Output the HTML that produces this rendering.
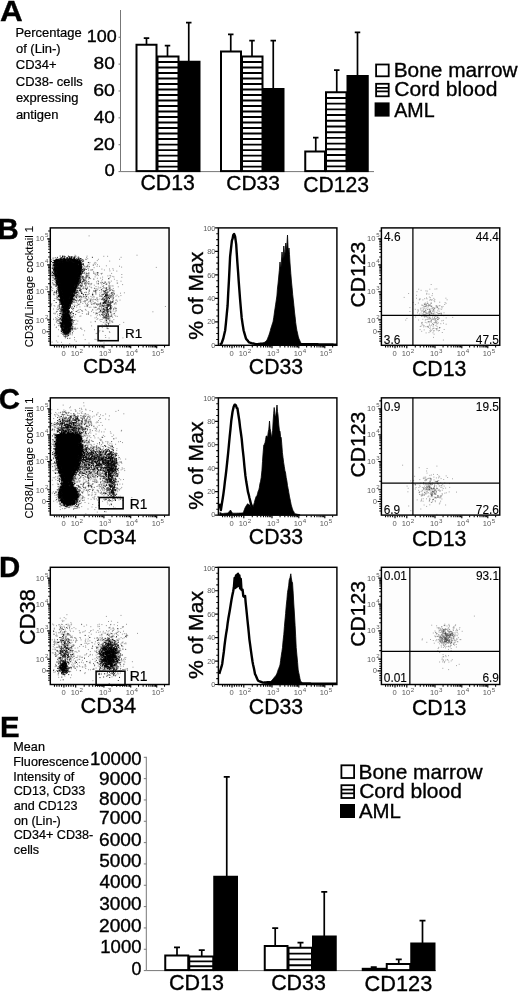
<!DOCTYPE html>
<html lang="en"><head><meta charset="utf-8"><title>Figure</title>
<style>html,body{margin:0;padding:0;background:#fff}svg{display:block}text{font-family:'Liberation Sans', Arial, sans-serif;}</style>
</head><body>
<svg width="520" height="995" viewBox="0 0 520 995">
<rect width="520" height="995" fill="#fff"/>
<defs><filter id="b1" x="-20%" y="-20%" width="140%" height="140%"><feGaussianBlur stdDeviation="1"/></filter><filter id="b2" x="-30%" y="-30%" width="160%" height="160%"><feGaussianBlur stdDeviation="2"/></filter><filter id="b3" x="-40%" y="-40%" width="180%" height="180%"><feGaussianBlur stdDeviation="3.5"/></filter></defs>
<g id="panelA">
<text x="0.01" y="21.2" font-size="29" stroke="#000" stroke-width="0.35" textLength="22.74" lengthAdjust="spacingAndGlyphs" font-weight="bold">A</text>
<text x="15.46" y="36.6" font-size="12.95" stroke="#000" stroke-width="0.22" textLength="66.24" lengthAdjust="spacingAndGlyphs">Percentage</text>
<text x="15.98" y="53.0" font-size="12.95" stroke="#000" stroke-width="0.22" textLength="44.62" lengthAdjust="spacingAndGlyphs">of (Lin-)</text>
<text x="15.85" y="69.4" font-size="12.95" stroke="#000" stroke-width="0.22" textLength="40.67" lengthAdjust="spacingAndGlyphs">CD34+</text>
<text x="15.85" y="85.8" font-size="12.95" stroke="#000" stroke-width="0.22" textLength="66.93" lengthAdjust="spacingAndGlyphs">CD38- cells</text>
<text x="15.92" y="102.2" font-size="12.95" stroke="#000" stroke-width="0.22" textLength="62.63" lengthAdjust="spacingAndGlyphs">expressing</text>
<text x="15.92" y="118.6" font-size="12.95" stroke="#000" stroke-width="0.22" textLength="42.49" lengthAdjust="spacingAndGlyphs">antigen</text>
<path d="M120.5 10V171.6H374" stroke="#777" stroke-width="1" fill="none"/>
<path d="M118.5 171.60H120.5M118.5 144.73H120.5M118.5 117.86H120.5M118.5 90.99H120.5M118.5 64.12H120.5M118.5 37.25H120.5" stroke="#777" stroke-width="1"/>
<text x="86.85" y="42.2" font-size="17" stroke="#000" stroke-width="0.35" textLength="29.93" lengthAdjust="spacingAndGlyphs">100</text>
<text x="93.64" y="69" font-size="17" stroke="#000" stroke-width="0.35" textLength="21.27" lengthAdjust="spacingAndGlyphs">80</text>
<text x="93.22" y="95.9" font-size="17" stroke="#000" stroke-width="0.35" textLength="21.70" lengthAdjust="spacingAndGlyphs">60</text>
<text x="93.72" y="122.9" font-size="17" stroke="#000" stroke-width="0.35" textLength="21.18" lengthAdjust="spacingAndGlyphs">40</text>
<text x="93.22" y="149.5" font-size="17" stroke="#000" stroke-width="0.35" textLength="21.70" lengthAdjust="spacingAndGlyphs">20</text>
<text x="104.56" y="176.3" font-size="17" stroke="#000" stroke-width="0.35" textLength="10.30" lengthAdjust="spacingAndGlyphs">0</text>
<path d="M146.50 44.75V37.50M143.75 38.10H149.25" stroke="#000" stroke-width="1.7" fill="none"/>
<path d="M167.50 56.50V45.00M164.75 45.60H170.25" stroke="#000" stroke-width="1.7" fill="none"/>
<path d="M188.75 61.75V22.00M186.00 22.60H191.50" stroke="#000" stroke-width="1.7" fill="none"/>
<path d="M230.75 51.50V33.75M228.00 34.35H233.50" stroke="#000" stroke-width="1.7" fill="none"/>
<path d="M252.00 56.50V40.00M249.25 40.60H254.75" stroke="#000" stroke-width="1.7" fill="none"/>
<path d="M273.25 89.00V40.00M270.50 40.60H276.00" stroke="#000" stroke-width="1.7" fill="none"/>
<path d="M315.75 151.50V137.00M313.00 137.60H318.50" stroke="#000" stroke-width="1.7" fill="none"/>
<path d="M336.75 92.25V69.50M334.00 70.10H339.50" stroke="#000" stroke-width="1.7" fill="none"/>
<path d="M357.50 76.00V31.75M354.75 32.35H360.25" stroke="#000" stroke-width="1.7" fill="none"/>
<rect x="136.50" y="44.75" width="20.00" height="126.35" fill="#fff" stroke="#000" stroke-width="2"/>
<rect x="157.50" y="56.50" width="21.00" height="114.60" fill="#fff" stroke="#000" stroke-width="2"/>
<path d="M157.50 62.00H178.50M157.50 67.51H178.50M157.50 73.01H178.50M157.50 78.52H178.50M157.50 84.02H178.50M157.50 89.53H178.50M157.50 95.03H178.50M157.50 100.54H178.50M157.50 106.04H178.50M157.50 111.55H178.50M157.50 117.05H178.50M157.50 122.56H178.50M157.50 128.06H178.50M157.50 133.57H178.50M157.50 139.07H178.50M157.50 144.58H178.50M157.50 150.08H178.50M157.50 155.59H178.50M157.50 161.09H178.50M157.50 166.60H178.50" stroke="#000" stroke-width="1.9" fill="none"/>
<rect x="178.50" y="60.75" width="22.00" height="111.35" fill="#000"/>
<rect x="221.00" y="51.50" width="20.00" height="119.60" fill="#fff" stroke="#000" stroke-width="2"/>
<rect x="242.00" y="56.50" width="20.50" height="114.60" fill="#fff" stroke="#000" stroke-width="2"/>
<path d="M242.00 62.00H262.50M242.00 67.51H262.50M242.00 73.01H262.50M242.00 78.52H262.50M242.00 84.02H262.50M242.00 89.53H262.50M242.00 95.03H262.50M242.00 100.54H262.50M242.00 106.04H262.50M242.00 111.55H262.50M242.00 117.05H262.50M242.00 122.56H262.50M242.00 128.06H262.50M242.00 133.57H262.50M242.00 139.07H262.50M242.00 144.58H262.50M242.00 150.08H262.50M242.00 155.59H262.50M242.00 161.09H262.50M242.00 166.60H262.50" stroke="#000" stroke-width="1.9" fill="none"/>
<rect x="262.50" y="88.00" width="22.00" height="84.10" fill="#000"/>
<rect x="305.25" y="151.50" width="19.75" height="19.60" fill="#fff" stroke="#000" stroke-width="2"/>
<rect x="326.00" y="92.25" width="20.50" height="78.85" fill="#fff" stroke="#000" stroke-width="2"/>
<path d="M326.00 97.95H346.50M326.00 103.66H346.50M326.00 109.36H346.50M326.00 115.06H346.50M326.00 120.77H346.50M326.00 126.47H346.50M326.00 132.18H346.50M326.00 137.88H346.50M326.00 143.58H346.50M326.00 149.29H346.50M326.00 154.99H346.50M326.00 160.69H346.50M326.00 166.40H346.50" stroke="#000" stroke-width="1.9" fill="none"/>
<rect x="346.50" y="75.00" width="22.25" height="97.10" fill="#000"/>
<text x="140.44" y="190.4" font-size="21.26" stroke="#000" stroke-width="0.35" textLength="54.36" lengthAdjust="spacingAndGlyphs">CD13</text>
<text x="226.36" y="190.2" font-size="20.89" stroke="#000" stroke-width="0.35" textLength="53.42" lengthAdjust="spacingAndGlyphs">CD33</text>
<text x="303.14" y="192.2" font-size="21.16" stroke="#000" stroke-width="0.35" textLength="65.87" lengthAdjust="spacingAndGlyphs">CD123</text>
<rect x="376.10" y="64.50" width="12.60" height="11.80" fill="#fff" stroke="#000" stroke-width="1.8"/>
<rect x="376.10" y="83.80" width="12.60" height="12.50" fill="#fff" stroke="#000" stroke-width="1.8"/>
<path d="M376 87.8H389M376 91.3H389" stroke="#000" stroke-width="1.8"/>
<rect x="374.60" y="102.40" width="15.00" height="14.20" fill="#000"/>
<text x="393.73" y="76.8" font-size="20.83" stroke="#000" stroke-width="0.35" textLength="123.90" lengthAdjust="spacingAndGlyphs">Bone marrow</text>
<text x="394.35" y="96.3" font-size="21.07" stroke="#000" stroke-width="0.35" textLength="103.07" lengthAdjust="spacingAndGlyphs">Cord blood</text>
<text x="394.2" y="116.8" font-size="19.65" stroke="#000" stroke-width="0.35" textLength="40.41" lengthAdjust="spacingAndGlyphs">AML</text>
</g>
<g id="panelB">
<text x="-2.61" y="238.8" font-size="29.4" stroke="#000" stroke-width="0.35" textLength="21.23" lengthAdjust="spacingAndGlyphs" font-weight="bold">B</text>
<clipPath id="c1"><rect x="50.3" y="227.9" width="118.75" height="117.40"/></clipPath>
<rect x="50.3" y="227.9" width="118.75" height="117.40" fill="#fdfdfd"/>
<g clip-path="url(#c1)">
<path d="M55.5 261.0L62.0 260.2L72.0 260.2L79.5 261.2L80.3 271.0L75.5 286.0L70.0 301.0L67.2 310.0L67.0 314.0L69.8 319.5L70.0 327.0L67.5 332.5L64.5 332.5L62.4 327.0L62.6 319.5L64.4 314.0L64.2 310.0L62.0 301.0L59.0 286.0L55.3 271.0Z" fill="#000" fill-opacity="1" filter="url(#b1)"/>
<path transform="scale(.1)" d="M659 3293h0M676 3160h0M652 3089h0M694 2944h0M679 3100h0M602 3157h0M533 2733h0M710 2630h0M620 3237h0M753 2602h0M691 2850h0M698 3286h0M763 2828h0M702 2850h0M805 2676h0M777 2771h0M593 3043h0M699 2977h0M695 3082h0M695 3037h0M546 2846h0M655 3150h0M776 2722h0M741 3292h0M694 3117h0M811 2703h0M729 2957h0M725 2900h0M591 2910h0M633 3209h0M797 2697h0M572 2898h0M830 2784h0M807 2980h0M779 2800h0M584 3257h0M764 2894h0M652 2938h0M634 3181h0M716 2601h0M614 3292h0M693 3102h0M767 2625h0M727 3295h0M759 2627h0M659 3247h0M665 3056h0M631 2597h0M762 2950h0M633 3004h0M585 2852h0M650 3117h0M782 2619h0M805 2639h0M746 2636h0M637 3338h0M672 2667h0M634 2817h0M706 3238h0M759 2622h0M567 2855h0M734 3313h0M629 2898h0M768 2958h0M624 3158h0M815 2609h0M590 2957h0M697 3174h0M702 2943h0M590 2808h0M698 3055h0M604 2965h0M811 2710h0M565 2929h0M659 3307h0M725 2595h0M774 2573h0M580 2873h0M668 2604h0M639 3022h0M641 3037h0M570 2749h0M677 3262h0M603 2959h0M578 3075h0M743 2958h0M617 3115h0M704 3267h0M564 2751h0M609 2891h0M656 3073h0M549 2612h0M806 2628h0M730 2957h0M743 2569h0M654 3325h0M582 3362h0M545 2628h0M707 2623h0M692 2653h0M619 2889h0M813 2760h0M627 2597h0M594 3153h0M741 2837h0M607 3106h0M789 2872h0M649 3327h0M615 2772h0M710 3220h0M648 3059h0M548 2632h0M682 3339h0M746 2933h0M779 2969h0M645 3302h0M681 3199h0M580 2739h0M848 2822h0M738 2815h0M723 3294h0M578 2881h0M520 2645h0M742 2842h0M768 2736h0M732 2596h0M633 3145h0M748 2601h0M699 3069h0M535 2733h0M751 3244h0M650 3149h0M692 3299h0M627 2859h0M701 3382h0M684 3148h0M637 3310h0M712 2585h0M793 2753h0M580 2817h0M601 3014h0M566 2616h0M663 3312h0M681 2588h0M701 2793h0M716 2960h0M758 2683h0M737 2906h0M708 2578h0M605 2785h0M621 3188h0M628 3240h0M669 3132h0M689 3123h0M768 3239h0M670 3332h0M623 3220h0M675 3141h0M512 2735h0M593 2868h0M580 2649h0M688 3133h0M558 2731h0M712 2610h0M557 2597h0M819 2698h0M526 2715h0M687 3344h0M562 2637h0M570 2813h0M701 2848h0M751 2574h0M669 3276h0M617 2592h0M628 3047h0M640 2561h0M615 3267h0M556 2746h0M714 2963h0M602 2615h0M549 2617h0M658 3028h0M615 2971h0M750 2552h0M705 3308h0M764 2610h0M526 2905h0M691 2961h0M698 2579h0M678 3007h0M645 2609h0M703 3224h0M678 3024h0M554 2862h0M603 3046h0M684 3332h0M746 2912h0M636 3052h0M786 2671h0M630 3304h0M688 3061h0M536 2788h0M796 2710h0M645 2640h0M729 3164h0M577 3203h0M795 2996h0M622 2978h0M779 2743h0M586 2606h0M752 2833h0M558 2633h0M705 2942h0M791 2933h0M630 3059h0M811 2755h0M826 2668h0M727 2608h0M741 2648h0M603 3137h0M704 3017h0M642 2837h0M690 2582h0M737 3023h0M618 2894h0M553 2763h0M637 3201h0M736 2584h0M784 2657h0M563 3222h0M636 3073h0M800 2685h0M650 2656h0M645 3211h0M632 3308h0M679 2585h0M699 2579h0M612 3307h0M527 2724h0M743 3206h0M570 2994h0M707 3209h0M632 3063h0M678 3174h0M779 2719h0M659 3047h0M612 2628h0M748 2794h0M526 2724h0M561 2612h0M769 2923h0M694 2633h0M677 2965h0M697 3037h0M704 3312h0M692 3019h0M699 3202h0M794 2640h0M625 3105h0M598 3080h0M575 3190h0M803 2961h0M687 3271h0M597 3080h0M782 2844h0M777 2832h0M672 2846h0M771 2662h0M638 2631h0M646 3087h0M539 2846h0M714 3148h0M791 2847h0M675 2658h0M671 3311h0M677 3187h0M811 2802h0M650 3193h0M545 2685h0M595 2851h0M751 2609h0M659 3156h0M614 3087h0M664 2869h0M583 2650h0M668 3189h0M593 2803h0M581 2644h0M700 2615h0M624 3002h0M598 2640h0M721 2569h0M571 2804h0M798 2770h0M622 2657h0M711 2968h0M685 3241h0M621 3334h0M592 2886h0M764 2613h0M708 3216h0M626 2883h0M518 3037h0M651 3312h0M747 2581h0M593 2855h0M552 2683h0M628 2876h0M532 2772h0M531 2581h0M603 3002h0M780 2747h0M741 2662h0M637 3361h0M649 3366h0M566 2884h0M698 3321h0M777 2674h0M685 3167h0M682 3270h0M557 2927h0M751 2906h0M707 3328h0M684 3236h0M658 2847h0M815 2820h0M628 2567h0M678 2964h0M761 2693h0M625 3150h0M790 2757h0M560 3195h0M714 3291h0M692 3283h0M553 2720h0M727 3017h0M627 3245h0M629 3022h0M605 3097h0M733 3226h0M589 2887h0M805 2586h0M779 2589h0M550 2796h0M651 2615h0M760 3005h0M654 3117h0M723 3301h0M614 2849h0M792 2704h0M724 3172h0M671 3185h0M714 2573h0M543 2722h0M686 3199h0M724 3263h0M703 2887h0M671 3186h0M644 3118h0M689 3180h0M786 2835h0M614 3015h0M735 3153h0M674 3154h0M796 2675h0M764 2869h0M690 3201h0M689 3022h0M817 2997h0M557 2754h0M578 2916h0M584 3175h0M784 2798h0M637 3006h0M673 3079h0M567 2790h0M698 3286h0M695 2945h0M697 3235h0M592 3238h0M595 2775h0M723 3261h0M605 2601h0M605 3037h0M616 2749h0M661 2891h0M600 3238h0M565 3270h0M571 2795h0M588 2953h0M745 2633h0M622 3006h0M795 2703h0M676 3301h0M682 3011h0M660 2953h0M714 3246h0M615 3229h0M693 3006h0M589 3084h0M684 2613h0M718 2593h0M717 3001h0M592 3257h0M547 2723h0M702 3195h0M709 3197h0M674 2595h0M622 2822h0M794 2660h0M594 3043h0M660 3052h0M560 2708h0M656 3341h0M610 2575h0M549 2769h0M709 2910h0M590 3203h0M711 2883h0M621 3065h0M719 2614h0M821 2735h0M740 2941h0M783 2813h0M618 3144h0M590 2906h0M610 3254h0M664 2660h0M692 2997h0M638 2975h0M678 3003h0M828 2772h0M778 3211h0M639 2806h0M658 2668h0M549 2798h0M655 3121h0M684 3315h0M525 2804h0M726 2864h0M610 2946h0M676 3321h0M639 3186h0M809 2750h0M613 2994h0M654 2628h0M726 3235h0M522 2740h0M667 3085h0M552 2798h0M783 2930h0M563 2913h0M686 3314h0M655 3099h0M604 2609h0M551 3139h0M622 3191h0M647 2571h0M780 2755h0M656 3374h0M784 2633h0M668 3096h0M585 3195h0M604 2867h0M838 2777h0M522 2748h0M668 3112h0M627 3179h0M563 3185h0M646 2606h0M732 2591h0M581 2830h0M611 3003h0M562 3276h0M664 3222h0M675 3057h0M693 3115h0M682 3302h0M652 2586h0M607 2889h0M544 2949h0M782 2730h0M611 3087h0M559 2860h0M737 2765h0M689 2956h0M601 2601h0M710 3289h0M672 2620h0M582 2865h0M742 2838h0M770 2877h0M769 2766h0M691 3241h0M667 3349h0M661 3246h0M821 2737h0M636 2949h0M692 2871h0M677 3263h0M736 2828h0M641 3166h0M809 2649h0M792 2832h0M714 2993h0M556 2696h0M650 3064h0M589 2630h0M673 2607h0M549 3062h0M628 2942h0M537 2776h0M790 2688h0M781 2695h0M566 2983h0M729 2571h0M628 3290h0M676 3020h0M779 2667h0M556 2577h0M624 3131h0M690 3166h0M697 3278h0M774 2841h0M530 2841h0M628 3104h0M611 2590h0M714 2602h0M616 3242h0M677 3283h0M561 2857h0M597 2842h0M597 2948h0M574 3163h0M688 2945h0M655 3278h0M649 3052h0M787 2808h0M577 2828h0M657 3214h0M784 2732h0M774 2804h0M628 2894h0M797 2802h0M708 3125h0M641 3159h0M812 2864h0M820 2790h0M796 2679h0M754 3292h0M570 2952h0M741 2972h0M615 3050h0M773 2789h0M617 2607h0M612 2840h0M595 2999h0M531 2603h0M549 2732h0M715 2916h0M662 3173h0M852 2686h0M708 3216h0M647 3244h0M668 3185h0M738 2814h0M632 3136h0M570 2824h0M849 2734h0M584 2771h0M627 2709h0M551 2634h0M768 2803h0M723 2818h0M818 2661h0M724 2612h0M616 2948h0M633 2907h0M751 2874h0M658 2596h0M565 2747h0M709 2588h0M619 3162h0M705 3241h0M609 3202h0M703 2565h0M668 3223h0M600 3025h0M700 3249h0M735 3217h0M753 2733h0M612 3334h0M671 3119h0M607 2966h0M757 2846h0M667 3310h0M599 3102h0M585 2779h0M600 2963h0M581 2958h0M670 3091h0M566 2735h0M725 3001h0M737 2985h0M766 2584h0M764 2772h0M625 2559h0M573 2844h0M694 3198h0M616 3201h0M676 2901h0M785 2617h0M553 2602h0M638 3062h0M611 2598h0M835 2764h0M593 3054h0M818 2674h0M653 2977h0M699 3265h0M670 2632h0M701 3208h0M772 2913h0M672 3162h0M598 2607h0M612 2967h0M845 2728h0M705 3138h0M547 2817h0M667 3187h0M704 3208h0M580 2593h0M706 2958h0M737 2839h0M683 3133h0M697 3189h0M734 3101h0M611 3256h0M723 2592h0M547 2754h0M666 3308h0M517 2596h0M844 2730h0M625 3058h0M703 3149h0M614 2796h0M550 2579h0M643 2625h0M618 2856h0M661 3007h0M543 2735h0M802 2658h0M680 3097h0M511 2713h0M549 2613h0M791 2596h0M707 2880h0M645 2634h0M715 3079h0M712 3005h0M837 2704h0M556 2664h0M638 3354h0M623 3098h0M641 3108h0M704 3342h0M524 2655h0M646 2985h0M692 2999h0M645 3269h0M769 2719h0M601 2596h0M595 2683h0M627 2872h0M644 2870h0M629 3195h0M657 2596h0M660 3184h0M553 2724h0M538 2648h0M661 3085h0M681 2621h0M529 2833h0M731 3282h0M620 3113h0M653 3380h0M610 2580h0M589 3061h0M513 2681h0M810 2680h0M662 2998h0M884 2750h0M909 2837h0M725 2977h0M733 2959h0M618 3013h0M1108 3029h0M836 2652h0M742 2745h0M705 2977h0M816 2969h0M894 2666h0M651 2925h0M804 2863h0M710 3014h0M855 3033h0M761 2961h0M794 2699h0M791 2584h0M780 2879h0M877 2681h0M653 2733h0M571 2745h0M1089 2873h0M716 2741h0M995 2663h0M787 2837h0M719 2734h0M615 2715h0M943 3077h0M769 2963h0M851 2868h0M785 3045h0M863 2814h0M774 3000h0M734 2735h0M770 2770h0M939 2907h0M790 2765h0M956 2921h0M1030 2996h0M776 2762h0M769 2879h0M887 2928h0M973 2606h0M803 2622h0M686 2753h0M728 2694h0M632 3033h0M765 3005h0M734 2991h0M738 2913h0M681 3073h0M848 3019h0M769 3055h0M808 2772h0M729 2859h0M700 2658h0M814 2964h0M768 2985h0M975 2647h0M828 2695h0M729 2878h0M538 2947h0M893 2937h0M871 3141h0M760 3025h0M960 2929h0M603 2825h0M768 2590h0M793 2971h0M771 2821h0M962 2751h0M696 2856h0M924 2945h0M808 2771h0M936 2992h0M609 2903h0M535 3090h0M867 2749h0M658 2802h0M607 2940h0M744 2566h0M798 3040h0M660 2793h0M1000 2879h0M739 2880h0M886 2689h0M789 2588h0M625 2603h0M893 2900h0M881 3045h0M805 2888h0M845 2925h0M683 2806h0M783 2856h0M717 2828h0M832 2880h0M865 2982h0M861 3005h0M893 3073h0M869 2751h0M1057 3031h0M938 2967h0M805 2666h0M848 2793h0M971 2663h0M679 2925h0M862 2723h0M799 2890h0M817 2934h0M885 2791h0M621 3197h0M757 2691h0M883 2944h0M732 3227h0M541 3055h0M796 2899h0M835 2813h0M835 2641h0M756 3146h0M515 3047h0M553 2713h0M897 2784h0M736 2609h0M787 2821h0M729 2599h0M817 2917h0M926 2932h0M968 3042h0M788 2682h0M848 3004h0M629 2652h0M876 2761h0M961 2885h0M739 2637h0M866 2574h0M656 2639h0M988 3124h0M775 2788h0M877 3050h0M711 3203h0M777 3032h0M539 2841h0M723 3168h0M776 2645h0M1015 2740h0M800 2649h0M875 2881h0M768 2785h0M737 2734h0M644 3043h0M899 2626h0M671 2915h0M1050 2817h0M765 2809h0M827 2822h0M920 3008h0M861 3103h0M774 2761h0M839 2678h0M785 2787h0M681 3029h0M756 2922h0M742 2874h0M750 2862h0M789 2740h0M848 2820h0M693 2681h0M849 3063h0M655 2783h0M850 3017h0M879 2660h0M804 2994h0M826 2814h0M669 2876h0M793 2855h0M966 3040h0M712 2887h0M766 2866h0M980 2997h0M804 2744h0M782 2908h0M745 3027h0M802 2660h0M770 2830h0M909 3029h0M961 3100h0M835 2868h0M912 2846h0M661 2777h0M873 2948h0M678 3042h0M834 2609h0M852 3011h0M859 2800h0M711 3030h0M825 2849h0M756 2684h0M593 2795h0M922 2972h0M725 3095h0M775 2688h0M908 3072h0M757 2654h0M806 3095h0M830 2732h0M878 2771h0M940 2792h0M1025 2793h0M821 2699h0M659 2905h0M839 2694h0M862 2784h0M739 2838h0M844 2967h0M937 2911h0M720 2740h0M841 2658h0M781 2788h0M789 2879h0M915 3113h0M898 3012h0M682 3016h0M943 2633h0M1079 2759h0M537 3133h0M807 2721h0M737 3022h0M828 2790h0M927 2699h0M706 2760h0M717 2961h0M775 2681h0M818 2866h0M867 2812h0M844 2700h0M803 2875h0M666 2944h0M816 2858h0M747 3171h0M800 2727h0M706 2945h0M777 2723h0M720 3000h0M809 3019h0M798 2660h0M896 2901h0M728 2800h0M693 2983h0M754 2927h0M829 2808h0M841 2810h0M670 2783h0M670 2971h0M872 2756h0M868 2889h0M907 2700h0M803 2691h0M725 3069h0M579 2703h0M854 2974h0M611 2909h0M921 2995h0M719 3066h0M779 2948h0M779 3105h0M765 2880h0M831 2735h0M774 2668h0M774 2864h0M826 3113h0M580 2933h0M848 2665h0M808 2849h0M690 2965h0M1010 2958h0M885 3020h0M786 3006h0M711 2879h0M877 3059h0M768 2803h0M851 2837h0M815 2978h0M716 2990h0M842 2808h0M663 2749h0M795 3000h0M584 2963h0M821 2670h0M894 2913h0M848 2694h0M679 2995h0M954 2908h0M779 2778h0M612 3007h0M790 3046h0M721 3017h0M722 2943h0M950 2738h0M899 2849h0M697 2882h0M871 2736h0M771 2760h0M716 2817h0M890 2771h0M936 2790h0M725 3020h0M953 2747h0M864 2665h0M756 2791h0M877 2651h0M744 2741h0M811 2655h0M654 3298h0M823 2611h0M891 2641h0M595 3114h0M936 2717h0M681 2925h0M1021 2945h0M872 2662h0M606 2911h0M910 2872h0M799 3069h0M708 3024h0M890 2751h0M813 2867h0M863 2695h0M775 2864h0M803 2853h0M827 2820h0M746 3013h0M730 2800h0M704 2669h0M849 2843h0M785 2921h0M781 2957h0M996 2905h0M771 3111h0M877 2587h0M944 2883h0M892 2668h0M708 2748h0M860 2673h0M723 3000h0M730 2868h0M703 2582h0M791 2831h0M645 3003h0M889 2989h0M745 2669h0M790 2876h0M781 2757h0M692 2734h0M791 2773h0M980 2806h0M849 2777h0M780 2697h0M748 2614h0M576 3061h0M686 2918h0M786 2761h0M878 2762h0M847 2792h0M905 3000h0M807 3022h0M854 3094h0M787 2607h0M823 2887h0M761 2817h0M771 2653h0M985 2728h0M684 2602h0M709 2844h0M959 2944h0M721 2655h0M679 2837h0M893 2774h0M973 3153h0M917 2834h0M872 3004h0M691 2860h0M819 2732h0M875 2830h0M756 3144h0M818 3106h0M783 3012h0M719 2873h0M858 2807h0M917 2878h0M792 2649h0M1116 2734h0M765 2736h0M767 2884h0M656 3015h0M772 2944h0M573 2768h0M768 2789h0M728 2898h0M843 2696h0M589 2964h0M765 3017h0M893 2833h0M646 2793h0M721 3044h0M519 2908h0M529 2883h0M605 3092h0M594 3154h0M776 3051h0M550 2985h0M632 2949h0M730 3246h0M796 3122h0M692 2861h0M593 3197h0M651 2799h0M639 2780h0M635 2787h0M567 2918h0M857 2787h0M547 2914h0M722 3176h0M694 2956h0M649 2869h0M625 2861h0M526 2825h0M790 3097h0M581 2998h0M604 3258h0M637 2895h0M692 3082h0M586 2868h0M650 2699h0M568 3217h0M707 3238h0M605 2903h0M618 2925h0M739 2976h0M745 2880h0M669 3337h0M581 2891h0M593 2704h0M616 2893h0M811 2926h0M713 3012h0M662 3160h0M595 3027h0M650 3344h0M749 3052h0M535 3192h0M635 3248h0M643 3055h0M690 2876h0M572 3202h0M692 3179h0M746 2757h0M714 2616h0M643 3085h0M719 3232h0M566 2966h0M627 2883h0M575 2890h0M729 3286h0M698 3349h0M646 2806h0M588 3059h0M719 3257h0M569 3207h0M597 3136h0M710 3310h0M598 3067h0M672 2937h0M646 3136h0M511 2893h0M819 3108h0M596 2660h0M564 3121h0M692 3107h0M685 2901h0M763 2799h0M679 2967h0M617 3159h0M738 3052h0M588 2977h0M634 3303h0M706 3331h0M698 2870h0M711 3210h0M629 3110h0M614 2772h0M632 3169h0M611 2580h0M577 3233h0M656 3240h0M580 2937h0M561 2867h0M679 3047h0M601 3078h0M537 2943h0M522 2725h0M533 2804h0M762 3290h0M737 2906h0M687 2797h0M597 3067h0M514 3059h0M687 2613h0M629 3048h0M551 3132h0M648 2876h0M767 3071h0M696 3384h0M600 2976h0M683 3059h0M540 2852h0M647 3079h0M568 2977h0M576 3142h0M688 2910h0M603 2778h0M638 3189h0M684 3311h0M613 2841h0M720 3201h0M587 3236h0M638 3011h0M782 3125h0M663 2957h0M654 3228h0M674 2871h0M674 2996h0M663 2982h0M609 2584h0M521 3421h0M693 2929h0M664 2577h0M658 3214h0M653 2761h0M714 2915h0M594 3059h0M615 3423h0M628 3445h0M674 2774h0M639 3030h0M751 3273h0M838 2888h0M569 3090h0M764 2819h0M612 2872h0M680 3099h0M636 3150h0M1118 2925h0M1098 3089h0M1034 3121h0M1159 3081h0M1039 3023h0M1121 3069h0M1128 2965h0M1121 2859h0M1063 3006h0M1050 3181h0M1046 3080h0M1143 3135h0M1053 2956h0M990 3084h0M1105 3167h0M1079 3288h0M1100 2774h0M1035 3132h0M1054 3136h0M1171 2952h0M1157 3031h0M1011 3051h0M1106 2973h0M1132 2940h0M1062 3146h0M1061 2976h0M1069 3115h0M1138 3196h0M1144 3037h0M1004 3035h0M1053 2925h0M1049 3032h0M1072 3145h0M1033 3172h0M1072 3125h0M1119 2898h0M1133 2957h0M1086 3165h0M1106 2860h0M1076 3171h0M1065 3031h0M1073 3229h0M1048 2932h0M1026 2979h0M1060 3080h0M1067 2842h0M1007 3118h0M1099 2884h0M1107 2760h0M1162 3108h0M1004 3099h0M1069 2988h0M1055 3014h0M1066 2936h0M1047 3104h0M1091 2887h0M1050 3220h0M1098 3230h0M1016 2920h0M983 2817h0M1055 2919h0M1026 2960h0M1062 3136h0M1092 2838h0M1129 3002h0M1030 3037h0M1054 2880h0M1132 2973h0M1046 3102h0M1137 3096h0M1034 3090h0M1114 3084h0M1096 2985h0M1067 2846h0M1041 2909h0M1070 3212h0M980 2888h0M1033 3030h0M1117 2950h0M1039 3180h0M1085 3101h0M1103 2955h0M1079 2964h0M1041 3055h0M1087 2893h0M1039 3110h0M1077 3117h0M1057 2947h0M1101 3109h0M956 3140h0M1039 3117h0M1133 3008h0M1031 3070h0M1074 3105h0M1014 3068h0M1106 3121h0M1095 3178h0M1037 3181h0M1078 2925h0M1058 3071h0M1083 3196h0M1078 2981h0M1158 3002h0M1037 3147h0M1053 2949h0M1027 3177h0M1027 3052h0M1052 3018h0M1037 3058h0M1094 3162h0M1056 2906h0M1010 3041h0M970 3194h0M1071 3054h0M1014 2966h0M1040 3118h0M1054 3112h0M1091 2818h0M1061 3186h0M1049 3055h0M1065 2899h0M1158 3025h0M1096 2989h0M1126 3173h0M1117 3150h0M1098 3200h0M1086 3056h0M1102 2938h0M968 3134h0M1076 2960h0M1059 2931h0M1036 3062h0M1075 3137h0M1066 3114h0M1097 2960h0M1002 2962h0M1060 2980h0M1159 2962h0M1089 2953h0M1098 2896h0M1108 3062h0M1054 2903h0M1137 2974h0M1128 2764h0M1022 3249h0M1142 3043h0M1110 3111h0M1056 3056h0M1024 2887h0M1075 3125h0M1076 2900h0M1104 3051h0M1100 3008h0M1059 3162h0M1125 2903h0M1026 3153h0M1084 3047h0M1031 3157h0M1078 3066h0M1086 2981h0M1086 3056h0M1099 3085h0M1019 2960h0M1059 3175h0M1044 3172h0M1113 3142h0M1161 3040h0M1083 3181h0M1086 3156h0M1065 3204h0M1084 2822h0M1114 3019h0M1035 3007h0M1059 3173h0M1083 3033h0M1069 2938h0M1044 2988h0M1061 2908h0M1054 3157h0M1088 3042h0M1084 3014h0M1022 3143h0M1160 3100h0M1098 3324h0M1021 3102h0M1056 3010h0M1004 3033h0M1086 2858h0M1061 2985h0M1030 3114h0M1136 3089h0M1111 3129h0M1067 3108h0M1123 2993h0M1064 2884h0M995 2948h0M1106 3083h0M1080 3192h0M999 3200h0M1073 3131h0M1125 2949h0M1035 3088h0M1068 2975h0M1065 2959h0M1075 2998h0M1138 2923h0M1093 3050h0M1134 2931h0M1051 3240h0M1044 2998h0M1054 2930h0M1119 3215h0M1064 2956h0M1016 3117h0M1049 3104h0M973 2993h0M1095 3089h0M955 3075h0M1075 3039h0M1056 2991h0M1076 3100h0M943 3040h0M1107 3017h0M1119 2935h0M1147 3151h0M1054 3355h0M1128 3222h0M1022 3029h0M1089 3161h0M1073 2894h0M1119 3022h0M1088 3005h0M1065 2885h0M1097 2970h0M999 3089h0M1069 3151h0M1103 2903h0M1063 3041h0M1074 2921h0M1073 3153h0M1120 3208h0M1100 2754h0M1059 2979h0M954 3217h0M1107 3041h0M1084 3097h0M1061 3198h0M1143 3135h0M1048 3070h0M1109 3123h0M1042 3150h0M1099 3108h0M1053 3038h0M993 3038h0M1052 3008h0M1059 3005h0M1073 3052h0M1045 3026h0M1066 3097h0M1088 3001h0M1037 2855h0M1020 3088h0M1033 3224h0M1064 2997h0M1064 2979h0M1045 3049h0M1012 3056h0M1066 2939h0M1111 3082h0M1114 2965h0M1020 2906h0M1007 2826h0M1133 2987h0M1078 2980h0M1064 3220h0M1000 2929h0M1075 2938h0M1098 3188h0M1106 3126h0M1063 3155h0M1038 2906h0M1060 3013h0M1119 2929h0M1116 2953h0M1019 2848h0M1069 2877h0M1079 3046h0M1054 2822h0M1049 3092h0M998 3119h0M1071 2979h0M1078 3115h0M1069 2953h0M1102 2964h0M1085 3152h0M1122 3222h0M1111 3057h0M1062 3062h0M1091 3380h0M1096 2947h0M1131 2860h0M1110 2896h0M1026 2984h0M1059 2887h0M1095 3028h0M1124 2925h0M997 3119h0M1061 3152h0M976 2899h0M1074 3263h0M1021 2824h0M1052 3201h0M1133 2886h0M1046 2831h0M1036 2931h0M1087 3170h0M1166 3000h0M1103 3066h0M1075 3260h0M1098 3218h0M1082 3139h0M1090 3030h0M1042 2995h0M1071 2997h0M1056 2960h0M1104 3013h0M1065 3016h0M1123 2980h0M1127 2943h0M1131 3110h0M1050 3092h0M1116 2932h0M1061 3076h0M1062 3008h0M1071 3076h0M1101 3208h0M1057 3375h0M1057 3243h0M1065 2875h0M1053 3001h0M1113 2811h0M1045 3026h0M1096 3086h0M1104 3022h0M1061 3178h0M1139 3084h0M1076 2943h0M1154 3086h0M1095 2858h0M1094 3317h0M1064 3017h0M1132 3019h0M1104 3261h0M1023 2946h0M1097 3054h0M1072 3022h0M1075 3081h0M1051 3009h0M1079 2917h0M1088 2791h0M1096 3027h0M1023 3194h0M1023 3276h0M1041 3178h0M1068 3224h0M1061 3158h0M1057 2827h0M1086 3095h0M1086 3231h0M1041 2878h0M1080 2962h0M1066 3040h0M1038 3165h0M1065 3244h0M1080 3161h0M1059 2965h0M1049 2940h0M1088 3056h0M1027 2865h0M1036 2833h0M1035 2868h0M1098 2908h0M1047 3027h0M1071 3089h0M1101 3114h0M1056 3183h0M1085 2960h0M1130 2906h0M1089 3183h0M1075 3080h0M1075 3116h0M1079 3041h0M1098 2825h0M1080 3006h0M1148 3073h0M1044 3115h0M1055 2905h0M1059 3098h0M1117 3160h0M1079 3022h0M1078 3178h0M1065 3173h0M1039 3039h0M1101 3120h0M1078 2982h0M999 2990h0M1037 2995h0M1133 2953h0M1104 3038h0M1026 3053h0M1100 2905h0M1024 2997h0M1099 2972h0M1087 3093h0M1071 3092h0M1120 3019h0M1083 2919h0M1042 3029h0M1102 2964h0M1015 3146h0M1211 2573h0M906 3000h0M1044 2831h0M1030 3154h0M976 3096h0M1012 2833h0M946 2884h0M1118 3163h0M1022 2733h0M957 2917h0M830 2977h0M1026 2771h0M963 2908h0M1164 3085h0M1068 2994h0M887 3126h0M941 2677h0M1065 2926h0M1000 3062h0M980 3045h0M1114 2929h0M969 2983h0M1057 2917h0M1008 2873h0M994 3066h0M928 2951h0M872 2870h0M1007 3064h0M909 2964h0M918 3030h0M1023 3050h0M982 2755h0M951 2769h0M941 2971h0M1095 2879h0M932 3012h0M819 3294h0M865 3141h0M1086 3132h0M991 3096h0M970 3132h0M943 2852h0M1034 2909h0M1059 2845h0M1024 2825h0M991 3319h0M906 2786h0M860 2944h0M1142 2909h0M1082 2951h0M945 3297h0M1095 2690h0M915 3045h0M1057 2945h0M1028 3065h0M970 3137h0M926 3099h0M1080 3012h0M970 2977h0M806 3020h0M876 2663h0M1067 2836h0M1031 2987h0M846 2838h0M977 3054h0M1006 2781h0M954 2997h0M889 2911h0M952 2646h0M1151 3118h0M960 3129h0M909 3221h0M968 3002h0M950 2995h0M1029 2985h0M928 3099h0M1049 2980h0M1092 2864h0M1112 2955h0M1132 2910h0M978 3013h0M1096 3207h0M960 2866h0M1067 3176h0M1062 2928h0M1111 2976h0M1015 3078h0M951 2624h0M1019 3093h0M1038 3066h0M1014 3144h0M1010 3215h0M1005 3106h0M952 3028h0M1037 3002h0M1135 2987h0M1098 3036h0M1095 2838h0M968 3132h0M929 3042h0M1050 3011h0M1038 3066h0M980 3045h0M955 2909h0M862 2964h0M852 2985h0M1018 2809h0M1006 3026h0M970 2837h0M990 3045h0M1081 3285h0M828 3034h0M1038 2880h0M1028 3310h0M1010 3195h0M1093 2910h0M799 3163h0M1134 2702h0M983 2870h0M1018 2990h0M1100 2887h0M1168 2711h0M1019 3403h0M992 3079h0M1078 2925h0M833 3014h0M1064 2658h0M958 3069h0M791 2950h0M862 2768h0M1036 3160h0M1102 2876h0M1044 2700h0M871 3066h0M965 2819h0M837 2943h0M1195 2662h0M909 3158h0M833 2882h0M1006 3159h0M994 3268h0M997 2962h0M1039 3036h0M869 2830h0M980 3034h0M893 2867h0M935 3034h0M963 3075h0M1034 2835h0M974 2783h0M1009 3108h0M914 2700h0M1045 2934h0M998 3053h0M1033 3127h0M960 2631h0M958 2932h0M964 3042h0M978 3186h0M886 2703h0M722 3348h0M980 3085h0M755 2816h0M1076 2563h0M997 3401h0M984 2593h0M545 3249h0M655 2926h0M996 3151h0M730 3157h0M1187 2967h0M809 3160h0M1157 3161h0M1197 3246h0M1218 2773h0M1011 2736h0M606 2854h0M1210 2812h0M745 3375h0M1237 3224h0M777 3283h0M566 2848h0M696 3315h0M846 3308h0M876 2881h0M768 2592h0M852 3396h0M1229 3379h0M591 2944h0M1129 2687h0M568 2733h0M581 3209h0M1040 3430h0M557 3175h0M1099 2709h0M578 3422h0M1097 2611h0M657 3136h0M645 2938h0M629 2632h0M874 3033h0M779 2614h0M923 2697h0M762 3413h0M994 3145h0M962 2729h0M1020 3414h0M585 3297h0M771 2729h0M998 3307h0M642 2725h0M886 2732h0M890 3431h0M539 2931h0M668 2698h0M950 3393h0M863 3047h0M1030 3315h0M1226 2846h0M649 3366h0M962 3336h0M627 3252h0M606 2667h0M608 2872h0M823 3135h0M1205 2932h0M942 2916h0M799 2786h0M524 2778h0M1048 3261h0M1021 2942h0M820 2718h0M697 3438h0M949 2910h0M911 2988h0M735 2922h0M834 3350h0M1170 2807h0M853 2748h0M1216 2671h0M871 2561h0M856 2959h0M530 2685h0M885 2972h0M741 2598h0M757 2859h0M596 3084h0M681 3023h0M1038 2563h0M883 3117h0M1173 3164h0M1132 3140h0M684 3274h0M1072 2983h0M1196 2593h0M1183 2868h0M916 3259h0M642 2991h0M531 2582h0M1218 2745h0M832 2657h0M1200 3001h0M1144 2792h0M858 2770h0M950 3179h0M939 3070h0M746 3398h0M534 2698h0M1007 3416h0M1139 2769h0M1209 2956h0M937 3126h0M971 3333h0M1176 2831h0M1171 2831h0M1019 2691h0M986 2817h0M1654 3065h0M962 3397h0M652 3156h0M1244 2928h0M663 3366h0M1174 3012h0M891 2359h0M749 2876h0M965 3172h0M1116 3090h0M663 2727h0M952 3213h0M794 2701h0M1370 2552h0M564 3409h0M1563 2674h0M843 2835h0M760 3201h0M1529 3118h0" stroke="#000" stroke-width="8" stroke-linecap="square" fill="none" stroke-opacity="0.5"/>
<path transform="scale(.1)" d="M740 2938h0M671 2600h0M653 2602h0M676 3110h0M677 3087h0M769 2740h0M629 3343h0M642 2595h0M803 2630h0M609 2939h0M615 3239h0M671 2605h0M629 3162h0M634 3322h0M608 2955h0M636 3321h0M628 3104h0M745 2617h0M794 2637h0M633 3164h0M575 2840h0M626 3299h0M607 2881h0M645 3192h0M646 3214h0M742 2872h0M588 2607h0M777 2614h0M781 2621h0M593 2837h0M701 3287h0M584 2855h0M731 2965h0M800 2642h0M767 2777h0M778 2825h0M679 2989h0M628 3140h0M658 3173h0M629 2974h0M687 3042h0M629 3239h0M800 2743h0M653 2602h0M730 2605h0M577 2822h0M766 2816h0M789 2580h0M676 3162h0M728 2611h0M600 2906h0M547 2695h0M704 3293h0M565 2635h0M763 2827h0M600 2998h0M731 2955h0M566 2620h0M602 2914h0M698 3250h0M602 2612h0M655 3135h0M583 2718h0M708 3000h0M806 2729h0M578 2772h0M627 3200h0M643 3181h0M620 3040h0M603 2989h0M545 2666h0M552 2696h0M790 2629h0M619 2959h0M549 2636h0M688 3301h0M546 2650h0M536 2735h0M602 2917h0M750 2889h0M763 2822h0M559 2775h0M653 3316h0M550 2753h0M711 3260h0M821 2692h0M782 2675h0M675 3324h0M683 3305h0M678 3327h0M604 3001h0M633 3016h0M613 3274h0M631 3142h0M707 3175h0M589 2820h0M698 3309h0M802 2620h0M682 2606h0M637 3153h0M794 2625h0M817 2602h0M800 2749h0M719 3194h0M786 2659h0M725 2960h0M653 3088h0M681 3121h0M620 3255h0M561 2608h0M737 2607h0M615 2995h0M693 3078h0M783 2838h0M663 3320h0M651 2591h0M696 2596h0M627 2962h0M679 2593h0M698 2942h0M773 2843h0M784 2788h0M646 2611h0M743 2885h0M703 3227h0M587 2608h0M627 3066h0M693 3173h0M591 2927h0M587 2902h0M652 3145h0M593 2883h0M683 3062h0M797 2618h0M773 2817h0M606 2871h0M757 2866h0M682 3162h0M795 2818h0M689 3326h0M739 2902h0M684 3023h0M798 2722h0M775 2833h0M637 2603h0M771 2768h0M617 3024h0M572 2825h0M565 2651h0M645 3227h0M562 2784h0M613 2943h0M709 3208h0M580 2897h0M637 3147h0M616 2611h0M745 2592h0M613 3237h0M718 3199h0M614 3042h0M643 3201h0M780 2811h0M641 3092h0M543 2653h0M684 3165h0M621 3264h0M796 2647h0M741 2893h0M659 2618h0M640 3130h0M687 3249h0M767 2603h0M556 2647h0M688 3125h0M669 3143h0M557 2719h0M769 2615h0M792 2599h0M574 2797h0M569 2787h0M549 2610h0M751 2897h0M736 2912h0M630 3033h0M554 2715h0M744 2878h0M546 2607h0M672 3102h0M737 2596h0M556 2731h0M703 3246h0M568 2673h0M647 3229h0M685 3297h0M617 3075h0M625 3223h0M568 2746h0M714 2975h0M553 2668h0M735 2884h0M803 2670h0M561 2773h0M580 2772h0M797 2620h0M727 2960h0M748 2808h0M618 3046h0M693 3267h0M658 2630h0M759 2609h0M588 2854h0M764 2808h0M566 2672h0M610 2609h0M558 2793h0M536 2626h0M618 2887h0M779 2805h0M689 3233h0M628 3072h0M671 3147h0M618 3009h0M623 3223h0M761 2794h0M763 2612h0M638 3328h0M642 3294h0M692 3150h0M570 2812h0M791 2794h0M754 2900h0M627 3172h0M638 3176h0M608 2612h0M646 3173h0M624 3057h0M546 2682h0M787 2790h0M761 2874h0M804 2710h0M636 3181h0M697 3069h0M799 2620h0M709 3027h0M660 3068h0M738 2958h0M645 3049h0M691 3023h0M808 2667h0M720 2969h0M556 2682h0M606 2906h0M630 2604h0M566 2759h0M583 2790h0M605 2930h0M638 2612h0M769 2792h0M718 2978h0M623 3285h0M735 2914h0M638 3022h0M561 2711h0M715 3169h0M694 3040h0M705 3203h0M606 2929h0M610 2994h0M721 2933h0M699 2619h0M777 2800h0M670 3333h0M586 2810h0M712 2609h0M635 3110h0M666 3068h0M637 3029h0M771 2600h0M658 3338h0M800 2727h0M808 2629h0M702 2951h0M701 3250h0M631 3203h0M697 3156h0M574 2761h0M774 2635h0M654 3318h0M577 2843h0M621 2990h0M630 3296h0M709 3005h0M758 2802h0M808 2726h0M641 3170h0M802 2712h0M674 2609h0M682 3298h0M795 2647h0M746 2884h0M728 2902h0M703 3051h0M713 3008h0M822 2727h0M680 3081h0M572 2814h0M566 2602h0M580 2774h0M696 3003h0M731 2856h0M725 2606h0M556 2673h0M565 2708h0M658 2597h0M554 2762h0M800 2644h0M697 3042h0M804 2702h0M695 3252h0M771 2775h0M609 2595h0M624 2597h0M619 3291h0M729 2904h0M667 3084h0M686 3118h0M700 3218h0M609 2990h0M691 3177h0M682 3109h0M714 3239h0M696 2583h0M711 3242h0M704 3013h0M607 2855h0M614 2957h0M722 3196h0M805 2635h0M658 2617h0M805 2643h0M611 2937h0M565 2757h0M698 3231h0M815 2711h0M643 3155h0M624 2989h0M611 3251h0M662 3299h0M753 2604h0M693 3034h0M545 2622h0M615 3017h0M649 3056h0M751 2785h0M638 3310h0M564 2611h0M612 3274h0M578 2796h0M627 3204h0M720 2983h0M774 2753h0M789 2718h0M797 2608h0M810 2641h0M585 2821h0M781 2828h0M667 3334h0M687 3119h0M777 2799h0M692 3277h0M657 2600h0M691 3301h0M790 2711h0M628 3218h0M739 2905h0M579 2784h0M576 2594h0M680 3149h0M792 2768h0M613 2618h0M653 3119h0M753 2826h0M604 2972h0M633 3222h0M588 2818h0M780 2754h0M618 3066h0M730 2957h0M619 3228h0M534 2651h0M651 3120h0M629 3078h0M790 2737h0M568 2767h0M750 2600h0M799 2620h0M633 3125h0M646 3068h0M716 2972h0M595 2807h0M570 2757h0M799 2731h0M598 2857h0M594 2904h0M744 2614h0M792 2739h0M591 2614h0M635 3105h0M532 2672h0M635 3267h0M673 3103h0M635 3115h0M604 2858h0M807 2669h0M623 3018h0M679 3202h0M792 2694h0M596 2925h0M759 2876h0M711 3224h0M700 2585h0M606 2969h0M668 3068h0M707 2600h0M795 2754h0M682 3235h0M769 2779h0M626 3016h0M713 2972h0M584 2864h0M782 2675h0M658 3334h0M578 2815h0M738 2869h0M802 2648h0M723 2929h0M740 2960h0M659 3092h0M709 2625h0M609 2951h0M798 2710h0M794 2733h0M692 3033h0M690 3209h0M787 2612h0M641 3048h0M659 3313h0M781 2745h0M611 2978h0M630 3150h0M734 2904h0M680 3067h0M625 3257h0M664 3137h0M642 3164h0M628 3191h0M701 3199h0M701 3307h0M549 2713h0M641 3321h0M686 3223h0M677 3270h0M790 2727h0M645 3040h0M720 2981h0M699 3052h0M673 3076h0M768 2847h0M547 2714h0M602 2956h0M784 2590h0M611 3240h0M796 2761h0M634 3211h0M679 3178h0M778 2600h0M590 2877h0M765 2812h0M558 2601h0M772 2807h0M662 3087h0M727 2980h0M666 2581h0M627 2997h0M626 3239h0M549 2687h0M737 2610h0M613 3000h0M571 2769h0M560 2786h0M647 3166h0M601 2903h0M699 3259h0M570 2809h0M790 2787h0M651 2603h0M684 3202h0M608 2847h0M668 3159h0M587 2892h0M568 2686h0M640 3236h0M648 3150h0M542 2641h0M589 2791h0M613 3271h0M692 2997h0M622 3016h0M656 3082h0M755 2865h0M697 3237h0M543 2638h0M723 2946h0M629 3303h0M621 2579h0M698 3297h0M575 2632h0M618 3265h0M555 2756h0M620 3236h0M642 3173h0M675 3144h0M820 2692h0M559 2750h0M604 2901h0M765 2828h0M720 2923h0M570 2730h0M638 2616h0M667 3319h0M568 2617h0M568 2717h0M693 3082h0M794 2742h0M561 2604h0M573 2681h0M797 2612h0M777 2783h0M645 2585h0M589 2854h0M622 3235h0M557 2756h0M643 3095h0M627 3204h0M738 2898h0M583 2849h0M694 2992h0M648 3180h0M698 2978h0M663 3094h0M556 2692h0M778 2885h0M648 3110h0M651 3283h0M629 3304h0M564 2815h0M648 3280h0M764 2859h0M658 3078h0M596 2810h0M614 2923h0M772 2827h0M649 3146h0M685 2595h0M800 2695h0M769 2766h0M683 3169h0M630 3025h0M715 2584h0M762 2764h0M565 2806h0M643 3319h0M798 2677h0M664 3332h0M833 2642h0M713 3018h0M621 2988h0M716 2960h0M635 2601h0M689 3190h0M592 3001h0M632 2984h0M778 2812h0M804 2689h0M689 3305h0M557 2700h0M630 3302h0M553 2695h0M641 3221h0M685 3042h0M562 2669h0M622 2612h0M587 2766h0M641 2585h0M629 3215h0M797 2598h0M632 3178h0M632 3032h0M778 2824h0M800 2672h0M654 3164h0M827 2718h0M809 2745h0M583 2811h0M743 2593h0M615 3250h0M585 2916h0M796 2624h0M636 3099h0M582 2844h0M795 2664h0M731 2954h0M739 2913h0M576 2656h0M634 3191h0M753 2871h0M745 2990h0M568 2745h0M589 2796h0M751 2875h0M603 2947h0M565 2598h0M780 2705h0M785 2748h0M803 2669h0M806 2717h0M619 3281h0M783 2719h0M598 2930h0M668 2591h0M658 3094h0M736 2926h0M722 3207h0M696 3172h0M807 2687h0M788 2668h0M551 2608h0M712 3257h0M609 2918h0M629 3118h0M681 2582h0M685 3207h0M723 3285h0M789 2764h0M774 2802h0M721 2596h0M574 2598h0M698 3252h0M583 2831h0M756 2609h0M765 2861h0M775 2600h0M780 2620h0M811 2635h0M675 3043h0M679 3278h0M612 3000h0M696 2956h0M624 2936h0M605 2876h0M561 2680h0M669 3081h0M710 3276h0M705 3226h0M558 2638h0M633 3218h0M593 2812h0M761 2822h0M705 3282h0M761 2803h0M551 2705h0M636 3224h0M545 2686h0M675 3161h0M777 2616h0M682 3070h0M688 2596h0M613 3272h0M796 2710h0M678 3290h0M739 2911h0M688 3249h0M562 2625h0M767 2780h0M764 2861h0M621 3005h0M579 2833h0M677 3038h0M750 2633h0M637 3067h0M707 2959h0M597 2856h0M631 3040h0M692 3159h0M580 2774h0M564 2595h0M712 3210h0M683 3059h0M620 3292h0M673 3140h0M682 3032h0M737 2902h0M692 3219h0M752 2904h0M666 3338h0M743 2908h0M557 2693h0M570 2765h0M650 3325h0M580 2990h0M683 3246h0M683 3045h0M730 2965h0M708 3268h0M673 3047h0M592 2814h0M645 3093h0M699 2954h0M787 2697h0M594 2909h0M566 2773h0M563 2620h0M794 2657h0M701 3232h0M616 3238h0M553 2618h0M683 3061h0M653 3141h0M580 2873h0M788 2715h0M756 2819h0M545 2610h0M777 2624h0M746 2609h0M706 3243h0M608 2943h0M611 3020h0M717 2982h0M740 2595h0M706 2970h0M661 2593h0M539 2686h0M798 2809h0M581 2881h0M598 2940h0M527 2681h0M763 2803h0M780 2777h0M698 3183h0M796 2680h0M550 2673h0M745 2604h0M691 3059h0M595 2916h0M801 2713h0M610 2594h0M796 2639h0M766 2831h0M681 3108h0M787 2663h0M706 3011h0M545 2696h0M682 3154h0M779 2813h0M705 3013h0M797 2737h0M691 3238h0M606 3013h0M666 3335h0M715 2621h0M730 2916h0M669 3331h0M756 2885h0M798 2777h0M736 2871h0M634 2982h0M785 2613h0M632 3151h0M671 3058h0M780 2792h0M627 3251h0M564 2744h0M632 2604h0M797 2727h0M617 2617h0M809 2673h0M641 3108h0M640 3152h0M598 2886h0M639 2590h0M638 2607h0M618 2992h0M642 3049h0M690 3020h0M779 2870h0M690 3084h0M639 3045h0M687 3147h0M647 3097h0M778 2606h0M646 3112h0M704 3293h0M690 3296h0M704 2985h0M750 2917h0M633 3183h0M675 3253h0M707 2993h0M786 2615h0M586 2922h0M792 2654h0M679 3134h0M752 2617h0M805 2734h0M798 2704h0M746 2617h0M709 2994h0M592 2607h0M695 2572h0M686 3331h0M677 3122h0M583 2601h0M639 3242h0M773 2812h0M606 2583h0M754 2895h0M599 2872h0M623 2964h0M737 2949h0M724 2930h0M708 2993h0M613 2596h0M595 2897h0M540 2707h0M793 2660h0M692 2596h0M675 3124h0M618 2605h0M659 3086h0M592 2847h0M748 2848h0M670 3097h0M641 3161h0M795 2670h0M672 3329h0M698 2613h0M573 2648h0M569 2651h0M620 2941h0M624 3294h0M538 2694h0M733 2904h0M610 2619h0M684 3140h0M692 2999h0M690 3265h0M764 2627h0M704 3313h0M782 2817h0M758 2807h0M781 2762h0M695 3238h0M694 3070h0M570 2839h0M650 3050h0M656 3100h0M705 3063h0M677 3317h0M624 2997h0M716 3007h0M787 2758h0M685 3085h0M560 2821h0M592 2848h0M722 2938h0M608 2917h0M649 3055h0M627 2599h0M688 3295h0M557 2732h0M783 2715h0M647 3326h0M750 2599h0M678 3325h0M711 3037h0M687 3265h0M563 2701h0M775 2635h0M615 2954h0M598 2912h0M700 3195h0M701 3030h0M684 2609h0M571 2791h0M792 2677h0M645 3332h0M557 2604h0M559 2614h0M644 2615h0M759 2854h0M754 2818h0M556 2685h0M681 3296h0M607 2986h0M704 3009h0M598 2823h0M744 2875h0M692 3225h0M682 3305h0M708 2977h0M688 3192h0M778 2783h0M576 2600h0M662 3125h0M808 2670h0M738 2887h0M542 2740h0M650 3326h0M658 3324h0M598 3007h0M650 2604h0M759 2849h0M797 2676h0M784 2755h0M642 3278h0M799 2686h0M651 3303h0M578 2829h0M780 2695h0M632 3224h0M729 2914h0M680 3051h0M652 2604h0M618 3262h0M634 3311h0M591 2601h0M569 2637h0M636 3087h0M809 2659h0M716 2591h0M682 3276h0M618 3191h0M630 3072h0M623 3007h0M630 2999h0M732 2847h0M797 2611h0M627 3190h0M557 2647h0M718 2603h0M646 2602h0M811 2685h0M805 2648h0M563 2749h0M618 3022h0M692 3208h0M599 2955h0M583 2788h0M662 2593h0M599 2849h0M705 3055h0M626 3258h0M759 2827h0M799 2710h0M754 2884h0M679 3343h0M582 2853h0M599 2924h0M702 3188h0M629 3147h0M655 3320h0M566 2825h0M595 2865h0M554 2621h0M751 2606h0M577 2778h0M733 2617h0M699 2623h0M664 3076h0M614 2622h0M656 3146h0M778 2775h0M599 2605h0M589 2828h0M785 2615h0M652 3164h0M706 3225h0M707 3206h0M814 2741h0M634 3078h0M768 2829h0M687 3240h0M724 2990h0M612 3200h0M666 3139h0M633 3100h0M688 3082h0M690 3030h0M570 2613h0M560 2753h0M700 3020h0M768 2591h0M584 2774h0M722 2915h0M736 2912h0M637 3035h0M646 3308h0M624 3235h0M632 3112h0M621 3266h0M617 3244h0M624 3299h0M685 3160h0M691 3184h0M546 2734h0M703 3258h0M805 2661h0M636 3205h0M595 2840h0M600 2893h0M797 2645h0M716 2967h0M680 3147h0M551 2604h0M696 3163h0M792 2624h0M700 3264h0M720 2954h0M796 2720h0M799 2674h0M732 2947h0M700 2586h0M782 2732h0M622 3268h0M659 3136h0M735 2887h0M599 2944h0M657 3322h0M551 2650h0M628 3187h0M615 3038h0M713 3201h0M589 2598h0M684 3146h0M696 3166h0M678 3201h0M632 3164h0M620 2589h0M620 3001h0M807 2764h0M748 2613h0M691 3330h0M639 3106h0M631 3148h0M564 2593h0M789 2637h0M574 2608h0M763 2832h0M576 2848h0M686 3088h0M592 2819h0M770 2819h0M686 3289h0M689 3193h0M616 2975h0M690 3314h0M686 3282h0M728 2944h0M746 2853h0M614 3315h0M673 3125h0M669 3105h0M600 2853h0M814 2679h0M592 2953h0M633 3175h0M611 2907h0M800 2734h0M625 2977h0M625 3218h0M643 3152h0M664 3138h0M751 2890h0M728 2915h0M556 2781h0M806 2607h0M702 3039h0M627 3239h0M701 2606h0M670 3096h0M617 2922h0M567 2612h0M740 2886h0M703 3209h0M706 3180h0M697 3290h0M778 2825h0M788 2764h0M644 3295h0M551 2704h0M717 2943h0M639 3070h0M759 2889h0M704 2596h0M634 3303h0M712 3250h0M776 2606h0M697 3003h0M809 2664h0M603 2872h0M815 2644h0M745 2608h0M753 2609h0M686 3278h0M795 2720h0M778 2632h0M700 3219h0M534 2711h0M662 3318h0M632 3046h0M598 2612h0M754 2870h0M652 3340h0M613 2977h0M750 2778h0M614 2591h0M593 2945h0M679 3155h0M544 2720h0M709 2620h0M643 3169h0M798 2624h0M764 2932h0M599 2970h0M631 2979h0M630 3248h0M594 2870h0M637 3100h0M545 2654h0M802 2589h0M568 2754h0M598 2944h0M605 2889h0M759 2881h0M575 2724h0M613 2996h0M787 2785h0M756 2782h0M638 3139h0M619 2965h0M559 2702h0M695 2585h0M704 2940h0M624 2966h0M599 2619h0M668 3075h0M726 2955h0M587 2871h0M706 2619h0M660 3106h0M764 2605h0M604 2922h0M548 2690h0M557 2785h0M663 3042h0M706 3229h0M605 2913h0M568 2634h0M675 3136h0M725 2981h0M576 2846h0M572 2724h0M679 2594h0M543 2696h0M615 3251h0M647 3158h0M711 2991h0M591 2881h0M671 3109h0M636 3072h0M748 2948h0M584 2809h0M664 3328h0M623 3037h0M618 3031h0M692 3084h0M602 2936h0M549 2658h0M766 2861h0M603 2899h0M773 2613h0M798 2648h0M747 2909h0M724 3017h0M792 2723h0M796 2726h0M743 2616h0M703 3025h0M808 2720h0M584 2875h0M747 2926h0M669 3163h0M624 3045h0M555 2751h0M624 3263h0M633 2589h0M721 2971h0M789 2798h0M621 3023h0M613 2946h0M641 3215h0M646 3128h0M554 2704h0M694 3029h0M811 2686h0M688 3234h0M786 2614h0M659 3073h0M621 3174h0M656 3346h0M616 2968h0M634 3160h0M586 2775h0M588 2899h0M779 2594h0M625 3279h0M635 3282h0M794 2747h0M655 3162h0M708 2980h0M595 2888h0M630 3253h0M645 2607h0M626 2946h0M750 2621h0M714 2965h0M792 2743h0M600 2873h0M608 2601h0M695 3227h0M622 3230h0M672 3050h0M810 2737h0M617 2944h0M566 2639h0M772 2616h0M633 3113h0M795 2708h0M802 2697h0M677 3133h0M800 2729h0M661 3120h0M569 2692h0M647 3094h0M589 2594h0M624 3254h0M776 2632h0M748 2898h0M728 2965h0M677 3148h0M799 2628h0M571 2616h0M692 3173h0M733 2600h0M795 2738h0M561 2742h0M538 2651h0M703 3005h0M796 2612h0M642 3320h0M601 2890h0M641 2593h0M672 2616h0M561 2809h0M798 2753h0M708 3031h0M779 2621h0M631 3306h0M687 3126h0M638 2604h0M632 3163h0M621 3199h0M808 2611h0M667 2634h0M769 2780h0M588 2899h0M647 2619h0M611 2950h0M785 2784h0M648 3166h0M562 2756h0M587 2601h0M552 2650h0M613 2953h0M745 2582h0M586 2755h0M687 3299h0M608 3251h0M703 2607h0M750 2872h0M650 3051h0M599 2935h0M629 3221h0M761 2604h0M728 2983h0M595 2864h0M699 3015h0M773 2611h0M624 3007h0M748 2593h0M689 3256h0M612 3257h0M641 3045h0M595 2887h0M645 3148h0M591 2844h0M669 3114h0M739 2895h0M691 2613h0M643 3195h0M614 2890h0M760 2855h0M594 2628h0M553 2764h0M632 2984h0M715 3286h0M730 2901h0M701 3280h0M691 3260h0M535 2732h0M648 3142h0M788 2764h0M578 2624h0M560 2639h0M635 3130h0M626 3042h0M600 2597h0M783 2816h0M631 3297h0M642 3138h0M682 2603h0M805 2628h0M551 2655h0M621 3011h0M729 2901h0M670 3123h0M546 2745h0M612 2597h0M595 2844h0M765 2850h0M578 2788h0M638 3311h0M822 2640h0M688 3011h0M789 2760h0M610 2884h0M706 2985h0M613 2985h0M706 3263h0M608 2971h0M622 3021h0M782 2759h0M603 3228h0M632 2584h0M793 2780h0M740 2611h0M728 2610h0M802 2687h0M771 2612h0M697 3161h0M683 2620h0M696 3302h0M609 2871h0M700 3267h0M587 2847h0M776 2823h0M646 3076h0M739 2931h0M732 3009h0M694 3188h0M623 3204h0M684 3155h0M767 2777h0M638 3223h0M552 2684h0M710 2994h0M766 2751h0M699 2605h0M676 3123h0M605 3028h0M685 3053h0M555 2713h0M711 3234h0M549 2619h0M610 2937h0M678 3175h0M724 2928h0M642 3179h0M799 2654h0M628 3295h0M676 3315h0M799 2807h0M805 2642h0M648 3323h0M789 2790h0M651 3153h0M645 3168h0M774 2831h0M649 2599h0M583 2615h0M562 2660h0M712 3252h0M620 3203h0M768 2781h0M631 2935h0M824 2719h0M672 3340h0M771 2823h0M698 3255h0M622 3045h0M634 3171h0M681 3161h0M637 3239h0M615 2990h0M557 2695h0M560 2673h0M623 3077h0M626 3016h0M792 2748h0M782 2618h0M668 2589h0M643 3339h0M677 3125h0M583 2600h0M722 2997h0M587 2881h0M650 3115h0M618 3020h0M584 2904h0M575 2821h0M564 2603h0M762 2841h0M800 2673h0M782 2787h0M560 2633h0M563 2723h0M714 2943h0M670 3082h0M656 2605h0M702 2590h0M771 2808h0M713 2955h0M556 2732h0M793 2630h0M643 3115h0M620 2958h0M797 2686h0M612 2973h0M623 3184h0M798 2705h0M625 3246h0M658 3087h0M607 2596h0M740 2858h0M631 3267h0M734 2897h0M801 2665h0M594 2880h0M607 2972h0M653 3093h0M723 2606h0M817 2626h0M680 3160h0M689 3228h0M622 3093h0M750 2609h0M695 3206h0M783 2768h0M644 3093h0M693 3120h0M634 3272h0M624 3236h0M559 2640h0M674 3155h0M675 2583h0M681 3120h0M723 2601h0M753 2861h0M747 2608h0M702 3267h0M801 2663h0M728 2955h0M560 2665h0M650 3040h0M701 3168h0M735 2872h0M639 3072h0M569 2696h0M722 2959h0M690 3167h0M587 2866h0M625 3054h0M687 3062h0M676 3326h0M651 3269h0M741 2914h0M758 2838h0M710 2977h0M795 2759h0M639 3222h0M793 2784h0M552 2608h0M604 2947h0M700 3014h0M683 3302h0M730 2943h0M596 2839h0M622 3035h0M648 2592h0M663 3162h0M620 2979h0M721 2958h0M748 2934h0M789 2767h0M635 3066h0M695 3029h0M724 2885h0M699 3158h0M748 2895h0M722 2594h0M688 3251h0M575 2810h0M690 3010h0M661 3149h0M606 2596h0M636 3097h0M708 3241h0M714 2997h0M613 2973h0M545 2628h0M649 3105h0M736 2905h0M790 2694h0M649 3200h0M537 2603h0M813 2684h0M630 3015h0M562 2744h0M718 3207h0M528 2687h0M688 3330h0M594 2955h0M766 2830h0M694 3241h0M555 2624h0M629 3050h0M706 3260h0M574 2790h0M639 3071h0M639 3127h0M585 2749h0M674 3126h0M607 2954h0M652 3123h0M724 2937h0M806 2728h0M622 3271h0M796 2755h0M729 2912h0M665 3194h0M709 3189h0M796 2713h0M815 2674h0M545 2674h0M664 3107h0M704 3056h0M683 3326h0M627 3088h0M553 2755h0M731 2878h0M639 3063h0M717 2979h0M635 3303h0M542 2703h0M819 2705h0M618 2954h0M681 3183h0M565 2802h0M551 2723h0M714 2950h0M613 2988h0M678 3049h0M692 3294h0M610 2931h0M594 2609h0M612 2950h0M654 2620h0M662 3076h0M689 3301h0M554 2743h0M635 3034h0M730 2589h0M639 3300h0M654 2604h0M639 3106h0M805 2668h0M644 3169h0M544 2651h0M775 2839h0M553 2612h0M807 2694h0M645 3066h0M650 3160h0M601 2964h0M571 2809h0M710 3037h0M559 2755h0M788 2688h0M569 2591h0M719 3244h0M673 3062h0M613 3091h0M567 2681h0M729 2919h0M574 2758h0M618 2916h0M735 2908h0M639 3296h0M694 3222h0M716 2594h0M798 2617h0M558 2765h0M573 2736h0M734 2609h0M566 2838h0M768 2799h0M708 2603h0M787 2737h0M726 2990h0M542 2620h0M606 2927h0M564 2860h0M700 3185h0M794 2621h0M537 2626h0M777 2602h0M775 2799h0M709 3192h0M586 2797h0M680 3149h0M726 2954h0M795 2607h0M792 2696h0M810 2652h0M614 3002h0M801 2747h0M556 2645h0M705 3265h0M744 2593h0M639 3148h0M691 3132h0M570 2757h0M677 3312h0M781 2614h0M754 2843h0M617 3016h0M558 2827h0M564 2653h0M543 2677h0M744 2910h0M768 2624h0M692 3317h0M723 2984h0M701 3278h0M702 2980h0M555 2693h0M681 2603h0M791 2729h0M588 2876h0M576 2737h0M646 3102h0M683 3094h0M680 3326h0M553 2768h0M580 2614h0M618 2913h0M773 2823h0M742 2923h0M662 3138h0M568 2655h0M768 2846h0M662 3179h0M543 2610h0M796 2639h0M717 2978h0M799 2624h0M643 3308h0M686 3216h0M679 3072h0M649 2606h0M627 3076h0M802 2805h0M671 3069h0M764 2714h0M612 3140h0M635 3298h0M693 2612h0M606 3222h0M717 3231h0M790 2663h0M559 2739h0M812 2665h0M583 2860h0M653 3264h0M758 2970h0M625 3095h0M597 3192h0M716 2601h0M774 2768h0M720 2982h0M756 2781h0M677 3111h0M749 3287h0M699 2603h0M788 2683h0M590 2997h0M590 2931h0M723 3218h0M581 3096h0M748 2614h0M640 3299h0M616 3163h0M786 2844h0M596 2632h0M576 2831h0M580 2818h0M696 3017h0M596 2644h0M531 2668h0M636 2952h0M515 2614h0M683 3355h0M681 3210h0M683 3226h0M728 2849h0M669 3068h0M692 3317h0M649 3088h0M801 2788h0M693 3035h0M655 3083h0M642 3099h0M702 3005h0M623 3014h0M790 2739h0M609 3135h0M784 2851h0M642 2596h0M678 3165h0M778 2780h0M608 2931h0M700 3030h0M682 3073h0M559 2848h0M753 2907h0M787 2705h0M566 2907h0M560 2806h0M609 3010h0M545 2788h0M636 3308h0M689 3037h0M704 2981h0M626 3148h0M574 2574h0M765 2925h0M571 2801h0M654 3331h0M708 2900h0M712 3247h0M717 2917h0M627 2830h0M790 2772h0M636 3321h0M618 2941h0M541 3005h0M636 2615h0M633 3204h0M651 3329h0M735 2648h0M682 3119h0M678 3157h0M739 2615h0M650 3105h0M570 3114h0M769 2665h0M714 2991h0M566 2839h0M605 3263h0M726 2595h0M737 2580h0M705 2976h0M665 2982h0M696 2995h0M614 3164h0M689 3107h0M687 3126h0M652 3071h0M538 2643h0M681 3215h0M776 2642h0M760 2807h0M640 3301h0M724 2905h0M685 3180h0M726 2871h0M630 3234h0M742 2774h0M672 3300h0M718 3125h0M654 3227h0M676 2575h0M631 3126h0M815 2653h0M604 2589h0M586 2872h0M603 2900h0M745 2954h0M703 2618h0M777 2626h0M807 2824h0M611 2832h0M599 3019h0M603 2917h0M744 2587h0M635 3264h0M599 3136h0M695 3208h0M755 2806h0M765 2775h0M800 2823h0M674 2997h0M602 2561h0M570 2838h0M713 2926h0M669 3059h0M533 2757h0M627 3015h0M718 2963h0M740 2824h0M683 3004h0M718 3115h0M787 2781h0M623 3283h0M603 3043h0M593 2934h0M642 3056h0M824 2717h0M710 3249h0M574 2849h0M787 2683h0M661 3169h0M701 3220h0M561 2739h0M591 2996h0M795 2728h0M641 3112h0M605 3234h0M644 2571h0M757 2626h0M643 2613h0M798 2823h0M764 2832h0M712 2963h0M754 2610h0M759 2960h0M633 2987h0M620 2575h0M540 2744h0M711 2592h0M630 3137h0M582 2903h0M704 3045h0M601 3180h0M658 3358h0M608 2855h0M583 2815h0M591 3213h0M699 3184h0M640 3085h0M604 3191h0M572 2614h0M628 3311h0M622 3220h0M697 2882h0M755 2597h0M597 2728h0M715 3023h0M687 3226h0M679 3322h0M679 3031h0M538 2698h0M563 2925h0M764 2856h0M683 3122h0M673 3099h0M770 2635h0M570 2706h0M672 3322h0M690 3115h0M640 3309h0M578 2756h0M666 3100h0M771 2610h0M799 2646h0M724 2632h0M805 2587h0M775 2856h0M636 2590h0M524 2726h0M594 2851h0M608 3114h0M742 2850h0M664 3148h0M740 2922h0M714 2573h0M808 2789h0M694 3199h0M697 3059h0M616 2594h0M551 2757h0M652 3362h0M638 3183h0M704 2590h0M756 2807h0M676 3145h0M651 3209h0M623 3203h0M828 2699h0M646 3121h0M616 3034h0M650 3323h0M597 2689h0M776 2747h0M582 2671h0M771 2804h0M706 2941h0M616 2848h0M818 2697h0M787 2750h0M794 2624h0M568 2916h0M741 2917h0M553 2617h0M593 2588h0M574 2605h0M783 2810h0M616 3093h0M759 2864h0M756 3001h0M775 2605h0M657 3068h0M692 3287h0M690 3312h0M794 2673h0M592 2964h0M575 2715h0M752 2918h0M713 2639h0M534 2699h0M560 2692h0M679 3133h0M712 2573h0M752 2750h0M797 2632h0M808 2915h0M680 3093h0M816 2671h0M683 2603h0M638 3219h0M707 3038h0M644 3340h0M669 3225h0M683 3259h0M562 2639h0M583 2612h0M696 3055h0M572 2640h0M673 3327h0M760 2816h0M670 3311h0M719 3084h0M598 2946h0M687 3241h0M675 3040h0M620 3241h0M615 2897h0M638 3340h0M605 3004h0M721 3276h0M574 2612h0M672 3072h0M669 3157h0M647 3115h0M740 2913h0M649 2978h0M611 2979h0M777 2733h0M614 3317h0M565 2627h0M749 2796h0M723 2947h0M689 3255h0M583 2636h0M582 2764h0M632 3029h0M660 2615h0M775 2649h0M681 3357h0M729 3268h0M614 2978h0M605 2937h0M590 2828h0M626 2975h0M621 2896h0M617 2885h0M619 3107h0M668 3345h0M725 3329h0M577 2841h0M667 3201h0M616 3023h0M760 2828h0M610 2938h0M727 2956h0M683 2591h0M648 3189h0M648 3167h0M693 3140h0M787 2750h0M575 2972h0M760 2624h0M755 2839h0M720 2979h0M600 3233h0M588 2736h0M684 3310h0M793 2836h0M635 3031h0M529 2629h0M615 2870h0M742 2576h0M549 2725h0M693 3271h0M731 3136h0M828 2596h0M514 2871h0M626 2565h0M709 2992h0M600 3040h0M815 2674h0M728 2599h0M671 3027h0M610 2787h0M713 3000h0M675 3236h0M534 2653h0M707 3136h0M613 3303h0M761 2831h0M704 3126h0M811 2737h0M729 2908h0M786 2753h0M687 3280h0M651 2567h0M739 2995h0M774 2903h0M627 3210h0M739 3204h0M619 3280h0M789 2790h0M564 2939h0M729 2932h0M600 3223h0M841 2698h0M691 3265h0M731 2993h0M528 2625h0M610 2962h0M776 2753h0M612 3121h0M691 3256h0M702 3015h0M613 2827h0M696 3009h0M802 2702h0M618 3030h0M624 3032h0M554 2648h0M603 2994h0M626 3053h0M662 3254h0M792 2738h0M698 2637h0M672 3362h0M759 2592h0M723 2634h0M808 2796h0M755 2819h0M676 3383h0M577 2688h0M741 2947h0M621 2793h0M795 2906h0M764 2853h0M717 3008h0M748 2790h0M698 2887h0M606 3132h0M584 2957h0M764 2975h0M677 3316h0M616 2813h0M731 2773h0M676 2970h0M784 2688h0M570 2678h0M625 2615h0M781 2629h0M640 2983h0M600 2862h0M562 3025h0M670 2988h0M772 2947h0M740 2703h0M786 2571h0M618 3033h0M590 2710h0M622 3121h0M682 3061h0M522 2757h0M694 3150h0M719 3299h0M718 2572h0M736 3083h0M589 2706h0M633 3075h0M529 2755h0M603 2935h0M560 2751h0M836 2610h0M828 2781h0M618 3177h0M682 3073h0M762 3115h0M785 2590h0M673 3081h0M684 3206h0M704 3226h0M563 2833h0M743 2795h0M690 3305h0M717 3238h0M573 2626h0M765 2612h0M509 2753h0M638 3086h0M742 2872h0M645 3284h0M772 2705h0M620 2944h0M827 2763h0M602 3011h0M645 3223h0M606 3184h0M700 3173h0M755 2622h0M649 3096h0M669 3048h0M558 2662h0M617 3105h0M626 3323h0M625 2563h0M731 2868h0M695 2571h0M777 2829h0M585 2964h0M797 2726h0M615 2877h0M548 2608h0M835 2640h0M689 2566h0M734 3136h0M726 2654h0M820 2934h0M807 2854h0M838 2803h0M816 2932h0M862 2890h0M768 2917h0M641 2578h0M886 2839h0M680 2740h0M749 2830h0M702 2957h0M629 3205h0M677 3048h0M813 2589h0M666 2828h0M782 2762h0M762 2842h0M672 2828h0M938 2731h0M682 2911h0M866 2964h0M712 2810h0M777 2791h0M792 2969h0M804 2819h0M745 3066h0M665 3096h0M819 2832h0M703 3073h0M856 2946h0M924 2573h0M769 2778h0M704 2830h0M803 2892h0M750 2638h0M805 2904h0M927 2949h0M762 2662h0M975 2727h0M776 2923h0M801 3004h0M680 2725h0M775 2650h0M713 3011h0M784 2806h0M716 2827h0M758 2671h0M823 2643h0M862 2773h0M581 2606h0M784 2700h0M904 3011h0M927 2944h0M868 2736h0M864 2760h0M757 2632h0M766 2876h0M756 2667h0M833 2946h0M754 2929h0M839 2684h0M758 2562h0M679 2879h0M692 2874h0M723 3031h0M762 2837h0M705 2598h0M635 3219h0M746 2699h0M872 3058h0M701 2865h0M689 2939h0M694 2800h0M865 2893h0M735 2609h0M634 2987h0M802 2828h0M861 2840h0M703 2805h0M753 2818h0M960 2901h0M783 2785h0M707 2682h0M611 2756h0M640 2562h0M871 2994h0M684 3106h0M763 2681h0M622 2784h0M853 2882h0M644 2728h0M700 2980h0M753 2683h0M693 2945h0M608 2847h0M752 2934h0M669 2947h0M885 3140h0M630 2816h0M744 2837h0M682 2940h0M949 3031h0M684 2739h0M819 2839h0M700 2993h0M802 2963h0M747 2999h0M723 2664h0M760 2625h0M861 2923h0M626 2844h0M829 2770h0M794 2738h0M755 2808h0M799 2684h0M670 2866h0M720 2893h0M720 2636h0M820 2857h0M819 2772h0M732 2997h0M625 3064h0M802 2812h0M768 2905h0M699 2859h0M684 2561h0M777 2834h0M813 2898h0M817 2931h0M676 2991h0M976 2741h0M659 2916h0M834 2962h0M884 2625h0M791 2885h0M861 2695h0M762 2768h0M747 2800h0M748 2572h0M757 2830h0M705 2728h0M690 3045h0M835 2794h0M809 3282h0M682 2887h0M712 3029h0M849 2803h0M810 2708h0M633 2939h0M892 2777h0M718 2568h0M933 2651h0M682 2793h0M858 2828h0M759 2823h0M829 2815h0M773 2810h0M671 3009h0M704 2635h0M725 2825h0M826 2613h0M658 2845h0M791 2666h0M669 2845h0M749 2593h0M690 3029h0M675 2968h0M637 3029h0M889 2731h0M705 2908h0M660 2898h0M858 2857h0M786 2798h0M841 2705h0M888 2817h0M734 2590h0M725 2853h0M860 2593h0M750 2724h0M664 2821h0M699 2942h0M543 2924h0M802 2772h0M770 2684h0M676 2717h0M756 2702h0M726 2699h0M779 2660h0M759 2833h0M837 2716h0M668 2610h0M1048 3013h0M1085 3250h0M1070 3056h0M1110 3057h0M1110 3074h0M1105 3068h0M1045 2965h0M1084 3237h0M1126 3018h0M1145 2939h0M1047 3142h0M1027 3141h0M1083 3112h0M1036 3088h0M1099 3045h0M1102 3052h0M1082 3019h0M1032 3034h0M1086 2975h0M1014 2896h0M1110 3028h0M1049 3173h0M1066 2900h0M1059 2962h0M1066 2959h0M1074 3096h0M1055 3030h0M1067 3132h0M1050 3125h0M1108 3031h0M1043 3019h0M1019 2996h0M1036 3033h0M1061 3102h0M1075 3092h0M1070 3078h0M1038 3116h0M1110 3161h0M1032 3092h0M1024 3126h0M1065 3004h0M1050 3026h0M1071 2954h0M1073 3076h0M1087 3046h0M1071 3281h0M1101 3082h0M1031 3112h0M1088 2785h0M1067 3088h0M1073 3060h0M1067 3188h0M1083 3022h0M1065 3258h0M1046 2997h0M1081 3065h0M1080 3186h0M1105 3092h0M1073 3044h0M1065 3150h0M1034 2946h0M1058 2954h0M1050 3169h0M1005 3108h0M1033 3026h0M1055 2951h0M1028 3057h0M984 2838h0M1060 3160h0M1126 3021h0M1048 3022h0M1085 3143h0M1043 3097h0M1071 3164h0M1060 3029h0M1046 2918h0M1080 3121h0M1105 3077h0M1058 2958h0M1037 2978h0M1082 3059h0M1004 3040h0M1063 2945h0M1071 3103h0M1041 2915h0M1062 3076h0M1064 3204h0M1076 2950h0M1095 2985h0M1092 3060h0" stroke="#000" stroke-width="8.5" stroke-linecap="square" fill="none"/>
</g>
<rect x="50.3" y="227.9" width="118.75" height="117.40" fill="none" stroke="#000" stroke-width="1.45"/>
<path d="M63.90 345.73v2.6M75.70 345.73v2.6M103.90 345.73v2.6M130.70 345.73v2.6M156.70 345.73v2.6M49.87 331.70h-3.4M49.87 319.90h-2.7M49.87 291.70h-2.7M49.87 264.90h-2.7M49.87 238.90h-2.7" stroke="#000" stroke-width="1.15" fill="none"/>
<path d="M84.19 345.73v1.8M89.15 345.73v1.8M92.68 345.73v1.8M95.41 345.73v1.8M97.64 345.73v1.8M99.53 345.73v1.8M101.17 345.73v1.8M102.61 345.73v1.8M111.97 345.73v1.8M116.69 345.73v1.8M120.04 345.73v1.8M122.63 345.73v1.8M124.75 345.73v1.8M126.55 345.73v1.8M128.10 345.73v1.8M129.47 345.73v1.8M138.53 345.73v1.8M143.11 345.73v1.8M146.35 345.73v1.8M148.87 345.73v1.8M150.93 345.73v1.8M152.67 345.73v1.8M154.18 345.73v1.8M155.51 345.73v1.8M66.26 345.73v1.8M61.54 345.73v1.8M68.62 345.73v1.8M59.18 345.73v1.8M70.98 345.73v1.8M56.82 345.73v1.8M73.34 345.73v1.8M54.46 345.73v1.8M164.53 345.73v1.8M49.87 311.41h-1.7M49.87 306.45h-1.7M49.87 302.92h-1.7M49.87 300.19h-1.7M49.87 297.96h-1.7M49.87 296.07h-1.7M49.87 294.43h-1.7M49.87 292.99h-1.7M49.87 283.63h-1.7M49.87 278.91h-1.7M49.87 275.56h-1.7M49.87 272.97h-1.7M49.87 270.85h-1.7M49.87 269.05h-1.7M49.87 267.50h-1.7M49.87 266.13h-1.7M49.87 257.07h-1.7M49.87 252.49h-1.7M49.87 249.25h-1.7M49.87 246.73h-1.7M49.87 244.67h-1.7M49.87 242.93h-1.7M49.87 241.42h-1.7M49.87 240.09h-1.7M49.87 329.34h-1.7M49.87 334.06h-1.7M49.87 326.98h-1.7M49.87 336.42h-1.7M49.87 324.62h-1.7M49.87 338.78h-1.7M49.87 322.26h-1.7M49.87 341.14h-1.7M49.87 231.07h-1.7" stroke="#000" stroke-width="1.05" fill="none"/>
<text x="63.5" y="355.7" font-size="7.6" fill="#5a5a5a" text-anchor="middle">0</text>
<text x="75.0" y="355.7" font-size="7.6" fill="#5a5a5a" text-anchor="middle">10</text>
<text x="79.6" y="352.8" font-size="6.2" fill="#5a5a5a">2</text>
<text x="103.2" y="355.7" font-size="7.6" fill="#5a5a5a" text-anchor="middle">10</text>
<text x="107.8" y="352.8" font-size="6.2" fill="#5a5a5a">3</text>
<text x="130.0" y="355.7" font-size="7.6" fill="#5a5a5a" text-anchor="middle">10</text>
<text x="134.6" y="352.8" font-size="6.2" fill="#5a5a5a">4</text>
<text x="156.0" y="355.7" font-size="7.6" fill="#5a5a5a" text-anchor="middle">10</text>
<text x="160.6" y="352.8" font-size="6.2" fill="#5a5a5a">5</text>
<text x="45.9" y="334.2" font-size="7.6" fill="#5a5a5a" text-anchor="end">0</text>
<text x="44.3" y="323.2" font-size="7.6" fill="#5a5a5a" text-anchor="end">10</text>
<text x="45.1" y="319.2" font-size="6.2" fill="#5a5a5a">2</text>
<text x="44.3" y="294.2" font-size="7.6" fill="#5a5a5a" text-anchor="end">10</text>
<text x="45.1" y="290.2" font-size="6.2" fill="#5a5a5a">3</text>
<text x="44.3" y="267.4" font-size="7.6" fill="#5a5a5a" text-anchor="end">10</text>
<text x="45.1" y="263.4" font-size="6.2" fill="#5a5a5a">4</text>
<text x="44.3" y="241.4" font-size="7.6" fill="#5a5a5a" text-anchor="end">10</text>
<text x="45.1" y="237.4" font-size="6.2" fill="#5a5a5a">5</text>
<rect x="98.1" y="326.1" width="20.1" height="14.6" fill="none" stroke="#000" stroke-width="1.55"/>
<text x="125.12" y="338" font-size="13.45" stroke="#000" stroke-width="0.22" textLength="17.19" lengthAdjust="spacingAndGlyphs">R1</text>
<text x="33.2" y="347.16" font-size="11.2" stroke="#000" stroke-width="0.1" textLength="121.12" lengthAdjust="spacingAndGlyphs" transform="rotate(-90 33.2 347.16)">CD38/Lineage cocktail 1</text>
<text x="82.96" y="372.7" font-size="20.89" stroke="#000" stroke-width="0.35" textLength="53.41" lengthAdjust="spacingAndGlyphs">CD34</text>
<rect x="218.4" y="227.9" width="118.50" height="117.40" fill="#fff"/>
<path d="M258.0 344.6L258.6 344.5L259.1 344.3L259.7 344.2L260.3 344.0L260.9 343.9L261.4 343.8L262.0 343.6L262.6 343.3L263.2 342.9L263.8 342.7L264.4 342.4L265.0 342.0L265.7 341.3L266.3 340.7L267.0 340.0L267.7 338.3L268.3 336.7L269.0 335.0L269.7 332.7L270.3 330.7L271.0 328.0L271.7 326.1L272.3 323.9L273.0 322.0L273.8 317.2L274.5 312.0L275.1 308.0L275.7 304.1L276.3 300.0L276.9 296.0L277.4 289.2L278.0 284.0L278.7 277.0L279.3 270.6L280.0 262.0L280.5 266.8L281.0 267.0L281.5 259.0L282.0 252.0L282.5 256.4L283.0 259.0L283.8 246.0L284.3 251.5L284.8 257.0L285.3 249.3L285.8 243.0L286.5 251.0L287.0 243.0L287.5 235.0L288.3 253.0L289.0 248.0L289.5 254.7L290.0 263.0L290.8 273.5L291.5 282.0L292.1 287.8L292.7 294.6L293.3 300.0L293.9 305.6L294.5 312.0L295.1 316.8L295.7 322.6L296.3 327.0L296.9 330.4L297.5 333.0L298.2 336.2L299.0 339.0L299.6 340.1L300.1 341.3L300.7 342.5L301.3 343.6L301.9 343.8L302.5 343.9L303.1 344.1L303.8 344.3L304.4 344.4L305.0 344.6L305.0 345L258.0 345Z" fill="#000" stroke="#000" stroke-width="0.8" stroke-linejoin="round"/>
<path d="M219.8 344.6L220.7 344.1L221.5 343.6L222.4 341.0L223.3 338.5L224.2 334.5L225.2 330.2L226.0 322.3L226.8 313.8L227.6 305.7L228.2 293.4L228.9 281.1L230.1 256.6L231.0 248.7L231.9 240.7L232.6 238.7L233.2 235.3L234.1 234.0L235.1 236.5L236.2 244.4L236.8 253.8L237.4 262.8L238.1 272.1L238.7 281.1L239.4 290.4L240.1 299.5L240.9 309.0L241.7 317.9L242.6 324.1L243.6 330.2L244.4 333.1L245.2 335.9L246.0 338.7L246.8 339.6L247.6 340.5L248.3 341.5L249.1 342.4L249.9 342.6L250.7 342.8L251.5 343.1L252.3 343.3L253.2 343.5L254.0 343.7L254.8 343.9L255.6 344.1L256.4 344.3L257.2 344.2L258.0 344.1L258.8 344.0L259.6 343.9L260.4 343.8L261.2 343.7L262.0 343.6L262.8 343.6L263.6 343.6L264.4 343.6L265.2 343.7L266.0 343.6L266.8 343.7L267.6 343.7L268.4 343.7L269.2 343.7L270.0 343.7L270.8 343.7L271.6 343.7L272.4 343.7L273.2 343.8L274.0 343.8L274.8 343.8L275.6 343.8L276.4 343.8L277.2 343.8L278.0 343.8L278.8 343.8L279.6 343.8L280.4 343.9L281.1 343.9L281.9 343.9L282.7 343.9L283.5 343.9L284.3 343.9L285.1 343.9L285.9 343.9L286.7 343.9L287.5 343.9L288.3 344.0L289.1 344.0L289.9 344.0L290.7 344.0L291.5 344.0L292.3 344.0L293.1 344.0L293.9 344.0L294.7 344.0L295.5 344.0L296.3 344.1L297.1 344.1L297.9 344.1L298.7 344.1L299.5 344.1L300.3 344.1L301.1 344.1L301.9 344.1L302.7 344.1L303.5 344.2L304.3 344.2L305.1 344.2L305.9 344.2L306.7 344.2L307.5 344.2L308.3 344.2L309.1 344.2L309.9 344.2L310.7 344.3L311.5 344.3L312.3 344.3L313.1 344.3L313.9 344.3L314.7 344.3L315.5 344.3L316.3 344.3L317.1 344.3L317.9 344.3L318.6 344.4L319.4 344.4L320.2 344.4L321.0 344.4L321.8 344.4L322.6 344.4L323.4 344.4L324.2 344.4L325.0 344.4L325.8 344.5L326.6 344.5L327.4 344.5L328.2 344.5L329.0 344.5L329.8 344.5L330.6 344.5L331.4 344.5L332.2 344.5L333.0 344.5L333.8 344.6L334.6 344.6L335.4 344.6L336.2 344.6L337.0 344.6" fill="none" stroke="#000" stroke-width="2.4" stroke-linejoin="round"/>
<rect x="218.4" y="227.9" width="118.50" height="117.40" fill="none" stroke="#000" stroke-width="1.45"/>
<path d="M232.00 345.73v2.6M243.80 345.73v2.6M272.00 345.73v2.6M298.80 345.73v2.6M324.80 345.73v2.6M217.98 345.30h-2.9M217.98 321.82h-2.9M217.98 298.34h-2.9M217.98 274.86h-2.9M217.98 251.38h-2.9M217.98 227.90h-2.9" stroke="#000" stroke-width="1.15" fill="none"/>
<path d="M252.29 345.73v1.8M257.25 345.73v1.8M260.78 345.73v1.8M263.51 345.73v1.8M265.74 345.73v1.8M267.63 345.73v1.8M269.27 345.73v1.8M270.71 345.73v1.8M280.07 345.73v1.8M284.79 345.73v1.8M288.14 345.73v1.8M290.73 345.73v1.8M292.85 345.73v1.8M294.65 345.73v1.8M296.20 345.73v1.8M297.57 345.73v1.8M306.63 345.73v1.8M311.21 345.73v1.8M314.45 345.73v1.8M316.97 345.73v1.8M319.03 345.73v1.8M320.77 345.73v1.8M322.28 345.73v1.8M323.61 345.73v1.8M234.36 345.73v1.8M229.64 345.73v1.8M236.72 345.73v1.8M227.28 345.73v1.8M239.08 345.73v1.8M224.92 345.73v1.8M241.44 345.73v1.8M222.56 345.73v1.8M332.63 345.73v1.8M217.98 339.43h-1.7M217.98 333.56h-1.7M217.98 327.69h-1.7M217.98 315.95h-1.7M217.98 310.08h-1.7M217.98 304.21h-1.7M217.98 292.47h-1.7M217.98 286.60h-1.7M217.98 280.73h-1.7M217.98 268.99h-1.7M217.98 263.12h-1.7M217.98 257.25h-1.7M217.98 245.51h-1.7M217.98 239.64h-1.7M217.98 233.77h-1.7" stroke="#000" stroke-width="1.05" fill="none"/>
<text x="231.6" y="355.7" font-size="7.6" fill="#5a5a5a" text-anchor="middle">0</text>
<text x="243.1" y="355.7" font-size="7.6" fill="#5a5a5a" text-anchor="middle">10</text>
<text x="247.7" y="352.8" font-size="6.2" fill="#5a5a5a">2</text>
<text x="271.3" y="355.7" font-size="7.6" fill="#5a5a5a" text-anchor="middle">10</text>
<text x="275.9" y="352.8" font-size="6.2" fill="#5a5a5a">3</text>
<text x="298.1" y="355.7" font-size="7.6" fill="#5a5a5a" text-anchor="middle">10</text>
<text x="302.7" y="352.8" font-size="6.2" fill="#5a5a5a">4</text>
<text x="324.1" y="355.7" font-size="7.6" fill="#5a5a5a" text-anchor="middle">10</text>
<text x="328.7" y="352.8" font-size="6.2" fill="#5a5a5a">5</text>
<text x="215.4" y="347.6" font-size="7.3" fill="#5a5a5a" text-anchor="end">0</text>
<text x="215.4" y="324.4" font-size="7.3" fill="#5a5a5a" text-anchor="end">20</text>
<text x="215.4" y="300.9" font-size="7.3" fill="#5a5a5a" text-anchor="end">40</text>
<text x="215.4" y="277.5" font-size="7.3" fill="#5a5a5a" text-anchor="end">60</text>
<text x="215.4" y="254.0" font-size="7.3" fill="#5a5a5a" text-anchor="end">80</text>
<text x="215.4" y="231.4" font-size="7.3" fill="#5a5a5a" text-anchor="end">100</text>
<text x="203.3" y="339.74" font-size="21.14" stroke="#000" stroke-width="0.35" textLength="88.11" lengthAdjust="spacingAndGlyphs" transform="rotate(-90 203.3 339.74)">% of Max</text>
<text x="248.84" y="374.3" font-size="21.22" stroke="#000" stroke-width="0.35" textLength="54.25" lengthAdjust="spacingAndGlyphs">CD33</text>
<rect x="381.4" y="227.9" width="118.35" height="117.40" fill="#fdfdfd"/>
<path transform="scale(.1)" d="M4216 3160h0M4242 3258h0M4289 3116h0M4381 3173h0M4240 3069h0M4313 3222h0M4292 3051h0M4259 3128h0M4254 3066h0M4414 3143h0M4368 2889h0M4400 3090h0M4255 3155h0M4286 3050h0M4291 3180h0M4224 3053h0M4310 3089h0M4331 3263h0M4398 3276h0M4387 3084h0M4299 3255h0M4311 3058h0M4253 3041h0M4399 3056h0M4265 3041h0M4373 3062h0M4284 3068h0M4370 3212h0M4335 3374h0M4330 3328h0M4284 3191h0M4254 3103h0M4395 3135h0M4350 3186h0M4363 3208h0M4249 3126h0M4272 3054h0M4347 3017h0M4298 3309h0M4352 3152h0M4462 3179h0M4183 3102h0M4333 3138h0M4316 3129h0M4270 2988h0M4203 3265h0M4313 3035h0M4298 3192h0M4377 3192h0M4264 3131h0M4279 3133h0M4274 3267h0M4351 3229h0M4395 3279h0M4341 3342h0M4451 3026h0M4285 3273h0M4462 3242h0M4299 3117h0M4325 3172h0M4217 3313h0M4319 3062h0M4308 3128h0M4243 3115h0M4435 3232h0M4187 2892h0M4247 3043h0M4356 3213h0M4371 3070h0M4258 3064h0M4299 3151h0M4313 3197h0M4323 3156h0M4312 2845h0M4265 2979h0M4337 3310h0M4212 3260h0M4309 3216h0M4259 3129h0M4299 3285h0M4350 2891h0M4271 3071h0M4220 3163h0M4184 3030h0M4154 3046h0M4235 3154h0M4362 3154h0M4295 3141h0M4275 3157h0M4290 3326h0M4333 3118h0M4241 3086h0M4357 3165h0M4238 3120h0M4283 3126h0M4237 3059h0M4336 3248h0M4430 3064h0M4246 3067h0M4305 3041h0M4288 3056h0M4206 3090h0M4229 3078h0M4260 3196h0M4265 3059h0M4246 3172h0M4282 3262h0M4336 3099h0M4258 3050h0M4243 3039h0M4297 3148h0M4253 3223h0M4203 2990h0M4253 3030h0M4237 3269h0M4398 3276h0M4234 3146h0M4276 3035h0M4338 3139h0M4385 3187h0M4312 3204h0M4385 3139h0M4288 3223h0M4313 3208h0M4423 3325h0M4299 3055h0M4442 3295h0M4327 3114h0M4361 3057h0M4375 3131h0M4297 3145h0M4262 3109h0M4339 3096h0M4348 3086h0M4341 3007h0M4383 3092h0M4273 3194h0M4308 3182h0M4288 3215h0M4308 3131h0M4228 3139h0M4359 3256h0M4333 3283h0M4370 3302h0M4294 3177h0M4331 3189h0M4343 3198h0M4367 3124h0M4220 3233h0M4330 3157h0M4345 3082h0M4324 3191h0M4298 2892h0M4223 3224h0M4262 3154h0M4282 3215h0M4305 3300h0M4359 3188h0M4303 3117h0M4392 3112h0M4281 3092h0M4341 3306h0M4316 3138h0M4323 3085h0M4383 3196h0M4408 3237h0M4335 3079h0M4353 3225h0M4305 3115h0M4296 3096h0M4277 3177h0M4375 3194h0M4261 3329h0M4391 3058h0M4211 3130h0M4269 3228h0M4240 3112h0M4186 3200h0M4411 3130h0M4340 3080h0M4346 3169h0M4194 3140h0M4290 2941h0M4315 3065h0M4375 3175h0M4242 3299h0M4372 3077h0M4321 2997h0M4235 3128h0M4416 3093h0M4132 3025h0M4371 3264h0M4251 3115h0M4365 3225h0M4332 3099h0M4459 2982h0M4333 3247h0M4246 3148h0M4342 3188h0M4421 3078h0M4378 3108h0M4282 3140h0M4228 3193h0M4329 3139h0M4294 3117h0M4348 3129h0M4273 3020h0M4325 3236h0M4269 3166h0M4286 3160h0M4259 2909h0M4242 3116h0M4269 3136h0M4298 3002h0M4355 3193h0M4377 3237h0M4436 3157h0M4418 3208h0M4333 3243h0M4268 2933h0M4331 3103h0M4290 3047h0M4341 3227h0M4317 3133h0M4279 3033h0M4360 3071h0M4306 3316h0M4382 3227h0M4299 3169h0M4368 3293h0M4385 3308h0M4395 3305h0M4395 3183h0M4219 3114h0M4347 3111h0M4389 3135h0M4323 3076h0M4409 3137h0M4260 3151h0M4365 3060h0M4440 3128h0M4304 2996h0M4365 3287h0M4299 3100h0M4332 3158h0M4326 3290h0M4316 3002h0M4201 3296h0M4332 3193h0M4258 3165h0M4294 2970h0M4303 3061h0M4255 3102h0M4229 3106h0M4377 3282h0M4348 2996h0M4345 3176h0M4304 2977h0M4193 2999h0M4263 3169h0M4251 3152h0M4222 3247h0M4259 3267h0M4294 3130h0M4175 3128h0M4229 2999h0M4170 2917h0M4371 3163h0M4340 3283h0M4279 3268h0M4298 3126h0M4261 3087h0M4303 3270h0M4275 3094h0M4299 3106h0M4433 3204h0M4447 3045h0M4412 3135h0M4233 3094h0M4153 3093h0M4376 3073h0M4295 3242h0M4057 3201h0M4397 3022h0M4379 3173h0M4353 3208h0M4325 2937h0M4181 3114h0M4471 2998h0M4211 3103h0M4196 2991h0M4156 3170h0M4240 3165h0M4165 2982h0M4069 3184h0M4179 3099h0M4233 3252h0M4165 2953h0M4247 2987h0M4267 2942h0M4248 3162h0M4086 2935h0M4461 3033h0M4321 2956h0M4253 3201h0M4312 3027h0M4099 3115h0M4308 3107h0M4316 3303h0M4261 3050h0M4434 3400h0M4359 3286h0M4042 2974h0M4246 3046h0M4273 2911h0M4527 3174h0M4215 3229h0M4099 3076h0M4210 3081h0M4338 2984h0M4366 3182h0M4297 3218h0M4211 2903h0M4302 3184h0M4416 3067h0M4315 3251h0M4251 3147h0M4218 3051h0M4365 3239h0M4294 3091h0" stroke="#333" stroke-width="7" stroke-linecap="square" fill="none" stroke-opacity="0.6"/>
<rect x="381.4" y="227.9" width="118.35" height="117.40" fill="none" stroke="#000" stroke-width="1.45"/>
<path d="M395.00 345.73v2.6M406.80 345.73v2.6M435.00 345.73v2.6M461.80 345.73v2.6M487.80 345.73v2.6M380.97 331.70h-3.4M380.97 319.90h-2.7M380.97 291.70h-2.7M380.97 264.90h-2.7M380.97 238.90h-2.7" stroke="#000" stroke-width="1.15" fill="none"/>
<path d="M415.29 345.73v1.8M420.25 345.73v1.8M423.78 345.73v1.8M426.51 345.73v1.8M428.74 345.73v1.8M430.63 345.73v1.8M432.27 345.73v1.8M433.71 345.73v1.8M443.07 345.73v1.8M447.79 345.73v1.8M451.14 345.73v1.8M453.73 345.73v1.8M455.85 345.73v1.8M457.65 345.73v1.8M459.20 345.73v1.8M460.57 345.73v1.8M469.63 345.73v1.8M474.21 345.73v1.8M477.45 345.73v1.8M479.97 345.73v1.8M482.03 345.73v1.8M483.77 345.73v1.8M485.28 345.73v1.8M486.61 345.73v1.8M397.36 345.73v1.8M392.64 345.73v1.8M399.72 345.73v1.8M390.28 345.73v1.8M402.08 345.73v1.8M387.92 345.73v1.8M404.44 345.73v1.8M385.56 345.73v1.8M495.63 345.73v1.8M380.97 311.41h-1.7M380.97 306.45h-1.7M380.97 302.92h-1.7M380.97 300.19h-1.7M380.97 297.96h-1.7M380.97 296.07h-1.7M380.97 294.43h-1.7M380.97 292.99h-1.7M380.97 283.63h-1.7M380.97 278.91h-1.7M380.97 275.56h-1.7M380.97 272.97h-1.7M380.97 270.85h-1.7M380.97 269.05h-1.7M380.97 267.50h-1.7M380.97 266.13h-1.7M380.97 257.07h-1.7M380.97 252.49h-1.7M380.97 249.25h-1.7M380.97 246.73h-1.7M380.97 244.67h-1.7M380.97 242.93h-1.7M380.97 241.42h-1.7M380.97 240.09h-1.7M380.97 329.34h-1.7M380.97 334.06h-1.7M380.97 326.98h-1.7M380.97 336.42h-1.7M380.97 324.62h-1.7M380.97 338.78h-1.7M380.97 322.26h-1.7M380.97 341.14h-1.7M380.97 231.07h-1.7" stroke="#000" stroke-width="1.05" fill="none"/>
<text x="394.6" y="355.7" font-size="7.6" fill="#5a5a5a" text-anchor="middle">0</text>
<text x="406.1" y="355.7" font-size="7.6" fill="#5a5a5a" text-anchor="middle">10</text>
<text x="410.7" y="352.8" font-size="6.2" fill="#5a5a5a">2</text>
<text x="434.3" y="355.7" font-size="7.6" fill="#5a5a5a" text-anchor="middle">10</text>
<text x="438.9" y="352.8" font-size="6.2" fill="#5a5a5a">3</text>
<text x="461.1" y="355.7" font-size="7.6" fill="#5a5a5a" text-anchor="middle">10</text>
<text x="465.7" y="352.8" font-size="6.2" fill="#5a5a5a">4</text>
<text x="487.1" y="355.7" font-size="7.6" fill="#5a5a5a" text-anchor="middle">10</text>
<text x="491.7" y="352.8" font-size="6.2" fill="#5a5a5a">5</text>
<text x="377.0" y="334.2" font-size="7.6" fill="#5a5a5a" text-anchor="end">0</text>
<text x="375.4" y="323.2" font-size="7.6" fill="#5a5a5a" text-anchor="end">10</text>
<text x="376.2" y="319.2" font-size="6.2" fill="#5a5a5a">2</text>
<text x="375.4" y="294.2" font-size="7.6" fill="#5a5a5a" text-anchor="end">10</text>
<text x="376.2" y="290.2" font-size="6.2" fill="#5a5a5a">3</text>
<text x="375.4" y="267.4" font-size="7.6" fill="#5a5a5a" text-anchor="end">10</text>
<text x="376.2" y="263.4" font-size="6.2" fill="#5a5a5a">4</text>
<text x="375.4" y="241.4" font-size="7.6" fill="#5a5a5a" text-anchor="end">10</text>
<text x="376.2" y="237.4" font-size="6.2" fill="#5a5a5a">5</text>
<path d="M412.9 227.9V345.3M381.4 315.4H499.75" stroke="#000" stroke-width="1.25" fill="none"/>
<text x="384.0" y="241.1" font-size="11.9" stroke="#000" stroke-width="0.1" textLength="16.54" lengthAdjust="spacingAndGlyphs">4.6</text>
<text x="475.66" y="241.1" font-size="11.9" stroke="#000" stroke-width="0.1" textLength="23.16" lengthAdjust="spacingAndGlyphs">44.4</text>
<text x="383.82" y="344.2" font-size="11.9" stroke="#000" stroke-width="0.1" textLength="16.54" lengthAdjust="spacingAndGlyphs">3.6</text>
<text x="475.78" y="344.2" font-size="11.9" stroke="#000" stroke-width="0.1" textLength="23.16" lengthAdjust="spacingAndGlyphs">47.5</text>
<text x="365.2" y="307.56" font-size="21.13" stroke="#000" stroke-width="0.35" textLength="65.77" lengthAdjust="spacingAndGlyphs" transform="rotate(-90 365.2 307.56)">CD123</text>
<text x="411.93" y="375.8" font-size="21.34" stroke="#000" stroke-width="0.35" textLength="54.56" lengthAdjust="spacingAndGlyphs">CD13</text>
</g>
<g id="panelC">
<text x="-1.28" y="408.7" font-size="29.4" stroke="#000" stroke-width="0.35" textLength="21.23" lengthAdjust="spacingAndGlyphs" font-weight="bold">C</text>
<clipPath id="c2"><rect x="50.3" y="397.85" width="118.75" height="117.25"/></clipPath>
<rect x="50.3" y="397.85" width="118.75" height="117.25" fill="#fdfdfd"/>
<g clip-path="url(#c2)">
<path d="M58.0 435.5L64.0 434.6L74.0 434.6L79.5 435.5L81.0 451.0L77.2 466.5L71.0 477.3L69.5 483.5L76.0 491.0L76.5 496.0L75.0 501.0L71.0 504.0L66.0 504.0L62.0 501.0L60.3 496.0L60.5 491.0L64.2 483.5L62.5 477.3L58.8 466.5L56.7 451.0Z" fill="#000" fill-opacity="1" filter="url(#b1)"/>
<path transform="scale(.1)" d="M583 4753h0M669 4293h0M690 4992h0M614 4713h0M629 4803h0M635 4629h0M715 5020h0M591 4984h0M731 4371h0M731 5046h0M789 4986h0M572 4369h0M792 5011h0M550 4540h0M620 4602h0M760 4923h0M639 5021h0M751 4398h0M586 4997h0M573 4498h0M670 4357h0M608 4305h0M697 4338h0M587 4577h0M561 4439h0M556 4498h0M750 5020h0M785 4930h0M637 4774h0M633 4794h0M767 5000h0M564 4443h0M564 4614h0M773 4813h0M631 4336h0M688 4308h0M733 5047h0M739 4821h0M547 4566h0M747 4373h0M586 4388h0M825 4614h0M649 4837h0M759 4759h0M735 4491h0M718 4854h0M679 4704h0M793 4606h0M673 4970h0M728 4298h0M659 4773h0M628 4860h0M711 5003h0M789 4630h0M810 4440h0M716 4666h0M857 4361h0M781 4920h0M642 4384h0M773 4713h0M640 4853h0M688 4810h0M852 4488h0M644 5059h0M808 4430h0M524 4664h0M645 4750h0M546 4778h0M586 4799h0M734 4984h0M579 4639h0M619 4845h0M771 4668h0M614 4375h0M786 5061h0M602 4671h0M660 4844h0M749 4525h0M595 4705h0M742 4359h0M788 4604h0M718 4691h0M574 4360h0M617 4646h0M774 4363h0M588 4367h0M866 4408h0M626 4907h0M728 5026h0M648 5018h0M513 4640h0M626 4889h0M600 4929h0M710 4881h0M630 4364h0M570 4734h0M608 5001h0M592 4584h0M636 4340h0M805 4626h0M690 4879h0M691 4990h0M873 4429h0M603 4658h0M771 5014h0M665 4885h0M750 4797h0M758 4773h0M645 4981h0M773 4441h0M594 4510h0M824 4961h0M635 4757h0M642 4912h0M767 4999h0M727 4830h0M751 5031h0M539 4549h0M624 4886h0M650 4613h0M830 4450h0M718 4795h0M626 5000h0M690 4999h0M581 4983h0M596 4989h0M669 5071h0M551 4465h0M703 4888h0M800 4472h0M617 4794h0M655 5059h0M749 4334h0M684 4363h0M758 4995h0M552 4678h0M710 4990h0M568 4703h0M788 4705h0M872 4579h0M849 4498h0M779 4597h0M713 5040h0M741 4560h0M824 4490h0M704 4755h0M714 4654h0M534 4575h0M729 4390h0M810 4471h0M763 4607h0M748 4794h0M577 4594h0M786 5024h0M751 4647h0M607 4707h0M540 4413h0M556 4340h0M610 4684h0M609 4381h0M646 4995h0M628 4700h0M625 4819h0M643 4651h0M644 4329h0M766 4985h0M763 4928h0M638 4980h0M665 4372h0M653 4315h0M808 4397h0M636 4757h0M586 4360h0M710 4321h0M768 4697h0M748 4829h0M658 5083h0M729 4818h0M639 4833h0M624 4790h0M773 4460h0M716 4753h0M616 4324h0M613 4393h0M640 5016h0M544 4340h0M573 4832h0M745 5014h0M753 4672h0M700 5010h0M714 4791h0M855 4499h0M610 4701h0M668 4394h0M792 4491h0M615 4530h0M773 4596h0M741 4842h0M584 4929h0M750 5005h0M679 4823h0M760 4394h0M519 4599h0M717 4972h0M743 4709h0M537 4709h0M682 4366h0M741 4477h0M622 4770h0M699 4776h0M634 4929h0M783 4465h0M671 4747h0M712 4354h0M693 4306h0M683 4318h0M592 4591h0M613 5021h0M638 5022h0M763 4964h0M618 5043h0M617 4289h0M546 4375h0M687 4726h0M645 4368h0M692 4620h0M813 4344h0M748 5009h0M710 4845h0M732 4309h0M663 4401h0M658 4838h0M814 4362h0M621 4555h0M726 4348h0M643 4749h0M821 4328h0M777 4544h0M676 4342h0M592 5007h0M622 4729h0M688 4897h0M602 4568h0M723 4996h0M664 4931h0M617 4719h0M594 5041h0M685 4345h0M633 4601h0M599 4439h0M807 4709h0M643 4900h0M797 4561h0M512 4596h0M797 5034h0M661 4839h0M762 4405h0M688 5017h0M700 4945h0M536 4486h0M776 4369h0M743 4895h0M803 4951h0M598 4563h0M845 5001h0M777 4857h0M618 4773h0M678 4334h0M724 4991h0M657 4594h0M587 4352h0M736 4705h0M798 4962h0M697 4339h0M825 4930h0M615 4832h0M570 4942h0M739 4715h0M611 4789h0M634 4778h0M733 5035h0M579 4724h0M706 4753h0M716 4376h0M781 4349h0M790 4317h0M585 4312h0M749 4350h0M635 4775h0M599 4850h0M789 4373h0M700 5027h0M630 4772h0M723 4702h0M532 4547h0M632 4793h0M646 4387h0M756 4737h0M809 4402h0M790 4310h0M560 4565h0M782 4915h0M642 4961h0M709 4320h0M676 4948h0M865 4429h0M726 4772h0M768 4583h0M665 4702h0M574 4474h0M745 4868h0M813 4391h0M818 4598h0M743 5024h0M689 5028h0M722 5051h0M576 4435h0M605 4709h0M856 4571h0M623 4888h0M648 5014h0M700 4825h0M569 4540h0M735 5044h0M795 4871h0M645 4409h0M614 4834h0M591 4509h0M706 4871h0M580 4770h0M622 4796h0M564 4478h0M698 5043h0M790 4328h0M680 4365h0M580 4591h0M547 4429h0M554 4661h0M763 4951h0M531 4427h0M591 4681h0M594 4920h0M627 4743h0M853 4511h0M708 4959h0M587 4496h0M577 4366h0M632 4872h0M773 4966h0M760 4985h0M583 4467h0M796 4534h0M753 4954h0M791 4686h0M781 4963h0M655 4297h0M612 4755h0M741 4612h0M824 4598h0M788 4966h0M701 4709h0M694 5021h0M710 4974h0M744 5012h0M672 5018h0M753 4545h0M602 4706h0M818 4532h0M543 4308h0M796 4496h0M541 4347h0M834 4627h0M621 4497h0M716 4491h0M681 5023h0M783 4380h0M628 4635h0M561 4440h0M793 4950h0M689 4795h0M675 4362h0M729 4669h0M580 4499h0M612 4514h0M804 4607h0M644 5087h0M698 5042h0M598 5014h0M710 5038h0M606 4411h0M656 4804h0M605 4336h0M697 5040h0M738 4349h0M756 4921h0M669 5073h0M601 4546h0M777 5018h0M782 4632h0M550 4422h0M598 4564h0M624 5086h0M593 4445h0M671 4387h0M556 4768h0M683 4750h0M552 4633h0M751 4755h0M712 4288h0M605 4851h0M805 4379h0M745 4556h0M597 5066h0M764 4796h0M809 4980h0M704 4313h0M685 4991h0M560 4452h0M666 4746h0M777 4393h0M764 4876h0M549 4364h0M741 4476h0M654 4907h0M558 4528h0M834 4405h0M713 4830h0M759 4619h0M579 4733h0M771 4387h0M573 4363h0M745 4946h0M538 4514h0M641 5008h0M727 5050h0M830 4369h0M542 4560h0M719 4919h0M838 4418h0M850 4473h0M859 4412h0M731 5027h0M534 4918h0M641 4895h0M657 4860h0M557 4353h0M586 4614h0M790 4976h0M625 4783h0M761 4360h0M835 4551h0M693 4819h0M651 4790h0M537 5012h0M563 4361h0M813 4513h0M677 4781h0M772 4384h0M804 4727h0M603 4587h0M637 4796h0M674 4832h0M600 4822h0M640 5030h0M611 5007h0M714 4334h0M799 4644h0M602 4870h0M595 4564h0M763 5062h0M848 4540h0M636 4721h0M510 4483h0M621 4854h0M554 4507h0M702 5017h0M876 4694h0M604 4641h0M792 4323h0M754 4495h0M653 5012h0M775 4718h0M546 4636h0M680 4655h0M803 4319h0M685 4293h0M862 4513h0M593 4737h0M804 4554h0M772 4664h0M763 4645h0M852 4426h0M660 4681h0M631 5059h0M668 4601h0M599 5033h0M664 4882h0M649 4383h0M591 4459h0M783 4502h0M615 4374h0M741 4601h0M833 4900h0M729 4694h0M780 4638h0M568 4452h0M622 4566h0M653 4706h0M779 4329h0M692 4784h0M786 4976h0M744 5042h0M597 4959h0M616 4795h0M559 5003h0M604 4330h0M671 4368h0M537 4440h0M666 5014h0M828 4541h0M523 4931h0M679 4753h0M625 5000h0M710 4768h0M637 4931h0M600 4791h0M635 5007h0M578 4944h0M588 4650h0M616 4960h0M600 5027h0M598 5041h0M729 4954h0M642 4558h0M671 4918h0M641 4326h0M718 4953h0M612 4644h0M549 4388h0M680 5073h0M778 4660h0M689 5047h0M598 4924h0M623 4598h0M824 4552h0M764 4678h0M774 4897h0M779 4971h0M722 4909h0M595 4639h0M737 4349h0M791 4553h0M694 4352h0M786 5051h0M732 4402h0M606 4835h0M675 4345h0M797 4385h0M774 4624h0M752 4965h0M708 4856h0M551 4579h0M650 4718h0M565 4626h0M885 4423h0M685 4835h0M612 4999h0M712 4341h0M723 4848h0M781 4617h0M748 4344h0M804 4583h0M593 4787h0M640 5034h0M814 4612h0M645 4476h0M757 4922h0M616 4559h0M700 4913h0M588 4616h0M743 5068h0M509 4476h0M719 4695h0M594 4949h0M764 4908h0M756 4575h0M795 4447h0M620 4362h0M600 4359h0M747 4816h0M594 4555h0M596 5018h0M662 4841h0M611 4878h0M683 4700h0M692 4819h0M630 4368h0M744 4968h0M784 4447h0M713 4340h0M784 4715h0M805 4371h0M795 5015h0M594 4966h0M841 4398h0M621 4337h0M687 4726h0M633 4987h0M533 4635h0M786 4598h0M567 4612h0M663 4765h0M632 4972h0M548 4501h0M740 4804h0M645 4859h0M596 4804h0M590 4941h0M628 4763h0M695 4730h0M586 4446h0M644 5052h0M720 4352h0M735 4905h0M563 4505h0M755 4518h0M822 4446h0M723 4830h0M562 4975h0M769 4958h0M768 4628h0M600 4949h0M661 4343h0M641 4854h0M723 4955h0M626 4929h0M681 4843h0M586 4569h0M596 4636h0M733 4657h0M678 4854h0M681 4962h0M703 5042h0M749 4831h0M665 4882h0M609 4586h0M727 4323h0M745 4707h0M642 4783h0M557 4520h0M619 4995h0M534 4404h0M793 5010h0M778 4688h0M615 5023h0M613 4802h0M701 4384h0M739 4689h0M615 4354h0M605 4657h0M527 4410h0M666 4819h0M817 4433h0M755 4754h0M801 4596h0M668 5030h0M641 4679h0M705 4747h0M639 4341h0M719 4402h0M734 4843h0M789 4684h0M512 4464h0M686 4309h0M822 4472h0M688 4785h0M796 4903h0M742 5029h0M779 4497h0M616 4778h0M663 4312h0M633 4641h0M576 4785h0M578 4908h0M582 4670h0M592 4376h0M605 4547h0M765 4451h0M638 4776h0M708 4648h0M657 4868h0M532 4777h0M814 4361h0M729 5007h0M585 4431h0M565 4341h0M696 4317h0M728 4852h0M752 4777h0M550 4953h0M846 4463h0M835 4586h0M641 4368h0M588 4391h0M595 4794h0M635 4338h0M864 4506h0M631 4886h0M727 5033h0M548 4561h0M795 4960h0M622 4782h0M591 4708h0M831 4460h0M786 4407h0M662 4714h0M772 4589h0M744 4834h0M733 4895h0M743 4504h0M560 4356h0M602 4676h0M578 4867h0M801 4327h0M762 5014h0M650 5082h0M679 4765h0M765 4920h0M553 4456h0M556 4495h0M759 4691h0M681 4325h0M732 4381h0M798 4473h0M734 4841h0M648 5032h0M574 4563h0M656 4772h0M736 4648h0M679 4728h0M554 4376h0M669 4696h0M777 4723h0M690 4353h0M714 4727h0M512 4506h0M839 4571h0M548 4728h0M691 4324h0M793 4917h0M623 4634h0M765 4537h0M558 4434h0M722 4869h0M576 4440h0M756 4644h0M585 4531h0M584 4689h0M535 4519h0M783 4944h0M771 4723h0M629 4955h0M592 4617h0M722 4773h0M580 4401h0M721 4938h0M591 4595h0M708 4377h0M583 4382h0M740 5062h0M780 4578h0M777 4572h0M714 4762h0M527 4706h0M815 4535h0M822 4571h0M621 4725h0M653 4772h0M530 4637h0M726 5046h0M736 4379h0M823 4980h0M630 4323h0M684 4836h0M606 4792h0M831 4496h0M645 4945h0M602 4602h0M653 4792h0M590 5003h0M748 4965h0M584 4838h0M843 4554h0M558 4355h0M621 4922h0M785 4419h0M644 5009h0M700 4323h0M875 4521h0M616 4818h0M619 4381h0M717 4787h0M812 4713h0M855 4585h0M606 4368h0M608 4719h0M783 4609h0M579 4622h0M619 4715h0M841 4560h0M607 5069h0M734 4307h0M690 4834h0M732 4955h0M776 4470h0M812 4535h0M617 4328h0M600 4908h0M803 4487h0M772 5082h0M754 4872h0M577 4511h0M559 4522h0M587 4533h0M643 5007h0M754 4769h0M794 4383h0M810 4434h0M663 4318h0M801 4684h0M730 4373h0M565 4362h0M647 4339h0M815 4458h0M714 4828h0M512 4439h0M706 4664h0M657 4813h0M581 4566h0M750 4743h0M804 4603h0M677 5055h0M787 4645h0M632 4336h0M573 4769h0M814 4414h0M723 4718h0M611 4623h0M759 4724h0M787 4514h0M703 4970h0M604 4837h0M565 4431h0M736 5017h0M801 4611h0M592 4461h0M758 5064h0M761 4385h0M604 4797h0M582 4525h0M722 4844h0M568 4346h0M633 4370h0M760 4556h0M604 5037h0M709 4956h0M700 4766h0M676 4839h0M746 4896h0M611 4932h0M553 4426h0M748 4645h0M796 4506h0M615 4320h0M693 4670h0M645 4980h0M739 5023h0M754 4754h0M722 4910h0M673 4783h0M765 4854h0M619 5052h0M654 4908h0M587 4998h0M645 4455h0M615 4693h0M604 4832h0M684 4803h0M825 4450h0M607 4458h0M641 4965h0M621 4795h0M676 4808h0M822 4427h0M594 4558h0M681 4325h0M889 4159h0M851 4208h0M686 4274h0M757 4238h0M716 4153h0M738 4242h0M836 4309h0M734 4305h0M815 4209h0M769 4294h0M736 4316h0M729 4225h0M630 4181h0M660 4170h0M866 4264h0M694 4334h0M693 4173h0M627 4202h0M897 4217h0M652 4176h0M773 4269h0M674 4202h0M708 4304h0M739 4327h0M806 4293h0M706 4278h0M1005 4148h0M511 4133h0M684 4133h0M689 4388h0M759 4192h0M778 4326h0M608 4247h0M671 4266h0M545 4147h0M855 4199h0M796 4084h0M879 4266h0M728 4232h0M973 4270h0M813 4220h0M844 4248h0M712 4169h0M908 4376h0M627 4219h0M818 4262h0M697 4078h0M643 4117h0M806 4156h0M663 4313h0M816 4372h0M655 4378h0M747 4280h0M828 4331h0M518 4097h0M620 4371h0M767 4261h0M700 4172h0M758 4345h0M581 4268h0M654 4286h0M622 4210h0M687 4313h0M741 4174h0M689 4252h0M733 4368h0M843 4192h0M665 4337h0M837 4028h0M776 4257h0M716 4258h0M642 4233h0M795 4256h0M517 4232h0M739 4324h0M577 4149h0M606 4169h0M695 4296h0M834 4167h0M853 4339h0M895 4322h0M657 4109h0M676 4283h0M761 4243h0M651 4249h0M796 4282h0M788 4249h0M827 4223h0M715 4179h0M884 4267h0M766 4266h0M874 4381h0M693 4341h0M680 4306h0M753 4256h0M761 4193h0M778 4239h0M856 4135h0M808 4174h0M903 4296h0M768 4200h0M744 4231h0M737 4248h0M825 4307h0M901 4162h0M737 4226h0M804 4231h0M664 4178h0M674 4311h0M746 4198h0M941 4160h0M709 4339h0M823 4180h0M872 4284h0M840 4361h0M814 4327h0M701 4356h0M909 4224h0M662 4321h0M694 4204h0M615 4248h0M842 4341h0M807 4348h0M862 4202h0M842 4183h0M639 4296h0M813 4127h0M603 4233h0M722 4294h0M685 4241h0M726 4278h0M685 4220h0M756 4262h0M594 4383h0M620 4275h0M672 4267h0M847 4158h0M633 4311h0M828 4164h0M749 4257h0M823 4268h0M869 4218h0M799 4338h0M603 4166h0M736 4136h0M727 4304h0M793 4296h0M691 4320h0M810 4349h0M786 4162h0M675 4271h0M757 4208h0M762 4315h0M780 4162h0M753 4277h0M925 4116h0M896 4175h0M545 4225h0M747 4276h0M635 4195h0M755 4164h0M723 4399h0M701 4192h0M783 4342h0M666 4295h0M538 4250h0M685 4232h0M780 4182h0M787 4273h0M736 4258h0M825 4202h0M898 4299h0M746 4226h0M683 4347h0M619 4251h0M727 4222h0M994 4302h0M659 4315h0M689 4256h0M790 4205h0M777 4154h0M662 4274h0M813 4181h0M916 4237h0M669 4371h0M842 4140h0M662 4310h0M738 4369h0M863 4339h0M746 4271h0M673 4230h0M556 4162h0M901 4194h0M523 4255h0M706 4343h0M766 4406h0M606 4123h0M836 4295h0M990 4318h0M755 4205h0M854 4293h0M721 4220h0M823 4363h0M676 4302h0M779 4315h0M669 4260h0M702 4166h0M697 4154h0M756 4228h0M867 4150h0M668 4272h0M908 4330h0M895 4198h0M693 4257h0M914 4222h0M794 4262h0M810 4208h0M706 4274h0M830 4277h0M902 4210h0M655 4289h0M781 4209h0M635 4353h0M598 4190h0M727 4335h0M636 4282h0M733 4383h0M835 4315h0M712 4283h0M589 4129h0M663 4187h0M702 4302h0M831 4367h0M692 4209h0M652 4172h0M916 4257h0M721 4222h0M724 4414h0M630 4326h0M611 4231h0M939 4260h0M598 4292h0M659 4214h0M736 4254h0M728 4274h0M643 4258h0M743 4349h0M738 4248h0M876 4261h0M758 4351h0M715 4242h0M797 4243h0M678 4184h0M736 4138h0M700 4170h0M774 4280h0M696 4206h0M615 4252h0M784 4209h0M884 4212h0M890 4239h0M968 4311h0M828 4324h0M676 4280h0M865 4214h0M899 4243h0M834 4317h0M706 4169h0M865 4382h0M804 4390h0M671 4312h0M779 4312h0M735 4409h0M715 4265h0M867 4184h0M630 4213h0M780 4252h0M795 4382h0M705 4162h0M891 4415h0M742 4382h0M731 4255h0M614 4274h0M645 4209h0M964 4290h0M924 4170h0M776 4131h0M661 4264h0M705 4266h0M777 4195h0M731 4340h0M660 4149h0M876 4183h0M537 4185h0M578 4094h0M697 4251h0M512 4258h0M714 4166h0M702 4239h0M816 4237h0M672 4286h0M769 4252h0M634 4237h0M795 4253h0M740 4227h0M705 4180h0M585 4217h0M688 4365h0M756 4337h0M640 4233h0M557 4230h0M691 4239h0M806 4310h0M625 4189h0M883 4338h0M824 4213h0M722 4299h0M728 4241h0M920 4410h0M554 4270h0M844 4234h0M747 4222h0M541 4263h0M853 4142h0M621 4180h0M598 4373h0M697 4234h0M684 4251h0M758 4262h0M694 4248h0M708 4318h0M1005 4184h0M878 4356h0M576 4282h0M657 4255h0M619 4305h0M710 4103h0M676 4426h0M746 4249h0M675 4260h0M696 4261h0M993 4165h0M754 4288h0M570 4272h0M689 4354h0M736 4200h0M799 4319h0M698 4254h0M821 4247h0M552 4148h0M919 4250h0M736 4205h0M942 4282h0M643 4317h0M766 4352h0M702 4422h0M788 4388h0M756 4428h0M731 4199h0M814 4083h0M738 4169h0M759 4300h0M645 4233h0M785 4364h0M768 4283h0M768 4229h0M757 4309h0M764 4182h0M669 4199h0M683 4384h0M828 4281h0M891 4276h0M716 4418h0M691 4126h0M610 4276h0M724 4246h0M786 4227h0M599 4277h0M670 4221h0M611 4342h0M567 4253h0M686 4124h0M608 4188h0M834 4173h0M575 4373h0M638 4338h0M850 4356h0M854 4295h0M550 4247h0M752 4170h0M856 4162h0M698 4337h0M639 4100h0M664 4241h0M969 4142h0M759 4321h0M705 4069h0M699 4266h0M711 4272h0M768 4201h0M750 4370h0M608 4305h0M750 4258h0M537 4240h0M591 4370h0M669 4313h0M722 4199h0M744 4139h0M909 4213h0M709 4238h0M635 4168h0M780 4232h0M762 4210h0M799 4109h0M731 4262h0M868 4266h0M812 4332h0M910 4240h0M903 4183h0M751 4280h0M1009 4225h0M650 4326h0M818 4218h0M644 4309h0M769 4231h0M631 4202h0M687 4281h0M608 4283h0M861 4335h0M641 4257h0M668 4345h0M775 4353h0M706 4258h0M739 4275h0M803 4281h0M803 4337h0M730 4322h0M739 4238h0M742 4294h0M735 4285h0M636 4356h0M787 4251h0M671 4245h0M617 4257h0M746 4323h0M736 4243h0M773 4342h0M836 4295h0M790 4243h0M705 4345h0M689 4335h0M858 4318h0M777 4214h0M784 4271h0M761 4185h0M750 4275h0M647 4330h0M830 4239h0M840 4059h0M687 4277h0M818 4262h0M769 4348h0M662 4357h0M612 4208h0M685 4184h0M719 4227h0M628 4273h0M569 4286h0M713 4233h0M552 4247h0M818 4215h0M822 4216h0M822 4116h0M754 4356h0M573 4246h0M799 4233h0M763 4248h0M871 4261h0M779 4310h0M611 4244h0M733 4288h0M846 4163h0M860 4100h0M823 4185h0M954 4307h0M657 4340h0M799 4311h0M687 4177h0M817 4296h0M881 4144h0M991 4254h0M732 4230h0M625 4301h0M663 4445h0M709 4291h0M751 4149h0M813 4157h0M634 4366h0M615 4229h0M693 4313h0M914 4253h0M717 4177h0M752 4291h0M851 4311h0M628 4205h0M774 4176h0M652 4255h0M720 4252h0M887 4166h0M588 4201h0M824 4231h0M801 4232h0M626 4179h0M906 4311h0M784 4278h0M737 4360h0M880 4220h0M845 4279h0M734 4225h0M656 4188h0M675 4194h0M695 4227h0M780 4268h0M549 4349h0M815 4245h0M706 4381h0M979 4225h0M645 4256h0M795 4202h0M742 4289h0M737 4273h0M647 4233h0M739 4194h0M758 4360h0M807 4246h0M955 4282h0M810 4183h0M726 4267h0M678 4246h0M711 4276h0M903 4220h0M726 4158h0M771 4166h0M635 4347h0M781 4236h0M591 4276h0M735 4233h0M634 4160h0M662 4285h0M741 4161h0M743 4347h0M822 4294h0M752 4196h0M740 4343h0M838 4157h0M688 4184h0M688 4352h0M726 4292h0M782 4201h0M885 4230h0M815 4335h0M785 4195h0M861 4225h0M669 4253h0M842 4303h0M854 4210h0M612 4232h0M854 4165h0M671 4241h0M925 4306h0M659 4183h0M597 4176h0M795 4330h0M752 4095h0M614 4147h0M590 4162h0M632 4051h0M545 4357h0M599 4257h0M761 4167h0M644 4281h0M683 4359h0M830 4325h0M766 4296h0M636 4203h0M781 4281h0M738 4142h0M705 4188h0M661 4214h0M664 4284h0M874 4402h0M845 4294h0M803 4419h0M985 4206h0M726 4340h0M586 4156h0M694 4180h0M655 4207h0M818 4096h0M670 4228h0M549 4270h0M844 4204h0M714 4211h0M857 4092h0M835 4282h0M662 4260h0M761 4228h0M830 4186h0M732 4270h0M539 4292h0M728 4332h0M996 4188h0M819 4135h0M765 4209h0M962 4228h0M747 4208h0M938 4265h0M750 4274h0M852 4315h0M732 4235h0M741 4198h0M810 4205h0M568 4140h0M661 4214h0M875 4294h0M823 4221h0M688 4202h0M713 4160h0M754 4200h0M680 4252h0M714 4241h0M746 4280h0M761 4182h0M708 4258h0M833 4412h0M802 4359h0M731 4187h0M666 4176h0M794 4242h0M683 4329h0M1111 4690h0M989 4610h0M1139 4547h0M990 4663h0M1097 4454h0M1005 4577h0M845 4607h0M818 4566h0M936 4540h0M833 4504h0M1030 4572h0M1018 4505h0M924 4619h0M849 4595h0M977 4547h0M1049 4541h0M930 4625h0M1106 4691h0M938 4671h0M841 4700h0M1043 4549h0M1131 4657h0M879 4642h0M1109 4479h0M1165 4625h0M919 4564h0M834 4563h0M951 4664h0M1133 4713h0M993 4568h0M1122 4631h0M1128 4623h0M997 4660h0M1002 4523h0M941 4587h0M996 4442h0M888 4541h0M1109 4643h0M924 4527h0M828 4559h0M1139 4563h0M919 4499h0M1153 4553h0M818 4590h0M1054 4551h0M847 4505h0M966 4580h0M811 4581h0M994 4674h0M883 4647h0M1096 4583h0M932 4647h0M1070 4499h0M916 4512h0M1135 4638h0M1106 4735h0M1061 4609h0M922 4617h0M967 4643h0M1052 4597h0M961 4757h0M886 4685h0M841 4592h0M1026 4617h0M805 4572h0M910 4544h0M1112 4684h0M1162 4707h0M1106 4602h0M1110 4651h0M828 4517h0M1104 4677h0M1019 4545h0M1060 4608h0M1069 4635h0M1083 4544h0M946 4642h0M819 4651h0M855 4642h0M1150 4616h0M1156 4551h0M1143 4734h0M1100 4592h0M1051 4675h0M1063 4668h0M1068 4571h0M821 4612h0M1066 4564h0M806 4514h0M980 4638h0M992 4723h0M939 4583h0M822 4611h0M1064 4721h0M996 4596h0M976 4552h0M973 4559h0M846 4644h0M1011 4551h0M1091 4545h0M1114 4568h0M936 4536h0M926 4612h0M853 4571h0M941 4629h0M1157 4705h0M1052 4530h0M942 4569h0M986 4583h0M877 4528h0M872 4666h0M1052 4620h0M868 4518h0M851 4547h0M850 4598h0M909 4443h0M1019 4528h0M920 4622h0M994 4627h0M862 4624h0M991 4535h0M915 4532h0M1036 4468h0M931 4654h0M850 4530h0M1106 4634h0M1073 4679h0M1083 4587h0M1041 4627h0M1132 4629h0M1149 4600h0M877 4600h0M1106 4541h0M1060 4684h0M907 4624h0M897 4608h0M890 4486h0M990 4602h0M898 4598h0M1097 4603h0M957 4594h0M811 4571h0M1153 4542h0M818 4588h0M1125 4523h0M839 4701h0M935 4679h0M1126 4502h0M823 4598h0M1123 4491h0M1067 4640h0M854 4651h0M809 4495h0M1124 4571h0M827 4620h0M1075 4544h0M905 4483h0M924 4600h0M814 4544h0M827 4671h0M1168 4538h0M833 4571h0M1083 4549h0M1084 4582h0M849 4594h0M865 4716h0M1151 4701h0M1100 4433h0M1027 4631h0M1089 4723h0M1150 4616h0M1112 4589h0M1068 4588h0M880 4577h0M824 4648h0M810 4588h0M1059 4755h0M1085 4666h0M954 4570h0M1157 4588h0M1017 4598h0M898 4616h0M892 4548h0M908 4541h0M952 4528h0M1085 4475h0M851 4605h0M813 4562h0M1062 4575h0M1148 4600h0M1085 4630h0M854 4690h0M993 4530h0M828 4591h0M1066 4490h0M813 4655h0M912 4635h0M844 4518h0M1124 4665h0M992 4661h0M995 4598h0M979 4644h0M1006 4679h0M819 4520h0M1087 4576h0M1153 4561h0M1076 4559h0M850 4575h0M1077 4586h0M804 4447h0M1041 4584h0M940 4598h0M1142 4646h0M1018 4736h0M1074 4508h0M967 4680h0M875 4532h0M961 4519h0M891 4554h0M1086 4581h0M854 4577h0M1027 4529h0M1122 4542h0M1026 4650h0M1122 4779h0M1129 4586h0M1040 4577h0M938 4575h0M876 4590h0M939 4664h0M829 4521h0M1034 4678h0M1110 4564h0M1033 4560h0M1151 4551h0M1145 4625h0M1085 4547h0M860 4588h0M1059 4653h0M1097 4566h0M1149 4634h0M872 4690h0M1152 4586h0M903 4596h0M910 4662h0M833 4576h0M888 4596h0M879 4496h0M921 4552h0M861 4478h0M1109 4597h0M941 4659h0M1106 4592h0M970 4672h0M992 4554h0M966 4472h0M1084 4571h0M865 4633h0M917 4565h0M925 4549h0M841 4527h0M896 4622h0M800 4662h0M1018 4662h0M1133 4754h0M1091 4711h0M929 4534h0M1147 4637h0M1016 4643h0M931 4625h0M983 4472h0M911 4576h0M1093 4579h0M1057 4522h0M1119 4641h0M824 4493h0M837 4594h0M866 4591h0M945 4519h0M997 4632h0M1052 4528h0M1118 4695h0M859 4563h0M1115 4546h0M964 4631h0M942 4675h0M1160 4675h0M1048 4691h0M1108 4588h0M1083 4587h0M992 4753h0M830 4621h0M839 4453h0M1057 4654h0M1094 4545h0M850 4562h0M1128 4551h0M892 4644h0M893 4585h0M964 4557h0M1040 4547h0M874 4532h0M1143 4723h0M1124 4577h0M1155 4662h0M933 4607h0M829 4499h0M1021 4543h0M1120 4532h0M1079 4566h0M1085 4627h0M1020 4596h0M874 4632h0M1083 4499h0M816 4601h0M1164 4651h0M1117 4666h0M1018 4513h0M1079 4470h0M1057 4649h0M945 4595h0M978 4684h0M902 4674h0M1150 4724h0M920 4617h0M1039 4605h0M1029 4614h0M1029 4497h0M1049 4660h0M1048 4545h0M963 4599h0M827 4631h0M1157 4632h0M1105 4539h0M1161 4722h0M947 4593h0M975 4631h0M1066 4640h0M1094 4678h0M974 4620h0M884 4685h0M1002 4605h0M1119 4681h0M965 4661h0M872 4541h0M880 4615h0M890 4590h0M890 4577h0M838 4631h0M916 4456h0M948 4539h0M856 4611h0M884 4617h0M1124 4585h0M1091 4676h0M906 4536h0M938 4568h0M1089 4611h0M930 4593h0M1009 4460h0M893 4629h0M995 4579h0M1027 4708h0M1166 4623h0M828 4570h0M912 4533h0M802 4511h0M887 4644h0M1045 4608h0M964 4650h0M1028 4591h0M941 4571h0M1059 4619h0M1129 4679h0M1034 4483h0M1062 4608h0M999 4583h0M986 4568h0M913 4550h0M833 4578h0M1031 4626h0M861 4667h0M804 4576h0M1078 4501h0M1004 4700h0M934 4610h0M992 4601h0M834 4521h0M1005 4641h0M1022 4684h0M1091 4589h0M1016 4608h0M972 4630h0M1103 4763h0M1060 4674h0M1107 4638h0M876 4519h0M827 4515h0M1129 4546h0M1014 4598h0M1029 4616h0M939 4711h0M1136 4674h0M929 4505h0M1058 4738h0M868 4637h0M866 4539h0M999 4559h0M940 4562h0M916 4597h0M1000 4520h0M882 4642h0M989 4592h0M906 4701h0M1097 4548h0M1134 4656h0M825 4596h0M845 4574h0M842 4492h0M1113 4612h0M989 4628h0M803 4611h0M937 4532h0M922 4552h0M983 4671h0M920 4619h0M995 4519h0M963 4675h0M828 4511h0M869 4645h0M1035 4576h0M982 4739h0M1152 4644h0M966 4644h0M882 4548h0M1090 4650h0M908 4646h0M926 4484h0M881 4453h0M832 4504h0M1120 4542h0M887 4584h0M1164 4626h0M1106 4657h0M855 4577h0M986 4589h0M814 4530h0M878 4525h0M877 4689h0M987 4740h0M815 4598h0M1030 4640h0M875 4771h0M1006 4600h0M1089 4642h0M1021 4603h0M994 4748h0M808 4494h0M975 4682h0M1157 4634h0M932 4569h0M1045 4677h0M1115 4650h0M944 4609h0M876 4584h0M912 4527h0M919 4525h0M1067 4765h0M972 4679h0M881 4595h0M1097 4612h0M804 4572h0M1115 4573h0M866 4574h0M1042 4564h0M862 4540h0M869 4569h0M956 4566h0M1079 4598h0M804 4476h0M926 4515h0M831 4631h0M1018 4769h0M962 4569h0M957 4615h0M1072 4678h0M943 4535h0M1084 4692h0M800 4639h0M1102 4560h0M1075 4611h0M847 4548h0M990 4599h0M1003 4605h0M1092 4645h0M846 4737h0M1151 4612h0M998 4543h0M994 4520h0M1063 4685h0M1083 4539h0M827 4689h0M923 4534h0M834 4529h0M1083 4642h0M871 4500h0M1101 4571h0M993 4481h0M984 4503h0M921 4610h0M863 4552h0M872 4590h0M1097 4731h0M1053 4622h0M1130 4582h0M868 4505h0M854 4657h0M877 4489h0M1156 4558h0M1083 4512h0M923 4548h0M859 4612h0M1012 4517h0M916 4676h0M839 4653h0M1162 4637h0M1127 4553h0M810 4484h0M1087 4571h0M812 4551h0M1053 4675h0M810 4608h0M1034 4761h0M1084 4646h0M819 4739h0M1106 4622h0M1090 4493h0M1073 4624h0M1105 4606h0M975 4623h0M1019 4669h0M882 4541h0M810 4650h0M802 4714h0M1041 4673h0M1121 4583h0M1029 4550h0M821 4613h0M878 4675h0M1039 4643h0M800 4559h0M1023 4610h0M918 4558h0M1139 4594h0M1045 4601h0M961 4471h0M819 4499h0M1079 4569h0M1007 4557h0M867 4576h0M838 4520h0M823 4665h0M964 4572h0M840 4563h0M1164 4623h0M1164 4584h0M964 4636h0M944 4718h0M888 4414h0M892 4563h0M1021 4588h0M838 4577h0M914 4593h0M836 4478h0M1031 4616h0M988 4560h0M1011 4563h0M1055 4580h0M1008 4644h0M879 4575h0M849 4547h0M1001 4541h0M1052 4655h0M841 4658h0M1057 4631h0M1018 4571h0M851 4571h0M869 4516h0M926 4557h0M907 4473h0M1052 4536h0M990 4660h0M877 4590h0M1147 4625h0M896 4525h0M944 4476h0M1086 4620h0M1023 4697h0M996 4610h0M945 4566h0M1066 4594h0M939 4563h0M811 4559h0M1138 4616h0M1033 4619h0M953 4571h0M857 4514h0M1107 4664h0M1160 4553h0M1108 4708h0M1139 4617h0M823 4690h0M1017 4644h0M930 4565h0M1021 4547h0M841 4658h0M834 4619h0M1000 4615h0M888 4505h0M1068 4718h0M1141 4664h0M863 4556h0M1012 4612h0M939 4553h0M830 4603h0M965 4546h0M1062 4672h0M924 4612h0M1128 4701h0M1004 4641h0M888 4670h0M927 4463h0M1160 4527h0M952 4550h0M880 4677h0M969 4618h0M970 4473h0M869 4612h0M1113 4550h0M945 4592h0M1091 4546h0M890 4568h0M971 4540h0M947 4559h0M991 4497h0M905 4598h0M933 4590h0M1090 4635h0M935 4701h0M893 4672h0M850 4485h0M970 4489h0M841 4575h0M1083 4549h0M1097 4672h0M1100 4612h0M1098 4604h0M921 4717h0M1005 4551h0M990 4595h0M884 4523h0M944 4801h0M1069 4578h0M1009 4671h0M829 4538h0M1067 4544h0M832 4577h0M913 4628h0M1124 4629h0M916 4543h0M895 4597h0M1048 4594h0M1155 4564h0M927 4691h0M922 4570h0M962 4630h0M805 4648h0M1132 4523h0M919 4571h0M852 4577h0M1169 4615h0M1114 4719h0M901 4632h0M1116 4520h0M872 4426h0M1135 4572h0M913 4603h0M886 4588h0M950 4575h0M910 4448h0M1026 4465h0M889 4613h0M1033 4532h0M1089 4515h0M1093 4670h0M885 4642h0M972 4698h0M912 4657h0M1023 4563h0M1012 4497h0M846 4544h0M1028 4733h0M1155 4535h0M827 4617h0M1103 4698h0M824 4522h0M861 4403h0M873 4551h0M918 4600h0M1162 4541h0M904 4552h0M962 4469h0M1104 4607h0M967 4626h0M1076 4658h0M1103 4483h0M1094 4668h0M1090 4571h0M1068 4655h0M856 4623h0M1107 4656h0M1024 4596h0M804 4517h0M1038 4601h0M956 4621h0M1122 4660h0M915 4630h0M1143 4587h0M823 4470h0M883 4684h0M1110 4701h0M1063 4611h0M819 4678h0M1045 4505h0M976 4577h0M935 4526h0M809 4508h0M1011 4659h0M819 4522h0M1168 4685h0M1082 4620h0M1167 4506h0M1111 4646h0M1011 4597h0M1140 4560h0M817 4549h0M1143 4608h0M1125 4547h0M958 4495h0M802 4589h0M832 4520h0M1087 4614h0M1132 4711h0M1122 4635h0M904 4500h0M1162 4633h0M1032 4506h0M815 4603h0M865 4577h0M897 4646h0M1084 4580h0M874 4454h0M851 4714h0M916 4497h0M846 4501h0M922 4566h0M1154 4544h0M1068 4538h0M953 4612h0M824 4595h0M969 4601h0M1004 4597h0M1010 4517h0M841 4582h0M988 4697h0M907 4591h0M995 4504h0M1015 4642h0M873 4630h0M1009 4673h0M1162 4791h0M1164 4600h0M1050 4946h0M1161 4892h0M1128 4833h0M1068 4909h0M1112 4702h0M1108 4796h0M1098 4898h0M1155 4727h0M1100 4896h0M1070 4553h0M1072 4758h0M1017 4749h0M1117 4719h0M1090 4790h0M1109 4753h0M1127 4594h0M1118 4751h0M1073 4705h0M1074 4671h0M1112 4763h0M1151 4812h0M1122 4817h0M1076 4692h0M1176 4885h0M1051 4814h0M1045 4887h0M1037 4854h0M1106 4714h0M1016 4705h0M1136 4740h0M1142 4788h0M1065 4768h0M1162 4874h0M1151 4798h0M1207 4992h0M1050 4651h0M1079 4809h0M1102 4702h0M1094 5012h0M1061 4705h0M1109 4848h0M1128 4675h0M1014 4918h0M1117 4667h0M1105 4822h0M1114 4809h0M1142 4628h0M1043 4746h0M1092 4792h0M1098 4817h0M1029 4783h0M1152 4628h0M1051 4674h0M1011 4548h0M1116 4714h0M1034 4875h0M1105 4736h0M1138 4658h0M1167 4765h0M1078 5008h0M1028 4904h0M1051 4684h0M1135 4495h0M1084 4727h0M1133 4719h0M1046 4720h0M1226 4841h0M1177 4917h0M1106 4570h0M1134 4611h0M1143 4819h0M1042 4700h0M1120 4458h0M1103 4540h0M1126 4752h0M1138 4762h0M1114 4903h0M1156 4788h0M1101 4859h0M1052 4896h0M1036 4695h0M1106 4865h0M1066 4711h0M1102 4752h0M1057 4740h0M1147 4769h0M1017 4926h0M1122 4867h0M1111 4925h0M1059 4605h0M1131 4657h0M1002 4783h0M1090 4637h0M1086 4986h0M1107 4876h0M1040 4708h0M1131 4718h0M1162 4819h0M1091 4748h0M1049 4769h0M1064 4728h0M1007 4737h0M1052 4686h0M1104 4883h0M1105 4863h0M1120 4580h0M1119 4586h0M1098 4946h0M1086 4892h0M1043 4889h0M1146 4811h0M1059 4416h0M1075 4691h0M1064 4764h0M1077 4943h0M1053 4990h0M1119 4702h0M1093 4729h0M1193 4786h0M1077 4672h0M1173 4840h0M1099 4516h0M1119 4813h0M1149 4716h0M1064 4577h0M1130 4733h0M1137 4730h0M1104 4719h0M1093 4667h0M1117 4610h0M1114 4629h0M1070 4792h0M1129 4794h0M1106 4750h0M1084 4665h0M1077 4707h0M1052 4786h0M1184 4738h0M1132 4749h0M1141 4823h0M1164 4609h0M1050 4826h0M1071 4969h0M1124 4819h0M1010 4578h0M1119 4764h0M1147 4687h0M1152 4824h0M1138 4927h0M1038 4994h0M1093 4932h0M1056 4857h0M1039 4870h0M1094 4792h0M1093 4779h0M1070 4982h0M1097 4651h0M1060 4829h0M1126 4930h0M1139 4708h0M1186 4686h0M1001 4928h0M1180 4889h0M1120 4842h0M1089 4774h0M1097 4793h0M1132 4976h0M1070 4817h0M1082 4688h0M1116 4798h0M1112 4718h0M1182 4592h0M1107 4738h0M1134 4871h0M1098 4703h0M1109 4769h0M1192 4982h0M1120 4548h0M1098 4652h0M1113 4824h0M1092 4832h0M1137 4792h0M1106 4601h0M1064 4841h0M1098 4603h0M1142 4791h0M1131 4684h0M1087 4747h0M1173 4763h0M1105 4832h0M1049 5005h0M1173 4740h0M1067 4938h0M1064 4680h0M1042 4714h0M1108 4794h0M1026 5013h0M1176 4853h0M1210 4986h0M1056 4643h0M1126 4992h0M1105 4796h0M1101 4723h0M1113 4924h0M1086 4772h0M1132 4939h0M1069 4661h0M1066 4847h0M1158 4740h0M1223 4691h0M1062 4581h0M1119 4645h0M1132 4874h0M1097 4939h0M1097 4869h0M1089 4700h0M1128 4596h0M1085 4604h0M1078 4810h0M1109 4629h0M1107 4580h0M1137 4982h0M1114 4688h0M1189 4630h0M1086 4695h0M1115 4870h0M1116 4671h0M1029 4803h0M1132 4837h0M1097 4843h0M1053 4635h0M1208 4620h0M1095 4808h0M1074 4665h0M1167 4821h0M1040 4937h0M1150 4903h0M1155 4779h0M1026 4651h0M1026 4938h0M1050 4981h0M1126 4758h0M1160 4602h0M1076 4832h0M1124 4671h0M1158 4918h0M1129 4794h0M1049 4520h0M1154 4665h0M1194 4901h0M1039 4722h0M1090 4849h0M1141 4971h0M1060 4766h0M1177 4750h0M1047 4993h0M1098 4652h0M1070 4754h0M1113 4677h0M1096 4917h0M1101 4800h0M1098 4543h0M1080 4818h0M1128 4717h0M1096 4508h0M1038 4979h0M1081 4831h0M1082 4721h0M1158 4794h0M1037 4634h0M1087 4706h0M1017 4767h0M1106 4937h0M1035 4603h0M1148 4831h0M1071 4589h0M1082 4606h0M1181 4812h0M1099 4662h0M1142 4984h0M1062 4877h0M1092 4860h0M1140 4878h0M1112 4664h0M1182 4817h0M1150 4623h0M1127 4942h0M1069 4824h0M1107 4820h0M1137 4783h0M1139 4670h0M1091 4680h0M1086 4880h0M1111 4918h0M973 5121h0M1083 4756h0M1103 4616h0M1086 4901h0M1056 4995h0M1109 4523h0M1140 4689h0M1064 4791h0M1117 4575h0M1086 4539h0M1098 4579h0M1071 4898h0M1036 4682h0M1174 4878h0M1039 4883h0M1119 4628h0M1062 4677h0M1087 4761h0M1101 4576h0M1148 4989h0M1120 4655h0M1102 4702h0M1060 4922h0M1112 4945h0M1085 4898h0M1115 4874h0M1158 4716h0M1095 4511h0M1169 4766h0M1166 4940h0M1013 4870h0M1102 4824h0M1090 4682h0M1170 4691h0M1164 4884h0M1019 4656h0M1172 4903h0M1190 4726h0M1106 4854h0M1148 4690h0M1076 4631h0M1049 4801h0M1134 4522h0M1085 4810h0M1066 4726h0M1088 4672h0M1207 4798h0M1146 4817h0M1128 4555h0M980 4727h0M1132 4750h0M1041 4319h0M1113 4728h0M1126 4883h0M1092 4883h0M1022 4559h0M1150 4568h0M1135 5069h0M1104 4648h0M1184 4969h0M1041 4627h0M1065 4732h0M1146 4539h0M1109 4519h0M1016 4319h0M1118 4667h0M1039 4764h0M1125 4798h0M1073 4768h0M1062 4622h0M1154 4697h0M1057 4574h0M1019 4816h0M1152 4621h0M1098 4892h0M1117 4840h0M1186 4649h0M1086 4844h0M1179 4767h0M1062 4801h0M1090 4586h0M1076 4438h0M1059 4688h0M1022 4613h0M1090 4579h0M1018 4649h0M1147 4690h0M1055 4697h0M1066 4978h0M995 4736h0M1084 4735h0M1119 4440h0M1104 4747h0M1016 4680h0M1109 4714h0M1134 4656h0M1010 4691h0M1054 4537h0M1135 4631h0M1096 4965h0M1127 4705h0M1119 4824h0M1182 4817h0M1125 4824h0M1086 4785h0M1079 4695h0M1148 4640h0M1084 5094h0M1078 5039h0M1098 4827h0M1013 4637h0M1085 4792h0M1006 4827h0M1095 5051h0M1095 4696h0M1077 4807h0M1090 4739h0M1093 4755h0M1187 4681h0M1077 4681h0M1124 4934h0M1073 5022h0M1096 4885h0M769 4919h0M862 4720h0M844 4575h0M731 4814h0M1183 4684h0M950 4735h0M1061 4747h0M927 5045h0M966 4503h0M825 4738h0M966 4593h0M896 4949h0M943 4361h0M1004 4402h0M1037 4564h0M1134 4776h0M732 4728h0M701 4537h0M1046 4680h0M782 4602h0M863 4729h0M1119 4773h0M684 4410h0M981 4970h0M802 4903h0M877 4768h0M1036 4552h0M823 4600h0M953 4801h0M883 4603h0M778 4606h0M1156 4816h0M760 4325h0M1176 4645h0M1020 4519h0M934 4815h0M883 4782h0M835 4448h0M808 4774h0M1020 4699h0M832 4531h0M985 5026h0M798 4553h0M875 4913h0M873 4675h0M891 4765h0M746 4779h0M1042 4856h0M845 4831h0M890 4680h0M993 4861h0M968 4549h0M874 4859h0M1070 4698h0M1061 4809h0M957 4686h0M874 4764h0M1035 4775h0M882 4550h0M727 4576h0M988 4979h0M977 4648h0M895 4539h0M964 4988h0M829 4712h0M783 4490h0M777 4771h0M894 4784h0M915 4627h0M844 4649h0M967 4679h0M885 4769h0M812 4842h0M920 4680h0M983 4631h0M928 4562h0M949 4575h0M944 4685h0M640 4720h0M794 4677h0M960 4604h0M890 4857h0M973 4638h0M1030 4429h0M761 4612h0M878 4929h0M938 4580h0M882 4747h0M1208 4887h0M881 4747h0M1023 4730h0M885 4635h0M965 4624h0M970 4660h0M803 4781h0M975 4741h0M794 4754h0M940 4797h0M695 4601h0M844 4354h0M1054 4457h0M722 4755h0M1002 4868h0M953 4614h0M962 4481h0M950 4775h0M834 4799h0M977 4902h0M898 4357h0M1057 4633h0M982 4638h0M936 4659h0M949 4702h0M1124 4712h0M1136 4476h0M802 4471h0M703 4651h0M897 4642h0M1090 4629h0M795 4458h0M971 4818h0M889 4751h0M883 4785h0M887 4654h0M981 4969h0M1009 4627h0M868 4640h0M811 4955h0M653 4525h0M722 4594h0M882 4987h0M923 4890h0M850 4876h0M1149 4872h0M1086 4749h0M871 4812h0M811 4765h0M879 4612h0M761 4699h0M714 4666h0M894 4552h0M853 4412h0M996 4718h0M787 4423h0M867 4901h0M956 4691h0M1003 4606h0M790 4467h0M755 4636h0M865 4404h0M804 4521h0M975 4737h0M970 4674h0M665 4821h0M928 4719h0M917 4651h0M1133 4477h0M817 4884h0M998 4756h0M884 4819h0M892 4712h0M946 4742h0M800 4639h0M978 4486h0M793 4915h0M765 4910h0M801 4881h0M883 4721h0M862 4814h0M1099 4926h0M940 4781h0M771 4824h0M977 4657h0M789 4483h0M951 4675h0M947 4760h0M960 4727h0M749 4641h0M1022 4494h0M887 4333h0M966 4647h0M736 4803h0M678 4775h0M852 4733h0M918 4956h0M732 4724h0M1002 4675h0M758 4960h0M1016 4445h0M1075 4903h0M924 4843h0M869 4487h0M856 4742h0M829 4652h0M1118 4491h0M779 5073h0M833 4822h0M784 4796h0M744 4608h0M911 4993h0M679 4823h0M732 4744h0M985 4753h0M935 4531h0M820 4700h0M987 4710h0M685 4866h0M833 4775h0M630 4572h0M981 4970h0M735 4704h0M686 4471h0M982 4379h0M678 4534h0M885 4542h0M671 4576h0M734 4867h0M914 4873h0M866 4698h0M790 4204h0M847 4978h0M886 4778h0M913 4780h0M747 4837h0M930 4562h0M1040 4740h0M820 4573h0M814 4555h0M734 4528h0M1103 4894h0M1050 4779h0M941 4506h0M1021 4733h0M883 4414h0M790 4481h0M828 4929h0M598 4460h0M866 4351h0M776 4702h0M858 4799h0M1030 4684h0M1021 4849h0M862 4674h0M784 4527h0M861 4608h0M1020 4632h0M767 4607h0M686 4678h0M756 4874h0M1032 4762h0M1027 4788h0M1053 4292h0M943 4558h0M913 4505h0M919 4848h0M729 4693h0M850 5025h0M888 4845h0M884 4830h0M950 4816h0M880 4630h0M1001 4765h0M836 4917h0M1169 4487h0M882 4618h0M896 4568h0M747 4740h0M558 4797h0M750 4654h0M838 4754h0M680 4710h0M1052 4683h0M894 4396h0M787 4528h0M1025 4720h0M1110 4333h0M814 4502h0M955 4737h0M708 4917h0M829 4756h0M954 4673h0M723 4721h0M1318 4976h0M1056 4576h0M926 4812h0M923 4477h0M1005 4634h0M970 4902h0M903 4798h0M849 4557h0M795 4725h0M972 4776h0M984 4849h0M768 4819h0M930 4515h0M820 4732h0M802 4676h0M804 4561h0M1032 4819h0M878 4700h0M958 4691h0M785 4854h0M941 4443h0M643 4483h0M750 4811h0M866 4744h0M685 4614h0M1205 4415h0M826 4678h0M818 4552h0M846 4711h0M765 4956h0M897 4685h0M1101 4859h0M867 4529h0M917 4729h0M927 4504h0M946 4465h0M998 4701h0M700 4624h0M971 4614h0M760 4636h0M789 4559h0M806 4505h0M942 4718h0M794 4786h0M1032 4874h0M973 4764h0M894 4566h0M1017 4538h0M842 4725h0M1096 4746h0M818 4632h0M924 4756h0M910 4634h0M934 4657h0M851 4688h0M737 4805h0M959 4579h0M719 5068h0M819 4642h0M885 4683h0M707 4773h0M918 4677h0M789 4643h0M1007 4725h0M1014 4932h0M1124 4766h0M850 4456h0M983 4921h0M974 4720h0M973 4685h0M891 4714h0M810 4738h0M898 4621h0M868 4901h0M1012 4398h0M812 4610h0M1039 4958h0M817 4695h0M942 4876h0M868 4558h0M956 4654h0M839 4551h0M1010 4632h0M1005 4768h0M851 4519h0M1054 4743h0M758 4671h0M985 4572h0M893 4915h0M1010 4402h0M943 4972h0M805 4843h0M978 4822h0M802 4874h0M836 4669h0M767 4700h0M961 4545h0M1071 4888h0M1172 4755h0M936 4771h0M792 4821h0M1004 4495h0M1003 4557h0M912 4660h0M836 4970h0M884 4694h0M972 4727h0M974 5001h0M1043 4907h0M956 4712h0M751 4919h0M773 4953h0M966 4799h0M634 5032h0M931 4769h0M1086 4735h0M1111 4897h0M897 4837h0M1008 4788h0M937 4728h0M778 4486h0M1004 4840h0M881 4832h0M789 4694h0M857 4572h0M958 4732h0M672 4690h0M829 4963h0M1153 4767h0M886 4696h0M772 4663h0M999 4980h0M569 4699h0M624 4649h0M789 4748h0M892 4735h0M943 4873h0M974 4437h0M923 4527h0M886 4675h0M995 4849h0M856 4655h0M949 4963h0M916 4872h0M862 4720h0M972 4738h0M889 4822h0M791 4785h0M949 4379h0M707 4912h0M736 4948h0M979 4862h0M1023 4703h0M856 4608h0M929 4523h0M1032 4714h0M865 4492h0M784 4564h0M835 4754h0M887 5033h0M1061 4699h0M1117 4633h0M935 4756h0M746 4810h0M817 5066h0M1018 4564h0M865 4663h0M1068 4917h0M879 4439h0M756 4911h0M856 4524h0M761 4912h0M1097 4577h0M885 4833h0M920 4790h0M927 4649h0M832 4535h0M841 4534h0M945 4721h0M866 4676h0M858 4869h0M1117 4416h0M1061 4798h0M954 4667h0M740 4805h0M1084 4565h0M898 4777h0M744 4550h0M1218 4633h0M911 4545h0M790 4713h0M920 5070h0M1095 4508h0M852 4650h0M906 4741h0M1022 4413h0M1005 4902h0M921 4944h0M1009 4673h0M873 4831h0M813 4553h0M855 4607h0M779 4681h0M848 4763h0M887 4517h0M1191 4893h0M880 4734h0M907 4777h0M636 4726h0M1053 5090h0M911 4750h0M1131 4708h0M1034 4782h0M937 4656h0M931 4839h0M665 4678h0M886 4871h0M863 4493h0M947 4922h0M851 4681h0M849 4824h0M887 4794h0M786 4608h0M940 4600h0M914 4679h0M922 4572h0M764 4542h0M919 4752h0M699 4666h0M915 4856h0M1009 4526h0M866 4317h0M850 4574h0M1168 4738h0M958 4704h0M950 4767h0M948 4816h0M978 4693h0M752 4534h0M929 4976h0M891 4367h0M1192 4656h0M832 4494h0M958 4943h0M805 4769h0M1061 4754h0M985 4706h0M711 4588h0M635 4606h0M977 4546h0M1003 4742h0M995 4620h0M1018 4873h0M784 4857h0M1121 4738h0M854 4765h0M720 4492h0M905 4732h0M850 4693h0M841 4880h0M670 4724h0M756 4437h0M922 4552h0M934 4656h0M803 4733h0M857 4667h0M875 4372h0M1061 4849h0M950 4826h0M927 4584h0M827 4646h0M650 4756h0M1052 4671h0M951 4946h0M1074 4952h0M929 4740h0M1107 4742h0M1257 4591h0M925 4627h0M980 4580h0M833 4780h0M993 4882h0M859 4337h0M877 4467h0M821 4718h0M975 4767h0M981 4646h0M861 4904h0M790 4640h0M845 4675h0M853 4773h0M909 4865h0M695 4683h0M924 4869h0M982 4710h0M803 4810h0M818 4749h0M969 4508h0M1048 4765h0M814 4519h0M1004 4706h0M1185 4749h0M675 4387h0M1015 4849h0M769 4901h0M978 4745h0M1016 4850h0M673 4708h0M699 4943h0M642 4296h0M1086 4774h0M1061 5118h0M1115 4725h0M941 4699h0M1014 4763h0M790 4806h0M951 4768h0M977 4609h0M812 4717h0M1165 4671h0M838 4722h0M1038 4922h0M892 4441h0M859 4821h0M744 5024h0M746 4877h0M921 4652h0M753 4962h0M936 4896h0M903 4625h0M864 4618h0M834 4851h0M1079 4423h0M968 4567h0M655 4926h0M813 4845h0M905 4718h0M654 4658h0M722 4728h0M893 4405h0M876 4718h0M802 4905h0M1006 4933h0M1118 4542h0M1077 4904h0M772 4551h0M769 4786h0M1020 4946h0M829 4631h0M908 4665h0M718 4592h0M1028 4892h0M959 4928h0M955 4604h0M779 4541h0M1047 4364h0M1028 4868h0M1011 4758h0M832 4350h0M755 4317h0M965 4735h0M1051 4752h0M946 4686h0M1006 4822h0M1077 4546h0M802 4696h0M969 4865h0M851 4649h0M1158 4548h0M864 4401h0M932 4646h0M844 4898h0M754 4834h0M899 4754h0M846 4622h0M968 4806h0M741 4737h0M734 4653h0M750 4763h0M1106 4915h0M1063 4804h0M887 4751h0M806 4478h0M795 4587h0M835 4686h0M928 4837h0M1072 4806h0M985 4910h0M956 4790h0M844 4594h0M1122 4780h0M989 4633h0M1211 4699h0M1103 4730h0M997 4847h0M926 4908h0M717 4907h0M980 4909h0M1099 4941h0M829 4849h0M805 5036h0M804 4406h0M902 4644h0M890 4620h0M845 4790h0M832 4673h0M858 5138h0M753 4722h0M997 4637h0M637 4761h0M924 4414h0M839 4706h0M824 4459h0M733 4229h0M897 4599h0M980 4128h0M557 4125h0M645 4326h0M1118 4925h0M790 4216h0M1135 4524h0M1193 4619h0M720 4543h0M546 4297h0M989 4572h0M645 5061h0M669 4524h0M1110 4458h0M857 4475h0M1177 4701h0M880 5090h0M629 4410h0M869 4238h0M1202 4962h0M605 5002h0M562 4414h0M996 4573h0M1216 4303h0M569 4247h0M1034 4354h0M987 5057h0M726 4185h0M710 4892h0M878 4779h0M1117 4622h0M832 4161h0M528 4847h0M964 4289h0M1049 4618h0M713 4953h0M632 4968h0M943 4994h0M1056 4140h0M743 4532h0M798 4915h0M799 4936h0M1025 4804h0M583 4628h0M1166 4965h0M546 4412h0M966 4150h0M588 4764h0M935 4355h0M791 4135h0M693 4482h0M1222 4678h0M960 4341h0M942 4672h0M1225 4426h0M971 4217h0M900 4106h0M523 4542h0M710 4135h0M921 4928h0M941 4985h0M860 4569h0M1036 4928h0M1183 4557h0M1094 4159h0M856 4269h0M1089 4197h0M878 4469h0M774 4181h0M606 4128h0M637 4878h0M1005 4819h0M793 4867h0M756 4546h0M959 5075h0M1069 4492h0M881 4199h0M629 4115h0M738 4158h0M935 4415h0M581 4237h0M1136 4351h0M1199 4841h0M1025 4761h0M1135 4961h0M623 4861h0M765 4897h0M729 4395h0M764 4367h0M661 4772h0M1206 5086h0M657 4822h0M1162 4680h0M593 4918h0M1046 4635h0M1078 4417h0M661 4499h0M523 4802h0M1025 4429h0M1217 4874h0M603 5096h0M674 4383h0M806 4871h0M1068 4669h0M1203 4590h0M1089 4847h0M648 4582h0M989 5052h0M795 5077h0M597 4444h0M888 4744h0M665 4134h0M1161 4381h0M588 4272h0M687 4254h0M780 5078h0M800 4772h0M1156 4443h0M1175 4984h0M1204 4991h0M572 5020h0M1088 4449h0M1115 4416h0M814 5029h0M821 4987h0M1104 4644h0M1138 5005h0M1104 4318h0M1112 4758h0M917 4632h0M999 4391h0M1056 4191h0M1159 4114h0M642 4575h0M1170 4636h0M1229 5005h0M900 4609h0M946 4600h0M714 4342h0M1095 4478h0M1126 4885h0M1021 4834h0M867 4717h0M1072 4561h0M1030 4156h0M1235 4795h0M822 4665h0M672 4830h0M1151 5080h0M1121 4365h0M792 4813h0M772 4852h0M1190 4999h0M1097 4795h0M893 4722h0M1165 4798h0M1247 4706h0M818 4919h0M871 4582h0M744 4231h0M769 4471h0M581 4519h0M1130 4829h0M1213 4310h0M549 4277h0M702 4277h0M659 4410h0M866 4199h0M1186 4418h0M557 4680h0M722 4359h0M913 4404h0M808 4468h0M1241 4687h0M1019 4700h0M1002 4864h0M528 4667h0M840 4407h0M649 4411h0M819 4333h0M764 5084h0M948 5096h0M939 4583h0M676 4149h0M1184 4104h0M1075 4922h0M775 4368h0M780 4534h0M679 4699h0M1027 4375h0M1024 4254h0M721 4830h0M1056 4467h0M809 4998h0M1027 4597h0M1146 4861h0M631 4573h0M1238 4138h0" stroke="#000" stroke-width="8" stroke-linecap="square" fill="none" stroke-opacity="0.5"/>
<path transform="scale(.1)" d="M631 4788h0M626 4353h0M574 4517h0M654 4351h0M809 4469h0M619 4990h0M807 4396h0M772 4606h0M575 4355h0M599 4902h0M708 4786h0M699 5024h0M613 4746h0M641 5030h0M573 4369h0M824 4408h0M773 4373h0M611 4749h0M609 4900h0M791 4545h0M565 4542h0M642 4829h0M584 4346h0M749 4902h0M800 4500h0M775 4957h0M643 4799h0M676 4353h0M720 4810h0M772 4663h0M718 4750h0M559 4529h0M719 4845h0M801 4402h0M687 4360h0M598 4897h0M702 4844h0M710 4833h0M719 4700h0M739 4916h0M584 4631h0M762 4672h0M732 4747h0M585 4594h0M653 4328h0M735 4947h0M703 4798h0M573 4483h0M646 4804h0M755 4333h0M747 4929h0M809 4488h0M591 4377h0M768 4972h0M769 4661h0M698 4758h0M583 4356h0M693 5031h0M636 5032h0M616 4906h0M612 4932h0M684 5026h0M562 4353h0M784 4511h0M729 4887h0M559 4623h0M618 4867h0M786 4663h0M653 4366h0M578 4413h0M723 4741h0M604 4701h0M782 4606h0M766 4953h0M826 4485h0M606 4935h0M786 4442h0M640 5024h0M827 4452h0M788 4663h0M827 4469h0M614 4712h0M573 4659h0M598 4340h0M580 4371h0M619 4847h0M595 4361h0M643 4853h0M620 4765h0M776 4573h0M700 4836h0M768 4691h0M687 5056h0M593 4343h0M570 4466h0M605 4895h0M590 4925h0M609 4901h0M601 4940h0M797 4423h0M744 5011h0M627 4778h0M657 5026h0M579 4389h0M753 4706h0M772 4581h0M634 4751h0M606 4970h0M585 4605h0M780 4640h0M580 4485h0M768 4919h0M802 4388h0M768 4691h0M581 4619h0M599 4616h0M750 5031h0M625 4725h0M668 5034h0M628 4330h0M819 4458h0M756 4689h0M705 5052h0M617 4822h0M759 4920h0M770 4671h0M771 4994h0M674 4361h0M612 4366h0M632 4819h0M631 4780h0M686 4839h0M815 4479h0M617 4697h0M602 4921h0M717 4757h0M794 4614h0M567 4377h0M749 4726h0M596 4915h0M796 4455h0M635 4802h0M581 4963h0M594 4357h0M618 4786h0M706 4810h0M809 4531h0M764 4627h0M600 4960h0M605 4341h0M781 4656h0M797 4405h0M797 4469h0M769 4348h0M695 4840h0M760 4657h0M774 4605h0M601 4976h0M616 4721h0M572 4623h0M625 4356h0M821 4468h0M762 4678h0M674 5063h0M739 4980h0M734 5005h0M753 4916h0M805 4434h0M658 5034h0M629 5038h0M587 4532h0M577 4357h0M696 4770h0M598 4686h0M747 4701h0M567 4436h0M580 4580h0M804 4401h0M619 4948h0M792 4362h0M715 5006h0M822 4548h0M667 5026h0M791 4372h0M734 4907h0M587 4578h0M558 4435h0M571 4439h0M612 4973h0M767 4925h0M597 4724h0M713 4849h0M727 4339h0M796 4499h0M568 4534h0M724 4870h0M754 4639h0M644 5050h0M604 4718h0M639 4339h0M583 4638h0M695 5043h0M659 5031h0M622 4753h0M735 5031h0M626 5018h0M828 4515h0M763 4346h0M633 4363h0M622 4348h0M740 4729h0M787 4369h0M736 4674h0M709 4842h0M577 4613h0M796 4583h0M751 4671h0M670 4362h0M577 4565h0M636 4884h0M818 4507h0M754 4882h0M562 4529h0M724 4740h0M752 4899h0M598 4920h0M569 4457h0M778 4980h0M631 4764h0M589 4496h0M807 4453h0M736 4343h0M745 4919h0M656 4319h0M760 4663h0M792 4637h0M800 4528h0M683 5058h0M659 4821h0M575 4670h0M762 4372h0M583 4401h0M687 4813h0M799 4584h0M609 4711h0M740 4980h0M822 4544h0M622 4855h0M819 4478h0M551 4444h0M686 4358h0M602 4920h0M594 4563h0M798 4530h0M796 4557h0M739 5030h0M794 4639h0M800 4589h0M785 4571h0M713 4756h0M578 4368h0M572 4350h0M770 4641h0M726 4768h0M627 4923h0M783 4590h0M594 4916h0M692 4828h0M569 4392h0M577 4640h0M720 4861h0M792 4656h0M551 4468h0M603 4919h0M672 5057h0M649 5048h0M546 4415h0M751 4887h0M741 4732h0M580 4433h0M621 4357h0M639 4358h0M569 4494h0M626 4858h0M587 4461h0M571 4656h0M789 4347h0M743 4717h0M594 4682h0M771 4988h0M812 4428h0M750 5028h0M592 4360h0M614 4806h0M760 4709h0M738 4357h0M679 5047h0M741 5005h0M606 4913h0M697 4330h0M795 4415h0M554 4498h0M737 4348h0M583 4970h0M569 4631h0M578 4421h0M709 4826h0M765 4976h0M748 4897h0M749 4903h0M627 4857h0M584 4583h0M794 4463h0M739 4347h0M632 4895h0M782 4611h0M568 4616h0M765 4996h0M733 4358h0M578 4357h0M623 4760h0M728 4754h0M792 4672h0M696 4775h0M739 4742h0M633 4875h0M684 4844h0M642 4335h0M643 4347h0M801 4372h0M731 5027h0M798 4489h0M824 4476h0M780 4647h0M691 4791h0M579 4446h0M720 4777h0M647 4825h0M712 4761h0M575 4394h0M774 4930h0M699 5036h0M761 4627h0M806 4459h0M715 4739h0M762 4989h0M696 4786h0M574 4583h0M797 4584h0M617 4898h0M578 4536h0M609 4467h0M760 4690h0M636 4875h0M686 5047h0M577 4449h0M730 4719h0M813 4507h0M598 4984h0M576 4559h0M616 4333h0M584 4372h0M554 4577h0M731 4366h0M606 4725h0M725 4859h0M760 4671h0M720 4744h0M767 4975h0M711 4849h0M725 4749h0M575 4522h0M816 4386h0M621 4743h0M702 4821h0M701 4809h0M731 4873h0M698 5016h0M758 4694h0M806 4467h0M768 4350h0M563 4518h0M789 4364h0M629 4795h0M716 4872h0M823 4412h0M587 4397h0M619 4891h0M575 4371h0M751 5023h0M735 5036h0M538 4489h0M657 4847h0M614 4880h0M609 4945h0M775 4418h0M626 5024h0M597 4934h0M790 4494h0M567 4579h0M668 5040h0M614 4727h0M793 4490h0M579 4422h0M764 4935h0M705 4771h0M821 4460h0M742 4978h0M613 4768h0M585 4505h0M743 4898h0M568 4464h0M699 4333h0M673 4353h0M608 4348h0M611 4834h0M768 4673h0M629 5022h0M786 4947h0M622 4983h0M762 4952h0M638 5030h0M772 4974h0M776 4354h0M749 5035h0M615 4342h0M570 4440h0M606 4934h0M760 4941h0M805 4532h0M801 4559h0M686 4845h0M710 5021h0M764 4909h0M808 4617h0M557 4575h0M721 5030h0M746 4718h0M563 4434h0M602 4365h0M710 4822h0M569 4452h0M792 4651h0M646 4801h0M626 4889h0M744 4897h0M798 4405h0M596 4716h0M788 4589h0M623 4849h0M687 5024h0M630 4760h0M784 4347h0M565 4493h0M629 4879h0M717 4861h0M612 4896h0M604 5003h0M741 4719h0M631 4856h0M556 4557h0M553 4557h0M794 4641h0M730 5032h0M808 4603h0M800 4590h0M637 4836h0M606 4723h0M550 4491h0M732 4363h0M609 4875h0M630 4345h0M793 4572h0M741 4350h0M742 4717h0M606 4697h0M549 4556h0M756 4669h0M709 4823h0M592 4705h0M584 4622h0M640 5012h0M697 4815h0M768 4942h0M593 4736h0M724 5019h0M594 4717h0M774 4605h0M793 4567h0M801 4420h0M773 4628h0M593 4979h0M601 4702h0M739 4983h0M793 4515h0M597 4360h0M717 4884h0M777 4343h0M720 4347h0M755 4908h0M805 4378h0M718 4867h0M802 4356h0M710 4353h0M721 4742h0M610 4666h0M677 4353h0M713 4799h0M793 4364h0M558 4380h0M591 4889h0M662 5028h0M603 4708h0M586 4473h0M707 4334h0M802 4370h0M559 4537h0M734 4869h0M758 4997h0M771 4360h0M623 4887h0M573 4399h0M579 4575h0M569 4420h0M610 4359h0M716 5034h0M712 4352h0M571 4463h0M654 5040h0M757 4701h0M797 4541h0M697 5031h0M618 4344h0M787 4519h0M639 5021h0M720 5006h0M654 4776h0M610 4338h0M587 4474h0M721 4342h0M716 4859h0M666 4345h0M799 4553h0M679 5028h0M597 4666h0M830 4463h0M761 4690h0M807 4530h0M582 4614h0M781 4361h0M707 5038h0M641 4842h0M804 4538h0M792 4574h0M585 4660h0M618 4348h0M628 5010h0M612 4343h0M567 4358h0M575 4646h0M784 4652h0M714 4759h0M572 4503h0M594 4381h0M585 4616h0M819 4482h0M586 4665h0M625 4798h0M720 4338h0M804 4497h0M790 4353h0M787 4541h0M639 4872h0M562 4479h0M588 4974h0M589 4891h0M746 4894h0M618 4833h0M576 4411h0M684 5041h0M705 4357h0M800 4463h0M568 4641h0M601 4698h0M680 5033h0M739 4749h0M772 4355h0M789 4346h0M573 4413h0M751 4921h0M798 4468h0M810 4484h0M564 4474h0M800 4457h0M561 4555h0M617 4997h0M736 4876h0M675 5035h0M700 4343h0M604 4350h0M563 4482h0M579 4610h0M776 4623h0M684 5047h0M614 4352h0M822 4548h0M789 4534h0M632 4340h0M787 4541h0M693 5050h0M588 4924h0M628 4773h0M803 4402h0M708 5043h0M792 4395h0M597 4667h0M635 4779h0M582 4445h0M755 4720h0M679 4340h0M797 4458h0M690 4362h0M707 4781h0M577 4367h0M827 4596h0M748 4686h0M579 4378h0M596 4929h0M778 4362h0M787 4626h0M650 4349h0M644 4357h0M592 4971h0M635 4359h0M680 4356h0M750 4745h0M596 4710h0M694 5040h0M763 4678h0M784 4540h0M758 4974h0M629 4902h0M684 4838h0M626 4774h0M775 4945h0M799 4373h0M564 4530h0M605 4969h0M721 4853h0M588 4416h0M689 4789h0M706 4863h0M565 4576h0M751 4354h0M613 4741h0M684 5025h0M701 4785h0M723 4840h0M576 4540h0M567 4455h0M631 5027h0M578 4403h0M712 4785h0M738 4894h0M602 4697h0M613 4909h0M802 4526h0M712 4806h0M635 4870h0M614 4755h0M602 4890h0M559 4526h0M747 4881h0M784 4573h0M639 4814h0M568 4394h0M616 4871h0M588 4347h0M601 4645h0M633 4792h0M591 4445h0M761 4689h0M814 4450h0M571 4439h0M814 4387h0M712 4855h0M569 4472h0M751 4943h0M649 4854h0M735 4711h0M630 4782h0M700 4861h0M590 4635h0M777 4915h0M558 4497h0M797 4581h0M800 4501h0M634 4776h0M739 5002h0M756 4933h0M736 4707h0M706 5003h0M671 5039h0M615 5009h0M752 4929h0M715 4334h0M726 4754h0M735 4707h0M592 4922h0M780 4353h0M575 4353h0M630 4801h0M793 4430h0M644 4834h0M724 5045h0M723 4737h0M702 4827h0M564 4457h0M608 4961h0M782 4596h0M755 4950h0M572 4408h0M715 4813h0M688 4353h0M609 4728h0M619 4702h0M737 4724h0M577 4482h0M780 4649h0M735 5013h0M673 5042h0M562 4436h0M640 5056h0M793 4513h0M628 4795h0M633 4896h0M628 4336h0M775 4963h0M605 4914h0M796 4362h0M638 4860h0M733 4740h0M604 4392h0M699 4830h0M730 5008h0M644 4886h0M681 4333h0M618 5015h0M623 4792h0M705 4834h0M712 4773h0M806 4398h0M782 4949h0M599 4972h0M711 4836h0M772 4964h0M596 4617h0M790 4359h0M589 4550h0M774 4971h0M570 4531h0M592 4372h0M615 4334h0M585 4355h0M679 4329h0M758 4704h0M795 4533h0M575 4508h0M609 4993h0M701 4812h0M788 4543h0M714 4846h0M770 4376h0M810 4443h0M655 4351h0M569 4546h0M734 4714h0M755 4902h0M788 4360h0M567 4363h0M633 5003h0M803 4497h0M551 4521h0M595 4950h0M770 4608h0M614 4758h0M724 5023h0M763 5017h0M596 4721h0M585 4980h0M579 4620h0M672 4339h0M618 4841h0M674 4347h0M738 4743h0M740 4891h0M706 5036h0M740 4731h0M729 4345h0M587 4488h0M560 4534h0M612 5002h0M559 4495h0M755 4881h0M777 4637h0M672 4349h0M600 4929h0M808 4527h0M560 4557h0M773 4683h0M803 4435h0M579 4356h0M731 4848h0M602 4721h0M598 4942h0M654 4342h0M748 4697h0M582 4561h0M641 4825h0M583 4566h0M792 4337h0M796 4527h0M677 5047h0M698 5050h0M788 4409h0M794 4531h0M807 4456h0M637 4801h0M763 4995h0M764 4936h0M614 4963h0M603 4730h0M639 4357h0M676 4358h0M766 4348h0M744 5014h0M742 4921h0M763 4912h0M801 4407h0M551 4487h0M611 4701h0M571 4528h0M729 4742h0M726 4767h0M619 4880h0M773 4630h0M818 4543h0M813 4483h0M669 4350h0M567 4596h0M781 4912h0M586 4452h0M624 4701h0M573 4517h0M595 4363h0M574 4579h0M736 4357h0M622 4860h0M802 4512h0M753 4941h0M636 5037h0M776 4921h0M660 5030h0M799 4429h0M633 4750h0M820 4534h0M699 5068h0M657 4771h0M633 4716h0M793 4429h0M611 4976h0M628 4744h0M587 4456h0M794 4479h0M596 4675h0M619 4903h0M665 4346h0M587 4942h0M760 4695h0M709 4346h0M589 4626h0M778 4574h0M605 4935h0M614 4753h0M735 4752h0M799 4551h0M582 4592h0M786 4374h0M569 4467h0M776 4362h0M806 4520h0M580 4427h0M588 4685h0M765 4988h0M692 5040h0M642 4783h0M585 4350h0M602 4877h0M595 4668h0M778 4541h0M705 4822h0M780 4692h0M748 4888h0M758 4730h0M732 4879h0M715 4884h0M810 4549h0M747 4989h0M703 4352h0M573 4386h0M806 4479h0M737 4732h0M545 4622h0M786 4677h0M642 4811h0M606 4687h0M607 4871h0M743 4909h0M633 5007h0M703 5044h0M653 4859h0M675 4362h0M717 4877h0M564 4467h0M573 4450h0M642 4792h0M698 4803h0M807 4596h0M556 4445h0M701 4768h0M636 4789h0M718 4824h0M596 4664h0M647 4851h0M594 4355h0M688 4816h0M582 4556h0M739 4714h0M587 4612h0M601 4959h0M651 4785h0M803 4409h0M582 4531h0M768 4991h0M793 4529h0M604 4631h0M604 4883h0M558 4638h0M577 4429h0M608 5005h0M768 4973h0M648 5013h0M762 4361h0M613 4764h0M796 4558h0M815 4469h0M611 4351h0M786 4366h0M770 4913h0M566 4553h0M785 4401h0M604 4661h0M809 4406h0M597 4637h0M740 5045h0M604 4706h0M788 4525h0M633 4802h0M750 4915h0M604 4915h0M767 4681h0M783 4640h0M770 4944h0M562 4403h0M574 4530h0M800 4469h0M800 4446h0M814 4385h0M599 4677h0M555 4348h0M789 4399h0M623 4811h0M784 4347h0M789 4352h0M595 4758h0M606 4978h0M754 4946h0M743 4718h0M748 4368h0M742 5011h0M572 4386h0M774 4706h0M629 4862h0M589 4620h0M742 4888h0M737 5015h0M672 5046h0M701 4834h0M764 4942h0M578 4376h0M637 4866h0M767 4970h0M654 4357h0M586 4397h0M590 4904h0M710 4760h0M803 4546h0M773 4650h0M746 4671h0M593 4728h0M639 4341h0M613 4720h0M784 4640h0M808 4414h0M786 4368h0M596 4442h0M635 4850h0M640 4858h0M704 4374h0M567 4618h0M614 4959h0M584 4415h0M573 4449h0M625 4953h0M580 4385h0M759 5016h0M590 4669h0M722 4750h0M769 4702h0M757 4944h0M571 4509h0M714 4777h0M698 4841h0M786 4970h0M611 4721h0M594 4919h0M698 4839h0M676 4349h0M626 4355h0M700 4723h0M636 4846h0M621 4763h0M729 4772h0M714 4758h0M575 4414h0M710 4774h0M623 4872h0M588 4460h0M560 4372h0M596 4372h0M629 4880h0M716 4331h0M720 4729h0M788 4592h0M647 4835h0M709 4857h0M607 4762h0M726 4736h0M684 5036h0M762 4965h0M614 4742h0M800 4359h0M741 4702h0M773 4955h0M567 4444h0M601 5002h0M606 4863h0M775 4671h0M606 4721h0M760 4900h0M678 5053h0M618 4768h0M739 4883h0M775 4677h0M594 4718h0M788 4525h0M776 4711h0M776 4970h0M751 4744h0M620 4762h0M769 4663h0M753 4918h0M772 5000h0M585 4672h0M769 4923h0M710 4345h0M772 4981h0M589 4370h0M621 4905h0M765 4936h0M744 4692h0M754 4699h0M761 4912h0M773 4628h0M776 4620h0M576 4585h0M632 4723h0M619 4951h0M761 4929h0M835 4514h0M582 4551h0M569 4593h0M590 4362h0M815 4409h0M806 4575h0M770 4931h0M628 4879h0M640 4842h0M783 4606h0M767 4968h0M573 4575h0M614 4903h0M712 4756h0M605 4699h0M579 4578h0M745 4707h0M616 4810h0M649 5044h0M768 4976h0M614 4992h0M746 5017h0M779 4622h0M793 4666h0M583 4502h0M568 4406h0M786 4410h0M583 4460h0M632 4890h0M590 4596h0M563 4591h0M725 4885h0M596 4703h0M798 4581h0M606 4911h0M607 4704h0M668 4340h0M746 5014h0M785 4964h0M561 4605h0M807 4383h0M646 4820h0M611 4916h0M603 4890h0M787 4653h0M709 5046h0M737 4714h0M733 4895h0M740 4765h0M772 4637h0M698 4795h0M556 4451h0M763 4362h0M590 4955h0M584 4650h0M749 4362h0M593 4672h0M606 4926h0M767 5008h0M614 4933h0M565 4540h0M603 4762h0M789 4612h0M647 5049h0M676 4354h0M655 5021h0M583 4453h0M703 4820h0M698 4773h0M608 4703h0M615 4750h0M598 4644h0M786 4959h0M677 5044h0M794 4496h0M819 4528h0M592 4893h0M590 4356h0M731 4881h0M574 4432h0M692 4791h0M757 4365h0M578 4488h0M752 4985h0M802 4442h0M802 4635h0M593 4956h0M599 4917h0M584 4636h0M728 4754h0M651 4372h0M615 4986h0M619 4864h0M611 4921h0M609 4962h0M812 4492h0M750 4912h0M777 4660h0M598 4655h0M591 4686h0M760 5005h0M718 4367h0M767 4971h0M758 4671h0M583 4400h0M796 4521h0M773 4340h0M717 5041h0M805 4569h0M709 4774h0M583 4581h0M805 4440h0M680 5039h0M744 5034h0M770 4948h0M759 4990h0M763 4949h0M602 4977h0M579 4704h0M695 4830h0M711 4757h0M702 4864h0M654 4343h0M807 4366h0M615 5020h0M601 4467h0M799 4447h0M557 4507h0M740 4317h0M803 4539h0M584 4634h0M571 4569h0M807 4557h0M627 4795h0M569 4405h0M816 4537h0M569 4466h0M779 4643h0M765 4686h0M577 4683h0M613 4888h0M619 4342h0M566 4599h0M629 4870h0M572 4491h0M619 4806h0M703 5038h0M808 4461h0M586 4579h0M729 4885h0M731 4346h0M776 4343h0M593 4962h0M759 4984h0M600 4746h0M763 4352h0M618 4344h0M809 4464h0M561 4541h0M676 5045h0M722 4345h0M644 4824h0M686 4353h0M791 4492h0M646 5019h0M573 4482h0M626 4900h0M712 5038h0M789 4612h0M602 4737h0M625 4871h0M805 4549h0M579 4431h0M586 4482h0M751 4912h0M787 4526h0M725 4834h0M805 4458h0M738 4743h0M782 4355h0M572 4473h0M740 5022h0M598 4674h0M802 4558h0M814 4519h0M605 4973h0M545 4538h0M650 4817h0M736 4356h0M554 4435h0M561 4535h0M608 4729h0M666 4354h0M746 5011h0M769 4687h0M600 4942h0M567 4581h0M619 4928h0M811 4511h0M570 4466h0M615 4773h0M607 4352h0M584 4687h0M632 4780h0M599 4700h0M801 4379h0M751 4933h0M608 4874h0M623 5011h0M707 5037h0M797 4550h0M605 4936h0M698 4774h0M627 4766h0M745 4882h0M597 4627h0M797 4443h0M579 4571h0M698 4760h0M633 4352h0M753 4937h0M657 4854h0M613 4365h0M590 4967h0M737 4896h0M728 4869h0M780 4421h0M596 4672h0M605 4693h0M770 4588h0M801 4510h0M664 4829h0M783 4677h0M643 4798h0M725 4899h0M765 4970h0M727 4847h0M617 4719h0M744 4884h0M590 4346h0M810 4443h0M608 4874h0M718 4366h0M700 4809h0M636 4328h0M568 4428h0M579 4454h0M560 4429h0M680 5050h0M765 4957h0M740 4728h0M786 4472h0M742 4920h0M804 4537h0M661 5024h0M802 4582h0M799 4595h0M752 4330h0M615 4913h0M768 4946h0M708 4873h0M736 4900h0M736 5030h0M792 4588h0M773 4629h0M806 4544h0M774 4633h0M767 4684h0M718 4752h0M796 4396h0M705 5030h0M570 4578h0M721 5036h0M797 4593h0M776 4357h0M624 4889h0M568 4602h0M732 4699h0M727 4756h0M602 4868h0M804 4513h0M779 4618h0M796 4528h0M738 4345h0M725 4758h0M818 4465h0M608 4947h0M598 4690h0M814 4504h0M637 4792h0M793 4413h0M576 4445h0M774 4611h0M611 4730h0M631 5053h0M737 4704h0M583 4541h0M619 4735h0M759 4880h0M772 4661h0M694 4800h0M585 4345h0M606 4930h0M655 4345h0M798 4495h0M624 4899h0M715 4872h0M578 4471h0M614 4326h0M728 4751h0M699 5028h0M759 4987h0M646 4804h0M552 4523h0M748 5012h0M792 4647h0M580 4407h0M782 4557h0M798 4572h0M757 4969h0M665 4353h0M760 4664h0M785 4686h0M695 4807h0M799 4379h0M723 5008h0M678 5033h0M786 4468h0M809 4508h0M639 4812h0M596 4689h0M654 5021h0M629 4837h0M568 4495h0M759 4344h0M753 4994h0M626 4979h0M628 4989h0M617 4790h0M647 5035h0M573 4617h0M627 4978h0M816 4481h0M719 4845h0M734 4735h0M754 4935h0M609 4348h0M564 4500h0M799 4455h0M763 4337h0M783 4403h0M578 4642h0M634 4339h0M579 4368h0M743 5005h0M792 4636h0M675 5050h0M813 4584h0M614 4762h0M568 4493h0M561 4519h0M767 4684h0M800 4434h0M750 4889h0M799 4526h0M744 4904h0M622 4946h0M565 4483h0M790 4655h0M623 4861h0M824 4444h0M642 4848h0M683 4351h0M653 5015h0M687 4835h0M728 4793h0M618 5001h0M607 4956h0M578 4401h0M605 4359h0M816 4552h0M799 4374h0M655 4853h0M731 4729h0M759 4968h0M710 4849h0M564 4439h0M579 4670h0M557 4414h0M746 4968h0M815 4378h0M806 4443h0M660 4831h0M562 4480h0M577 4513h0M800 4446h0M541 4534h0M755 4355h0M712 4757h0M642 4338h0M754 4693h0M751 4665h0M643 5042h0M565 4478h0M740 5028h0M598 4935h0M604 4351h0M595 4967h0M602 4408h0M590 4931h0M788 4542h0M742 4688h0M558 4491h0M721 5034h0M645 4332h0M624 4787h0M786 4398h0M628 4918h0M658 5035h0M653 4792h0M789 4570h0M638 4876h0M776 4650h0M635 4834h0M801 4554h0M597 4420h0M610 4989h0M633 4837h0M762 5031h0M578 4587h0M777 4452h0M565 4519h0M752 4951h0M781 4645h0M802 4566h0M815 4498h0M626 4355h0M621 4916h0M607 4344h0M627 5008h0M739 5021h0M606 4955h0M767 4348h0M556 4483h0M787 4385h0M611 4948h0M732 5009h0M636 4344h0M627 4968h0M723 4762h0M774 4976h0M590 4643h0M740 5043h0M798 4375h0M569 4563h0M596 4906h0M772 4614h0M628 4852h0M625 4997h0M696 4807h0M675 4337h0M729 4353h0M765 4973h0M703 5041h0M714 5026h0M785 4351h0M573 4354h0M571 4587h0M802 4385h0M639 5036h0M710 4753h0M731 4729h0M578 4378h0M706 4766h0M578 4377h0M755 4975h0M581 4418h0M592 4612h0M645 4827h0M799 4362h0M692 4344h0M593 4602h0M720 4859h0M823 4456h0M565 4487h0M580 4643h0M619 4716h0M740 5004h0M724 4859h0M587 4707h0M634 4808h0M716 4866h0M622 4354h0M612 4725h0M769 4651h0M762 4608h0M561 4589h0M565 4473h0M628 4760h0M785 4593h0M759 4632h0M592 4388h0M590 4688h0M763 4658h0M780 4368h0M559 4463h0M570 4520h0M732 5017h0M679 4331h0M765 4344h0M753 4898h0M592 4675h0M734 5028h0M584 4398h0M609 4728h0M787 4384h0M614 4346h0M764 4959h0M571 4454h0M740 4336h0M565 4364h0M749 4726h0M799 4521h0M650 4813h0M797 4638h0M705 4815h0M625 4999h0M703 4805h0M558 4432h0M598 4346h0M583 4656h0M743 4905h0M806 4448h0M805 4413h0M601 4921h0M785 4674h0M560 4545h0M786 4563h0M663 5040h0M772 4627h0M696 4773h0M717 4759h0M612 4974h0M780 4367h0M652 4836h0M634 5020h0M670 5047h0M834 4517h0M766 4668h0M584 4675h0M784 4544h0M659 5018h0M753 4936h0M745 4889h0M770 4659h0M587 4719h0M803 4530h0M735 4691h0M551 4445h0M579 4544h0M735 4884h0M736 4338h0M735 5033h0M563 4516h0M774 4630h0M748 4951h0M788 4631h0M795 4452h0M586 4626h0M787 4626h0M689 5038h0M637 4911h0M570 4470h0M617 4718h0M773 4672h0M768 4953h0M641 4834h0M584 4374h0M795 4586h0M607 4333h0M570 4427h0M796 4657h0M627 5000h0M635 4781h0M704 4761h0M763 4975h0M625 4916h0M712 4356h0M798 4461h0M758 4337h0M704 4828h0M615 4894h0M635 4827h0M806 4384h0M707 4804h0M657 5030h0M743 4879h0M599 4368h0M759 4990h0M738 4335h0M792 4606h0M796 4496h0M650 4344h0M814 4459h0M698 5051h0M568 4399h0M784 4589h0M580 4420h0M630 4739h0M568 4484h0M605 4719h0M646 4825h0M624 4345h0M592 4502h0M793 4372h0M633 4865h0M820 4515h0M563 4477h0M721 4869h0M730 4351h0M727 5043h0M763 4967h0M709 4806h0M632 4856h0M628 4756h0M725 4753h0M761 4657h0M574 4655h0M801 4541h0M796 4403h0M700 4814h0M650 4813h0M643 5026h0M758 4692h0M620 4744h0M641 5032h0M716 4783h0M791 4356h0M633 5022h0M726 4878h0M719 5037h0M669 4350h0M638 4325h0M593 4360h0M712 4781h0M697 4795h0M738 4700h0M600 4698h0M813 4379h0M598 4692h0M708 4833h0M769 4370h0M675 5025h0M647 4829h0M623 4788h0M767 4354h0M655 4835h0M678 4358h0M629 4834h0M696 4811h0M755 4911h0M793 4424h0M754 4946h0M576 4372h0M767 4651h0M718 4853h0M729 4877h0M664 4353h0M773 4886h0M652 4822h0M629 5015h0M781 4597h0M740 4999h0M753 4995h0M752 4970h0M704 4838h0M742 4693h0M643 4849h0M574 4486h0M688 5045h0M569 4598h0M737 4877h0M764 4918h0M756 4324h0M641 4811h0M815 4392h0M622 4866h0M717 4350h0M612 4781h0M692 4783h0M615 4879h0M622 4864h0M603 4977h0M588 4361h0M604 4924h0M774 4645h0M557 4691h0M826 4508h0M722 5036h0M776 4971h0M815 4540h0M676 4333h0M797 4527h0M555 4553h0M586 4454h0M604 4674h0M568 4629h0M737 4726h0M707 5035h0M719 4356h0M631 4960h0M794 4355h0M714 4360h0M619 4850h0M623 4997h0M585 4518h0M700 4345h0M721 4351h0M583 4412h0M765 4674h0M707 4808h0M589 4637h0M588 4868h0M673 4326h0M607 4941h0M621 5006h0M745 5004h0M718 4761h0M803 4558h0M595 4789h0M568 4390h0M745 4347h0M725 4866h0M577 4579h0M786 4340h0M614 4746h0M785 4608h0M759 4696h0M631 4830h0M600 4718h0M574 4534h0M702 4328h0M632 4350h0M584 4668h0M647 4857h0M716 4794h0M786 4587h0M578 4644h0M567 4479h0M610 4715h0M646 4826h0M787 4652h0M552 4378h0M794 4606h0M585 4679h0M568 4572h0M581 4584h0M601 5003h0M590 4672h0M641 4834h0M765 4661h0M776 4345h0M558 4376h0M583 4678h0M753 4330h0M575 4497h0M766 4690h0M731 4336h0M756 4693h0M684 5034h0M622 5011h0M577 4391h0M600 4717h0M587 4364h0M765 4695h0M577 4384h0M614 4956h0M586 4439h0M585 4418h0M607 4688h0M655 5036h0M573 4386h0M786 4544h0M603 4718h0M737 4343h0M580 4359h0M576 4398h0M774 4356h0M600 4695h0M623 4771h0M742 5034h0M814 4572h0M817 4362h0M759 4709h0M721 5051h0M618 5019h0M762 4679h0M659 5027h0M673 4334h0M733 4341h0M621 4349h0M590 4656h0M775 4614h0M628 4857h0M698 4820h0M714 4783h0M582 4372h0M627 4869h0M737 4705h0M703 5018h0M664 5045h0M755 4690h0M724 4784h0M666 4353h0M642 4873h0M649 4357h0M625 4773h0M627 4357h0M718 4333h0M573 4656h0M638 4344h0M610 4952h0M738 4707h0M559 4517h0M748 4963h0M581 4646h0M618 4723h0M735 4361h0M705 4803h0M641 4860h0M755 4908h0M643 4812h0M594 4907h0M765 4651h0M759 4946h0M757 4341h0M625 4948h0M816 4485h0M776 5016h0M714 4828h0M583 4395h0M775 4361h0M652 4343h0M772 4621h0M601 4727h0M626 4805h0M626 4949h0M767 4953h0M643 4824h0M710 4789h0M719 4799h0M750 4998h0M625 4783h0M586 4417h0M612 4871h0M633 4819h0M725 4841h0M815 4519h0M744 4726h0M646 4357h0M628 4881h0M595 4412h0M792 4644h0M720 4760h0M569 4466h0M619 4823h0M598 4647h0M584 4368h0M652 5034h0M778 4678h0M798 4608h0M744 5014h0M549 4537h0M618 5021h0M768 4350h0M568 4530h0M681 4794h0M707 4357h0M765 4981h0M600 4908h0M732 4881h0M572 4419h0M573 4632h0M601 4734h0M607 4724h0M791 4339h0M734 4749h0M587 4394h0M581 4389h0M755 4931h0M769 4351h0M762 4368h0M671 5053h0M584 4381h0M644 4881h0M737 4679h0M737 4888h0M597 4900h0M721 4353h0M807 4416h0M589 4587h0M730 4742h0M844 4421h0M806 4606h0M731 4395h0M555 4581h0M693 4923h0M729 4826h0M685 4830h0M547 4934h0M835 4523h0M774 4330h0M803 4336h0M766 4733h0M625 4786h0M708 4733h0M600 4755h0M754 5058h0M578 4414h0M669 5053h0M777 5006h0M771 5029h0M736 4985h0M796 4605h0M757 4971h0M836 4600h0M541 4459h0M704 4882h0M584 4384h0M731 4707h0M723 4782h0M647 4378h0M651 4363h0M529 4395h0M811 4439h0M584 4561h0M592 4782h0M543 4461h0M767 4571h0M642 5032h0M558 4357h0M625 4425h0M808 4621h0M566 4683h0M733 4388h0M631 4304h0M570 4951h0M603 4732h0M756 4658h0M706 4744h0M633 4940h0M606 4754h0M583 4604h0M703 4847h0M815 4396h0M594 4970h0M604 4372h0M562 4391h0M791 4353h0M684 4881h0M730 4798h0M577 4316h0M637 4913h0M705 5038h0M731 4687h0M563 4507h0M570 4375h0M746 5025h0M645 4977h0M561 4440h0M675 5022h0M608 4417h0M788 4522h0M770 5067h0M553 4492h0M736 5090h0M593 4638h0M603 4975h0M854 4454h0M816 4388h0M635 4305h0M800 5010h0M690 5076h0M635 4341h0M641 4938h0M634 4715h0M731 4751h0M606 4891h0M719 4971h0M780 4597h0M840 4428h0M620 4805h0M724 4848h0M694 4355h0M797 4949h0M818 4384h0M727 4342h0M774 4331h0M797 4703h0M709 5027h0M705 4789h0M690 4859h0M613 4841h0M789 4462h0M699 4835h0M804 4520h0M598 4634h0M798 4450h0M712 4986h0M806 4457h0M732 5007h0M742 4969h0M632 4916h0M747 4616h0M659 4698h0M761 5037h0M597 4546h0M777 4355h0M797 4696h0M591 4384h0M597 4548h0M704 4793h0M580 4698h0M573 4593h0M641 5016h0M802 4532h0M745 4833h0M696 4828h0M606 4459h0M716 4801h0M719 4837h0M583 4313h0M747 4898h0M658 5061h0M759 4710h0M525 4527h0M571 4345h0M628 4321h0M683 4291h0M735 4790h0M721 4340h0M784 4936h0M600 4377h0M736 4661h0M691 4333h0M781 5049h0M710 4820h0M765 4942h0M601 4507h0M559 4920h0M653 4361h0M747 4979h0M783 4646h0M633 4759h0M656 4377h0M650 4818h0M798 4731h0M632 4378h0M772 5065h0M563 4448h0M657 4357h0M709 4767h0M713 4863h0M789 4953h0M775 4700h0M525 4359h0M726 4824h0M748 4719h0M631 4560h0M835 4573h0M646 5054h0M640 4806h0M742 4720h0M645 4765h0M629 4723h0M616 4398h0M591 4711h0M631 4347h0M684 4341h0M687 4809h0M682 4966h0M677 4375h0M797 4899h0M665 5065h0M763 4964h0M694 4811h0M767 4946h0M775 4501h0M635 4329h0M583 4921h0M722 4365h0M628 4961h0M630 4731h0M765 4999h0M591 4537h0M589 4492h0M826 4508h0M623 4848h0M766 4727h0M604 4673h0M689 4303h0M778 4643h0M728 4669h0M742 4977h0M752 4364h0M598 4323h0M803 4944h0M693 5004h0M833 4529h0M605 5041h0M582 4455h0M619 4837h0M609 4774h0M759 4694h0M820 4393h0M828 4497h0M687 4351h0M774 4937h0M603 4437h0M589 4651h0M731 4652h0M554 4494h0M592 4323h0M778 4540h0M595 4383h0M834 4557h0M736 4341h0M638 4358h0M770 4879h0M748 4711h0M782 5051h0M598 4685h0M750 5084h0M830 4474h0M725 4968h0M656 5065h0M800 4502h0M616 4749h0M638 4868h0M749 4959h0M776 4706h0M788 4427h0M684 4349h0M578 4461h0M655 4812h0M591 4555h0M628 4830h0M682 4308h0M734 4844h0M570 4395h0M681 4994h0M588 4727h0M573 4322h0M753 4635h0M729 4828h0M579 4806h0M555 4735h0M591 4566h0M733 4879h0M688 4709h0M698 4746h0M573 4525h0M618 4866h0M690 4351h0M629 5010h0M668 5043h0M591 4541h0M536 4587h0M800 4359h0M736 4636h0M741 5043h0M677 4797h0M607 4337h0M794 4407h0M564 4458h0M555 4558h0M587 4952h0M610 4691h0M802 4665h0M777 4655h0M585 4436h0M690 4844h0M790 4512h0M769 4954h0M817 4463h0M669 5052h0M784 4899h0M624 4430h0M586 4722h0M780 4688h0M548 4659h0M565 4410h0M738 4882h0M782 4745h0M741 4995h0M732 4914h0M722 4900h0M787 4870h0M515 4604h0M704 4314h0M639 4329h0M663 5028h0M590 4950h0M605 4709h0M752 4651h0M705 4681h0M558 4728h0M587 4407h0M593 4410h0M587 4345h0M717 4827h0M614 4769h0M556 4438h0M625 4382h0M767 5025h0M802 4470h0M606 4904h0M602 4647h0M583 4391h0M811 4388h0M646 5017h0M620 4834h0M741 4785h0M647 4359h0M602 4877h0M573 4897h0M597 4367h0M628 4786h0M684 4328h0M547 4621h0M639 4915h0M552 4700h0M782 4709h0M666 4390h0M579 4576h0M788 4396h0M621 4742h0M734 4682h0M666 4883h0M606 4935h0M813 4396h0M825 4412h0M700 4354h0M639 5047h0M664 4853h0M774 4416h0M596 4557h0M711 5057h0M584 4932h0M775 4383h0M710 4937h0M751 4962h0M734 4931h0M651 4305h0M561 4502h0M565 4445h0M565 4474h0M739 4974h0M703 5036h0M618 5029h0M606 4634h0M634 5004h0M568 4435h0M792 4731h0M610 4931h0M734 4858h0M701 4686h0M809 4527h0M681 5034h0M760 4372h0M685 4324h0M601 4981h0M612 5056h0M781 4996h0M698 4339h0M727 4848h0M628 4375h0M802 4560h0M565 4424h0M692 4839h0M593 4552h0M766 4968h0M779 4374h0M777 4611h0M765 5045h0M822 4421h0M686 4794h0M805 4387h0M760 4983h0M599 4966h0M768 4331h0M561 4400h0M635 4949h0M756 4967h0M774 4634h0M663 5022h0M757 4542h0M659 4817h0M725 4787h0M588 5010h0M567 4994h0M613 5009h0M589 4942h0M741 4848h0M769 4645h0M733 4740h0M786 4390h0M614 4343h0M614 4317h0M612 5015h0M600 4341h0M589 4383h0M666 4809h0M729 4907h0M737 4908h0M688 4997h0M581 4846h0M621 4744h0M550 4487h0M646 4820h0M654 4306h0M595 4814h0M777 4508h0M836 4596h0M723 5043h0M597 4813h0M718 4991h0M530 4444h0M585 4716h0M750 4352h0M573 4550h0M739 4695h0M795 4487h0M763 4991h0M584 4509h0M772 4502h0M791 4929h0M791 4374h0M743 4305h0M860 4562h0M743 4770h0M783 4628h0M724 4976h0M703 4820h0M694 4875h0M618 4840h0M795 4352h0M588 4944h0M725 4359h0M821 4516h0M554 4442h0M527 4545h0M606 4761h0M665 5036h0M665 4989h0M748 4937h0M819 4579h0M782 4695h0M622 4591h0M693 4759h0M596 4472h0M618 5008h0M789 5041h0M775 4622h0M593 4679h0M759 4626h0M775 4644h0M857 4498h0M785 4443h0M724 4300h0M629 4769h0M644 4928h0M605 4340h0M776 4515h0M732 4772h0M728 4735h0M783 4615h0M744 5036h0M760 4567h0M590 4496h0M631 5004h0M806 4520h0M766 4529h0M584 4412h0M713 4334h0M735 4355h0M740 4938h0M647 4983h0M725 4698h0M619 5023h0M619 4774h0M726 4800h0M636 4319h0M756 4323h0M639 5042h0M682 4671h0M561 4921h0M620 4782h0M585 4586h0M761 4643h0M723 4876h0M622 4288h0M645 4253h0M799 4289h0M846 4244h0M670 4250h0M619 4305h0M811 4263h0M680 4204h0M698 4232h0M893 4253h0M662 4216h0M707 4263h0M705 4353h0M729 4227h0M641 4146h0M727 4201h0M749 4153h0M643 4281h0M659 4319h0M709 4268h0M664 4244h0M736 4321h0M579 4315h0M690 4361h0M770 4287h0M681 4300h0M627 4261h0M685 4317h0M712 4212h0M649 4185h0M761 4167h0M661 4204h0M599 4396h0M733 4284h0M764 4306h0M843 4179h0M625 4142h0M709 4346h0M647 4335h0M735 4246h0M668 4268h0M754 4308h0M680 4270h0M706 4262h0M709 4220h0M607 4355h0M788 4283h0M774 4352h0M694 4229h0M714 4237h0M728 4300h0M540 4341h0M684 4333h0M548 4244h0M720 4322h0M817 4383h0M697 4199h0M634 4333h0M652 4313h0M689 4250h0M740 4292h0M747 4270h0M627 4298h0M580 4287h0M680 4155h0M756 4425h0M625 4196h0M650 4338h0M857 4283h0M616 4331h0M601 4241h0M686 4364h0M745 4392h0M525 4292h0M723 4274h0M787 4298h0M784 4310h0M724 4291h0M577 4176h0M692 4250h0M517 4237h0M752 4401h0M775 4183h0M640 4237h0M734 4292h0M855 4321h0M693 4208h0M766 4215h0M690 4252h0M760 4253h0M647 4314h0M584 4289h0M688 4349h0M643 4278h0M716 4241h0M645 4247h0M709 4224h0M652 4218h0M620 4225h0M577 4302h0M707 4254h0M787 4300h0M709 4172h0M680 4217h0M598 4257h0M796 4322h0M795 4283h0M613 4294h0M772 4192h0M626 4230h0M649 4192h0M697 4334h0M796 4391h0M604 4299h0M763 4227h0M678 4280h0M625 4280h0M584 4240h0M639 4258h0M793 4201h0M745 4386h0M669 4282h0M611 4235h0M603 4216h0M630 4390h0M716 4277h0M700 4238h0M657 4251h0M658 4315h0M657 4266h0M628 4206h0M689 4454h0M680 4273h0M780 4254h0M576 4226h0M759 4187h0M862 4201h0M802 4260h0M668 4319h0M624 4193h0M679 4253h0M685 4330h0M702 4189h0M656 4128h0M639 4180h0M675 4365h0M784 4203h0M655 4404h0M620 4322h0M640 4320h0M757 4202h0M824 4198h0M854 4328h0M753 4255h0M737 4184h0M669 4241h0M758 4232h0M681 4273h0M770 4407h0M649 4407h0M740 4362h0M589 4301h0M809 4273h0M634 4276h0M672 4243h0M695 4294h0M677 4246h0M878 4170h0M732 4400h0M820 4276h0M706 4163h0M661 4244h0M758 4177h0M656 4318h0M650 4358h0M818 4326h0M614 4272h0M627 4292h0M644 4323h0M749 4300h0M617 4250h0M789 4287h0M631 4283h0M782 4293h0M741 4242h0M750 4282h0M603 4301h0M571 4308h0M615 4164h0M865 4259h0M710 4308h0M668 4129h0M780 4188h0M704 4339h0M600 4221h0M604 4217h0M726 4335h0M664 4275h0M747 4349h0M615 4287h0M852 4220h0M596 4242h0M758 4110h0M630 4227h0M814 4323h0M764 4284h0M755 4382h0M628 4213h0M759 4273h0M739 4257h0M652 4303h0M726 4294h0M701 4203h0M670 4375h0M590 4295h0M707 4276h0M691 4287h0M755 4224h0M802 4338h0M691 4376h0M593 4195h0M804 4337h0M753 4408h0M704 4260h0M693 4403h0M625 4243h0M676 4251h0M615 4265h0M707 4270h0M644 4224h0M622 4315h0M703 4232h0M643 4204h0M781 4309h0M620 4234h0M724 4329h0M657 4361h0M713 4298h0M699 4351h0M733 4277h0M663 4308h0M764 4191h0M625 4236h0M725 4324h0M856 4237h0M566 4233h0M579 4238h0M857 4288h0M815 4232h0M751 4199h0M737 4306h0M615 4318h0M693 4273h0M637 4218h0M632 4334h0M602 4214h0M630 4123h0M742 4154h0M823 4300h0M685 4391h0M743 4318h0M676 4268h0M631 4149h0M732 4305h0M712 4314h0M683 4265h0M597 4197h0M671 4355h0M700 4362h0M678 4294h0M749 4300h0M648 4119h0M841 4290h0M783 4372h0M640 4278h0M774 4180h0M632 4298h0M675 4214h0M883 4221h0M576 4206h0M761 4315h0M637 4306h0M634 4371h0M711 4295h0M815 4272h0M873 4299h0M655 4243h0M573 4346h0M765 4326h0M602 4281h0M735 4233h0M655 4259h0M668 4271h0M776 4321h0M692 4194h0M812 4286h0M776 4170h0M828 4298h0M826 4283h0M671 4275h0M667 4309h0M695 4213h0M623 4299h0M702 4270h0M666 4366h0M655 4275h0M798 4326h0M683 4270h0M547 4416h0M520 4302h0M720 4268h0M733 4393h0M745 4280h0M604 4342h0M671 4292h0M622 4236h0M672 4272h0M680 4209h0M788 4355h0M595 4302h0M758 4293h0M604 4237h0M744 4227h0M606 4210h0M763 4279h0M693 4259h0M748 4204h0M640 4314h0M733 4228h0M595 4304h0M1063 4622h0M1086 4679h0M869 4620h0M984 4605h0M973 4614h0M988 4593h0M835 4584h0M1009 4646h0M993 4638h0M1040 4576h0M1059 4513h0M900 4525h0M868 4592h0M1163 4629h0M861 4497h0M889 4592h0M1126 4614h0M1070 4743h0M1019 4583h0M1057 4590h0M821 4728h0M994 4618h0M806 4573h0M894 4655h0M930 4527h0M923 4605h0M809 4498h0M969 4555h0M1071 4688h0M999 4597h0M1041 4673h0M967 4492h0M824 4546h0M842 4597h0M852 4638h0M1019 4668h0M1109 4596h0M1087 4616h0M974 4513h0M872 4696h0M825 4689h0M1122 4494h0M817 4568h0M1072 4697h0M1032 4526h0M1141 4533h0M1004 4524h0M967 4583h0M1042 4610h0M1151 4631h0M984 4655h0M865 4477h0M1120 4558h0M978 4647h0M952 4625h0M990 4564h0M971 4590h0M1079 4634h0M1080 4678h0M990 4629h0M1052 4672h0M1060 4741h0M852 4661h0M1076 4605h0M1057 4537h0M812 4603h0M1106 4600h0M1031 4580h0M1074 4656h0M1054 4724h0M922 4486h0M1111 4584h0M1108 4591h0M1146 4695h0M1082 4624h0M1145 4648h0M805 4587h0M1028 4615h0M813 4552h0M893 4733h0M964 4535h0M809 4671h0M958 4753h0M1145 4669h0M1123 4468h0M1081 4657h0M863 4514h0M854 4617h0M1028 4599h0M1020 4575h0M1079 4696h0M1062 4523h0M840 4534h0M935 4510h0M869 4564h0M1041 4625h0M994 4649h0M921 4583h0M860 4644h0M1091 4575h0M809 4663h0M990 4513h0M891 4426h0M869 4487h0M987 4703h0M806 4557h0M847 4529h0M896 4602h0M1004 4582h0M1100 4522h0M865 4589h0M1029 4628h0M1151 4638h0M989 4650h0M865 4613h0M1064 4570h0M844 4645h0M971 4594h0M951 4544h0M995 4579h0M1010 4650h0M1113 4657h0M948 4590h0M1033 4601h0M827 4479h0M975 4715h0M898 4597h0M955 4524h0M887 4582h0M990 4631h0M955 4530h0M1022 4603h0M911 4625h0M915 4659h0M812 4513h0M943 4561h0M862 4692h0M852 4464h0M1092 4647h0M1105 4591h0M1065 4518h0M935 4602h0M935 4532h0M911 4472h0M861 4485h0M882 4590h0M831 4629h0M1048 4622h0M1043 4643h0M854 4565h0M1048 4563h0M810 4541h0M1003 4525h0M912 4578h0M1007 4516h0M848 4540h0M979 4610h0M1056 4574h0M1160 4661h0M1080 4627h0M1000 4482h0M914 4563h0M1004 4750h0M938 4505h0M975 4658h0M1059 4657h0M846 4550h0M1033 4517h0M954 4666h0M1088 4699h0M1057 4593h0M1130 4582h0M1055 4631h0M1135 4612h0M944 4697h0M1034 4625h0M814 4545h0M1153 4687h0M907 4769h0M861 4613h0M1099 4682h0M1028 4632h0M1016 4651h0M906 4582h0M1005 4645h0M1059 4699h0M945 4584h0M986 4654h0M965 4634h0M1088 4624h0M1152 4650h0M965 4658h0M942 4590h0M1165 4618h0M1168 4537h0M980 4547h0M880 4610h0M811 4546h0M1151 4618h0M1092 4588h0M916 4576h0M1124 4580h0M964 4519h0M820 4551h0M979 4568h0M1031 4597h0M977 4615h0M1007 4557h0M933 4593h0M962 4629h0M851 4607h0M1081 4720h0M1134 4634h0M823 4512h0M825 4509h0M1110 4463h0M932 4658h0M1034 4513h0M1116 4628h0M1086 4703h0M991 4634h0M891 4493h0M1045 4598h0M897 4494h0M821 4475h0M1079 4638h0M1141 4648h0M917 4521h0M996 4639h0M872 4547h0M1129 4713h0M1161 4584h0M1099 4536h0M1003 4537h0M1124 4604h0M1058 4719h0M951 4619h0M1125 4618h0M1061 4653h0M921 4523h0M957 4556h0M920 4620h0M954 4613h0M1134 4645h0M1121 4662h0M989 4610h0M959 4615h0M915 4516h0M1020 4578h0M836 4491h0M1165 4586h0M933 4617h0M844 4626h0M867 4724h0M1136 4629h0M1136 4570h0M825 4409h0M915 4678h0M1114 4522h0M1146 4589h0M1101 4617h0M940 4689h0M1029 4617h0M889 4537h0M855 4700h0M1111 4765h0M857 4605h0M1037 4622h0M1082 4558h0M900 4581h0M888 4567h0M1123 4609h0M1084 4493h0M1130 4705h0M1008 4681h0M916 4610h0M1094 4507h0M885 4535h0M893 4592h0M998 4660h0M970 4687h0M1032 4583h0M906 4587h0M1023 4586h0M1165 4718h0M900 4671h0M925 4543h0M1145 4657h0M968 4578h0M1146 4636h0M988 4644h0M922 4587h0M1005 4695h0M1107 4533h0M825 4501h0M1071 4614h0M862 4495h0M803 4625h0M967 4459h0M1167 4661h0M1076 4501h0M1062 4526h0M831 4558h0M867 4581h0M1081 4637h0M1058 4592h0M1075 4701h0M1072 4585h0M1026 4628h0M955 4588h0M928 4743h0M913 4571h0M864 4537h0M1160 4599h0M1058 4617h0M998 4540h0M1014 4592h0M952 4516h0M869 4596h0M1043 4713h0M1031 4630h0M1118 4589h0M935 4471h0M932 4709h0M895 4688h0M975 4566h0M1039 4646h0M995 4631h0M1088 4751h0M1120 4533h0M1116 4571h0M842 4500h0M1044 4640h0M845 4526h0M875 4687h0M906 4507h0M864 4572h0M903 4522h0M1133 4670h0M1156 4690h0M838 4557h0M1028 4587h0M828 4497h0M1083 4580h0M945 4686h0M1038 4706h0M1046 4456h0M1000 4599h0M888 4484h0M974 4613h0M961 4573h0M935 4639h0M928 4560h0M803 4494h0M932 4694h0M898 4587h0M1115 4557h0M1092 4532h0M1019 4592h0M826 4465h0M1051 4633h0M940 4550h0M1120 4657h0M984 4577h0M981 4558h0M942 4571h0M1116 4622h0M1158 4746h0M829 4622h0M845 4553h0M975 4683h0M901 4586h0M1015 4591h0M1148 4578h0M972 4653h0M987 4672h0M906 4596h0M905 4579h0M1025 4610h0M1082 4621h0M854 4605h0M959 4654h0M977 4694h0M805 4628h0M1036 4569h0M896 4554h0M1142 4609h0M840 4528h0M1084 4638h0M1057 4635h0M1011 4591h0M924 4562h0M1164 4599h0M919 4531h0M835 4585h0M897 4677h0M1060 4603h0M816 4582h0M811 4520h0M1005 4491h0M1086 4574h0M886 4573h0M937 4481h0M1109 4564h0M946 4617h0M1016 4551h0M1054 4574h0M1060 4506h0M894 4651h0M1110 4527h0M903 4541h0M1111 4649h0M994 4512h0M937 4493h0M993 4542h0M989 4602h0M1018 4675h0M930 4633h0M874 4524h0M1054 4495h0M1109 4642h0M885 4645h0M826 4560h0M1109 4581h0M988 4478h0M917 4635h0M1124 4591h0M1101 4518h0M988 4529h0M864 4655h0M1069 4721h0M1148 4709h0M909 4537h0M1152 4702h0M979 4523h0M840 4605h0M1116 4550h0M1107 4528h0M847 4553h0M866 4679h0M1004 4545h0M829 4574h0M1013 4684h0M1120 4682h0M851 4531h0M1021 4530h0M911 4591h0M1085 4764h0M839 4595h0M961 4655h0M846 4660h0M915 4527h0M945 4616h0M892 4628h0M1127 4590h0M1132 4608h0M918 4694h0M1077 4633h0M1095 4714h0M862 4675h0M1033 4704h0M944 4585h0M1040 4511h0M1013 4588h0M1141 4618h0M1078 4544h0M1052 4602h0M1011 4700h0M864 4508h0M992 4567h0M1103 4568h0M862 4451h0M1120 4619h0M958 4588h0M1124 4585h0M823 4727h0M1103 4700h0M987 4588h0M999 4555h0M1070 4643h0M949 4576h0M1167 4606h0M1160 4601h0M1002 4706h0M1085 4649h0M974 4712h0M1028 4591h0M990 4584h0M1067 4646h0M997 4656h0M874 4593h0M974 4547h0M1007 4660h0M800 4675h0M858 4597h0M1064 4513h0M1129 4579h0M876 4474h0M1149 4601h0M1094 4549h0M891 4627h0M852 4490h0M1124 4603h0M1095 4539h0M976 4611h0M829 4567h0M1054 4528h0M917 4590h0M1049 4677h0M1088 4605h0M950 4516h0M1109 4628h0M926 4698h0M1125 4645h0M1147 4592h0M828 4610h0M893 4533h0M959 4575h0M1057 4545h0M861 4594h0M1057 4600h0M1126 4623h0M1110 4805h0M1117 4706h0M1137 4641h0M1065 4762h0M1064 4797h0M1087 4777h0M1117 4804h0M1113 4609h0M1149 4810h0M1110 4669h0M1051 4735h0M1172 4737h0M1106 4816h0M1122 4695h0M1060 4934h0M1121 4833h0M1089 4543h0M1105 4764h0M1088 4719h0M1101 4841h0M1140 4864h0M1124 4685h0M1108 4539h0M1092 4790h0M1100 4708h0M1109 4757h0M1133 4688h0M1097 4631h0M1138 4826h0M1098 4720h0M1067 4853h0M1058 4749h0M1142 4873h0M1099 4635h0M1070 4884h0M1114 5047h0M1124 4782h0M1072 4624h0M1111 4674h0M1083 4538h0M1100 4784h0M1115 4777h0M1102 4603h0M1105 4705h0M1091 4698h0M1090 4719h0M1136 4545h0M1121 4617h0M1082 4654h0M1080 4877h0M1105 4896h0M1119 4820h0M1101 4784h0M1092 4701h0M1154 4850h0M1158 4816h0M1125 4682h0M1172 4626h0M1103 4684h0M1062 4994h0M1099 4576h0M1106 4659h0M1124 4616h0M1019 4888h0M1130 4714h0M1063 4725h0M1062 4682h0M1040 4740h0M1087 4674h0M988 4698h0M1150 4726h0M1099 4752h0M1027 4676h0M1135 4649h0M1122 4907h0M1104 4865h0M1119 4923h0M1099 4809h0M1066 4555h0M1077 4813h0M1153 4672h0M1035 4686h0M1039 4764h0M1052 4865h0M1049 4927h0M1120 4649h0M1132 4882h0M1140 4807h0M1122 4832h0M1102 4692h0M1089 4782h0M1128 4576h0M1100 4862h0M1116 4735h0M1089 4613h0M1088 4780h0M1034 4610h0M1104 4767h0M1095 4692h0M1107 4755h0M1157 4799h0M1134 4929h0M1095 4808h0M1094 4559h0M1135 4806h0M1143 4853h0M1147 4930h0M1099 4633h0M1110 4683h0M1039 4934h0M1160 4759h0M1092 4815h0M1122 4577h0M1112 4556h0M1138 4700h0M1053 4734h0M1106 4753h0M1191 4576h0M1101 4795h0M1111 4677h0M1119 4780h0M1100 4740h0M1132 4836h0M1102 4761h0M1135 4897h0M1058 4738h0M1154 4703h0M1123 4815h0M1062 4609h0M1102 4733h0M1074 4825h0M1134 4751h0M1113 4826h0M1116 4703h0M1104 4736h0M1124 4708h0M1090 4906h0M1103 4586h0M1108 4690h0M1080 4638h0M1120 4712h0M1104 4606h0M1092 4674h0M1086 4650h0M1125 4462h0M1065 4789h0M1131 4875h0M1086 4693h0M1094 4745h0M1103 4738h0M1134 4714h0M1087 4731h0M1124 4729h0M1138 4713h0M1101 4638h0M1110 4639h0M1153 4695h0M1099 4797h0M1125 4770h0M1073 4515h0M1040 4583h0M1108 4858h0M1082 4672h0M1106 4804h0M1160 4736h0M1125 4691h0M1150 4659h0M1096 4681h0M1086 4719h0M1087 4607h0M1077 4702h0M1048 4715h0M1165 4556h0M1084 4587h0M1101 4819h0M1090 4710h0M1173 4752h0M1084 4793h0M1116 4567h0M1111 4849h0M1072 4663h0M1133 4688h0M1049 4540h0M1136 4806h0M1072 4780h0M1159 4710h0M1140 4943h0M1116 4691h0M1120 4612h0M1173 4761h0M1182 4708h0M1095 4717h0M1061 4724h0M1061 4636h0M1150 4704h0M1100 4590h0M1125 4690h0M1116 4669h0M1133 4682h0M1083 4823h0M1076 4623h0M1133 4717h0M1091 4806h0M1113 4684h0M1077 4792h0M1127 4760h0M1080 4615h0M1078 4796h0M1066 4579h0M1101 4768h0M1115 4680h0M1087 4741h0M1170 4638h0M1092 4858h0M1091 4744h0M1140 4845h0M1114 4797h0M1063 4744h0M1037 4783h0M1098 4813h0M1119 4771h0M1083 4660h0M1096 4746h0M1119 4852h0M1154 4684h0M1040 4832h0M1070 4901h0M1147 4754h0M1138 4688h0M1069 4724h0M1139 4790h0M1052 4819h0M1110 4750h0M1121 4692h0M1145 4656h0M1083 4709h0M1057 4753h0M1165 4732h0M1052 4601h0M1029 4763h0M1111 4631h0M1124 4654h0M1084 4758h0M1098 4727h0M1083 4700h0M1155 4787h0M1064 4672h0M1132 4906h0M1121 4726h0M1083 4764h0M1040 4850h0M1129 4696h0M1113 4808h0M1100 4763h0M1099 4678h0M1090 4746h0M1121 4641h0M1146 4831h0M1111 4799h0M1084 4776h0M1085 4727h0M1096 4852h0M1089 4736h0M1064 4626h0M1079 4644h0M1074 4702h0M1137 4652h0M1093 4571h0M1086 4742h0M1061 4821h0M1091 4761h0M1051 4777h0M1163 4665h0M1117 4787h0M1090 4650h0M1070 4892h0M1176 4694h0M1108 4596h0M1111 4814h0M1097 4848h0M1128 4921h0M1075 4801h0M1157 4673h0M1102 4692h0M1141 4669h0M1144 4738h0M1141 4711h0M1071 4675h0M1166 4691h0M1079 4711h0M1115 4796h0M1132 4673h0M1118 4515h0M1083 4623h0M1135 4504h0M1075 4588h0M1110 4695h0M1067 4853h0M1063 4744h0M1098 4901h0M1106 4684h0M1097 4821h0M1046 4781h0M1121 4543h0M1120 4773h0M1079 4879h0M1172 4844h0M1125 4758h0M1055 4935h0M1100 4787h0M1132 4847h0M1124 4728h0M1153 4666h0M1053 4793h0M1115 4698h0M1111 4687h0M1145 4651h0M1212 4621h0M1093 4753h0M1115 4866h0M1138 4388h0M1112 4749h0M1060 4737h0M1118 4621h0M1141 4828h0M1171 4693h0M1096 4659h0M1087 4723h0M1088 4891h0M1133 4876h0M1112 5040h0M1118 4861h0M1122 4907h0M1125 4856h0M1127 4890h0M1112 4921h0M1128 4888h0M1133 4948h0M1110 4929h0M1095 4999h0M1123 4929h0M1155 5004h0M1136 4922h0M1150 4947h0M1121 4836h0M1122 4966h0M1157 4906h0M1120 4911h0M1123 4929h0M1140 4947h0M1140 4961h0M1121 4898h0M1121 4915h0M1126 4942h0M1111 4867h0M1145 4880h0M1103 4813h0M1150 4844h0M1106 4874h0M1143 4858h0M1131 4981h0M1157 4896h0M1150 4957h0M1139 4888h0M1113 4930h0M1156 4901h0M1131 4969h0M1103 4882h0M1129 4979h0M1096 4857h0M1085 4953h0M1150 4989h0M1098 4941h0M1092 4929h0M1139 4969h0M1117 4906h0M1091 4921h0M1166 4943h0M1124 4903h0M1135 4914h0M1153 4999h0M1146 4895h0M1118 4959h0M1120 5010h0M1113 4955h0M1146 4869h0M1113 4861h0M1087 5002h0M1136 4960h0M1127 4918h0M1118 4867h0M1137 4804h0M1135 4937h0M1143 4868h0M1135 4925h0M1140 4932h0M1123 4893h0M1125 4867h0M1106 4856h0M1134 4821h0M1149 4874h0M1146 4907h0M1116 4915h0M1129 4888h0M1106 4960h0M1154 4953h0M1104 5006h0M1131 4904h0M833 4841h0M915 4722h0M706 4581h0M757 4785h0M792 4530h0M867 4651h0M905 4548h0M692 4740h0M829 4862h0M802 4693h0M739 4730h0M841 4678h0M886 4860h0M793 4627h0M859 4744h0M699 4834h0M1053 4708h0M974 4741h0M799 4729h0M886 4780h0M769 4552h0M888 4586h0M903 4854h0M1021 4590h0M962 4574h0M925 4639h0M974 4685h0M922 4589h0M907 4724h0M865 4547h0M732 4780h0M727 4846h0M835 4552h0M750 4744h0M769 4665h0M977 4765h0M1035 4639h0M792 4753h0M810 4638h0M899 4895h0M634 4770h0M964 4822h0M914 4544h0M763 4747h0M914 4867h0M890 4653h0M817 4670h0M845 4698h0M801 4689h0M752 4478h0M913 4655h0M885 4853h0M830 4670h0M703 4792h0M965 4655h0M886 4804h0M978 4648h0M1047 5116h0M845 4638h0M835 4734h0M688 4995h0M769 4598h0M890 4647h0M761 4725h0M829 5004h0M640 4816h0M823 4755h0M874 4614h0M883 4551h0M788 4863h0M1011 4546h0M874 4524h0M972 4674h0M832 4735h0M872 4772h0M700 4768h0M895 4713h0M758 4893h0M883 4950h0M957 4623h0M786 4682h0M828 4979h0M1057 4463h0M899 4728h0M1022 4372h0M812 4569h0M937 4694h0M851 4673h0M837 4874h0M882 4662h0M741 4629h0M762 4892h0M780 4692h0M962 4632h0M883 4901h0M856 4880h0M889 4712h0M1042 4813h0M847 4735h0M682 4598h0M837 4838h0M876 4754h0M889 4861h0M995 4428h0M803 4717h0M1003 4791h0M931 4636h0M974 4725h0M1009 4572h0M876 4549h0M802 4497h0M821 4922h0M903 4697h0M972 4653h0M909 4735h0M927 4902h0M724 4845h0M694 4648h0M929 4765h0" stroke="#000" stroke-width="8.5" stroke-linecap="square" fill="none"/>
</g>
<rect x="50.3" y="397.85" width="118.75" height="117.25" fill="none" stroke="#000" stroke-width="1.45"/>
<path d="M63.90 515.53v2.6M75.70 515.53v2.6M103.90 515.53v2.6M130.70 515.53v2.6M156.70 515.53v2.6M49.87 501.50h-3.4M49.87 489.70h-2.7M49.87 461.50h-2.7M49.87 434.70h-2.7M49.87 408.70h-2.7" stroke="#000" stroke-width="1.15" fill="none"/>
<path d="M84.19 515.53v1.8M89.15 515.53v1.8M92.68 515.53v1.8M95.41 515.53v1.8M97.64 515.53v1.8M99.53 515.53v1.8M101.17 515.53v1.8M102.61 515.53v1.8M111.97 515.53v1.8M116.69 515.53v1.8M120.04 515.53v1.8M122.63 515.53v1.8M124.75 515.53v1.8M126.55 515.53v1.8M128.10 515.53v1.8M129.47 515.53v1.8M138.53 515.53v1.8M143.11 515.53v1.8M146.35 515.53v1.8M148.87 515.53v1.8M150.93 515.53v1.8M152.67 515.53v1.8M154.18 515.53v1.8M155.51 515.53v1.8M66.26 515.53v1.8M61.54 515.53v1.8M68.62 515.53v1.8M59.18 515.53v1.8M70.98 515.53v1.8M56.82 515.53v1.8M73.34 515.53v1.8M54.46 515.53v1.8M164.53 515.53v1.8M49.87 481.21h-1.7M49.87 476.25h-1.7M49.87 472.72h-1.7M49.87 469.99h-1.7M49.87 467.76h-1.7M49.87 465.87h-1.7M49.87 464.23h-1.7M49.87 462.79h-1.7M49.87 453.43h-1.7M49.87 448.71h-1.7M49.87 445.36h-1.7M49.87 442.77h-1.7M49.87 440.65h-1.7M49.87 438.85h-1.7M49.87 437.30h-1.7M49.87 435.93h-1.7M49.87 426.87h-1.7M49.87 422.29h-1.7M49.87 419.05h-1.7M49.87 416.53h-1.7M49.87 414.47h-1.7M49.87 412.73h-1.7M49.87 411.22h-1.7M49.87 409.89h-1.7M49.87 499.14h-1.7M49.87 503.86h-1.7M49.87 496.78h-1.7M49.87 506.22h-1.7M49.87 494.42h-1.7M49.87 508.58h-1.7M49.87 492.06h-1.7M49.87 510.94h-1.7M49.87 400.87h-1.7" stroke="#000" stroke-width="1.05" fill="none"/>
<text x="63.5" y="525.5" font-size="7.6" fill="#5a5a5a" text-anchor="middle">0</text>
<text x="75.0" y="525.5" font-size="7.6" fill="#5a5a5a" text-anchor="middle">10</text>
<text x="79.6" y="522.6" font-size="6.2" fill="#5a5a5a">2</text>
<text x="103.2" y="525.5" font-size="7.6" fill="#5a5a5a" text-anchor="middle">10</text>
<text x="107.8" y="522.6" font-size="6.2" fill="#5a5a5a">3</text>
<text x="130.0" y="525.5" font-size="7.6" fill="#5a5a5a" text-anchor="middle">10</text>
<text x="134.6" y="522.6" font-size="6.2" fill="#5a5a5a">4</text>
<text x="156.0" y="525.5" font-size="7.6" fill="#5a5a5a" text-anchor="middle">10</text>
<text x="160.6" y="522.6" font-size="6.2" fill="#5a5a5a">5</text>
<text x="45.9" y="504.0" font-size="7.6" fill="#5a5a5a" text-anchor="end">0</text>
<text x="44.3" y="493.0" font-size="7.6" fill="#5a5a5a" text-anchor="end">10</text>
<text x="45.1" y="489.0" font-size="6.2" fill="#5a5a5a">2</text>
<text x="44.3" y="464.0" font-size="7.6" fill="#5a5a5a" text-anchor="end">10</text>
<text x="45.1" y="460.0" font-size="6.2" fill="#5a5a5a">3</text>
<text x="44.3" y="437.2" font-size="7.6" fill="#5a5a5a" text-anchor="end">10</text>
<text x="45.1" y="433.2" font-size="6.2" fill="#5a5a5a">4</text>
<text x="44.3" y="411.2" font-size="7.6" fill="#5a5a5a" text-anchor="end">10</text>
<text x="45.1" y="407.2" font-size="6.2" fill="#5a5a5a">5</text>
<rect x="99.2" y="497.5" width="23.9" height="11.3" fill="none" stroke="#000" stroke-width="1.55"/>
<text x="129.7" y="508.8" font-size="13.8" stroke="#000" stroke-width="0.22" textLength="17.64" lengthAdjust="spacingAndGlyphs">R1</text>
<text x="33.2" y="518.56" font-size="11.2" stroke="#000" stroke-width="0.1" textLength="121.12" lengthAdjust="spacingAndGlyphs" transform="rotate(-90 33.2 518.56)">CD38/Lineage cocktail 1</text>
<text x="82.96" y="543.6" font-size="20.89" stroke="#000" stroke-width="0.35" textLength="53.41" lengthAdjust="spacingAndGlyphs">CD34</text>
<rect x="218.4" y="397.85" width="118.50" height="117.25" fill="#fff"/>
<path d="M219.8 512.5L220.4 512.8L220.9 513.0L221.4 513.2L222.0 513.5L222.6 513.5L223.2 513.4L223.8 513.4L224.4 513.3L225.0 513.3L225.6 513.2L226.2 513.1L226.8 513.2L227.4 513.1L228.0 513.0L228.6 512.3L229.2 511.5L229.9 510.8L230.5 510.0L231.2 511.2L231.8 512.1L232.5 513.2L233.1 513.2L233.7 513.2L234.2 513.2L234.8 513.2L235.4 513.2L236.0 513.2L236.6 513.2L237.2 513.2L237.8 513.1L238.3 513.2L238.9 513.1L239.5 513.1L240.1 513.0L240.7 513.1L241.2 513.0L241.8 513.0L242.4 513.0L243.0 513.0L243.7 511.4L244.3 509.8L245.0 508.0L245.6 506.8L246.2 505.8L246.9 504.8L247.5 503.8L248.1 504.1L248.8 504.6L249.4 504.9L250.0 505.0L250.6 506.1L251.2 507.2L251.9 507.8L252.5 508.8L253.1 506.7L253.8 504.3L254.4 502.4L255.0 500.0L255.6 498.1L256.2 496.5L256.9 495.7L257.5 493.9L258.1 491.4L258.8 490.0L259.4 487.2L260.0 483.3L260.6 481.2L261.2 477.5L261.9 470.8L262.5 461.5L263.1 452.9L263.8 445.0L264.4 444.3L265.0 442.8L265.6 439.7L266.2 436.0L266.9 436.0L267.5 438.0L268.2 432.2L268.8 429.3L269.5 421.0L270.1 428.5L270.8 432.0L271.4 436.4L272.0 436.0L272.6 430.8L273.2 420.0L273.7 413.3L274.2 407.5L274.9 415.2L275.5 417.5L276.2 412.0L277.0 405.0L277.5 411.4L278.0 415.0L278.8 425.0L279.4 430.4L280.0 431.2L280.6 436.7L281.2 437.5L281.8 444.4L282.4 452.7L283.0 457.5L283.6 462.3L284.3 466.7L284.9 470.5L285.6 473.0L286.2 477.5L286.9 481.1L287.5 485.6L288.1 488.5L288.8 492.5L289.4 496.1L290.0 499.0L290.6 501.8L291.2 505.0L291.8 506.9L292.4 508.9L293.0 510.5L293.7 511.5L294.3 512.7L295.0 513.7L295.6 513.9L296.2 514.0L296.9 514.1L297.5 514.3L298.1 514.4L298.8 514.5L299.4 514.7L300.0 514.8L300.0 515.2L219.8 515.2Z" fill="#000" stroke="#000" stroke-width="0.8" stroke-linejoin="round"/>
<path d="M219.3 503.8L220.1 506.9L220.9 510.0L221.7 504.7L222.6 499.3L223.4 494.0L224.2 487.8L224.9 481.7L225.7 475.5L226.4 469.5L227.2 462.0L228.1 453.4L228.9 445.0L229.7 436.5L230.5 428.8L231.3 420.5L232.5 412.0L233.6 407.0L234.6 404.6L235.3 404.7L236.0 405.5L236.7 408.0L237.4 408.3L238.4 414.8L239.3 420.5L240.1 427.3L240.9 433.0L241.7 438.9L242.6 448.3L243.6 457.3L244.5 467.1L245.4 475.7L246.2 481.3L247.1 486.5L247.9 491.6L248.7 494.6L249.4 497.7L250.2 500.9L250.9 503.8L251.9 506.2L252.8 508.7L253.5 509.5L254.3 510.2L255.0 511.0" fill="none" stroke="#000" stroke-width="2.4" stroke-linejoin="round"/>
<rect x="218.4" y="397.85" width="118.50" height="117.25" fill="none" stroke="#000" stroke-width="1.45"/>
<path d="M232.00 515.53v2.6M243.80 515.53v2.6M272.00 515.53v2.6M298.80 515.53v2.6M324.80 515.53v2.6M217.98 515.10h-2.9M217.98 491.65h-2.9M217.98 468.20h-2.9M217.98 444.75h-2.9M217.98 421.30h-2.9M217.98 397.85h-2.9" stroke="#000" stroke-width="1.15" fill="none"/>
<path d="M252.29 515.53v1.8M257.25 515.53v1.8M260.78 515.53v1.8M263.51 515.53v1.8M265.74 515.53v1.8M267.63 515.53v1.8M269.27 515.53v1.8M270.71 515.53v1.8M280.07 515.53v1.8M284.79 515.53v1.8M288.14 515.53v1.8M290.73 515.53v1.8M292.85 515.53v1.8M294.65 515.53v1.8M296.20 515.53v1.8M297.57 515.53v1.8M306.63 515.53v1.8M311.21 515.53v1.8M314.45 515.53v1.8M316.97 515.53v1.8M319.03 515.53v1.8M320.77 515.53v1.8M322.28 515.53v1.8M323.61 515.53v1.8M234.36 515.53v1.8M229.64 515.53v1.8M236.72 515.53v1.8M227.28 515.53v1.8M239.08 515.53v1.8M224.92 515.53v1.8M241.44 515.53v1.8M222.56 515.53v1.8M332.63 515.53v1.8M217.98 509.24h-1.7M217.98 503.38h-1.7M217.98 497.51h-1.7M217.98 485.79h-1.7M217.98 479.93h-1.7M217.98 474.06h-1.7M217.98 462.34h-1.7M217.98 456.48h-1.7M217.98 450.61h-1.7M217.98 438.89h-1.7M217.98 433.02h-1.7M217.98 427.16h-1.7M217.98 415.44h-1.7M217.98 409.57h-1.7M217.98 403.71h-1.7" stroke="#000" stroke-width="1.05" fill="none"/>
<text x="231.6" y="525.5" font-size="7.6" fill="#5a5a5a" text-anchor="middle">0</text>
<text x="243.1" y="525.5" font-size="7.6" fill="#5a5a5a" text-anchor="middle">10</text>
<text x="247.7" y="522.6" font-size="6.2" fill="#5a5a5a">2</text>
<text x="271.3" y="525.5" font-size="7.6" fill="#5a5a5a" text-anchor="middle">10</text>
<text x="275.9" y="522.6" font-size="6.2" fill="#5a5a5a">3</text>
<text x="298.1" y="525.5" font-size="7.6" fill="#5a5a5a" text-anchor="middle">10</text>
<text x="302.7" y="522.6" font-size="6.2" fill="#5a5a5a">4</text>
<text x="324.1" y="525.5" font-size="7.6" fill="#5a5a5a" text-anchor="middle">10</text>
<text x="328.7" y="522.6" font-size="6.2" fill="#5a5a5a">5</text>
<text x="215.4" y="517.4" font-size="7.3" fill="#5a5a5a" text-anchor="end">0</text>
<text x="215.4" y="494.3" font-size="7.3" fill="#5a5a5a" text-anchor="end">20</text>
<text x="215.4" y="470.8" font-size="7.3" fill="#5a5a5a" text-anchor="end">40</text>
<text x="215.4" y="447.4" font-size="7.3" fill="#5a5a5a" text-anchor="end">60</text>
<text x="215.4" y="423.9" font-size="7.3" fill="#5a5a5a" text-anchor="end">80</text>
<text x="215.4" y="401.4" font-size="7.3" fill="#5a5a5a" text-anchor="end">100</text>
<text x="203.3" y="509.64" font-size="21.14" stroke="#000" stroke-width="0.35" textLength="88.11" lengthAdjust="spacingAndGlyphs" transform="rotate(-90 203.3 509.64)">% of Max</text>
<text x="248.84" y="544.2" font-size="21.22" stroke="#000" stroke-width="0.35" textLength="54.25" lengthAdjust="spacingAndGlyphs">CD33</text>
<rect x="381.4" y="397.85" width="118.35" height="117.25" fill="#fdfdfd"/>
<path transform="scale(.1)" d="M4448 4830h0M4340 4916h0M4297 4984h0M4378 4960h0M4334 4993h0M4327 4919h0M4316 4883h0M4251 4901h0M4296 4893h0M4328 4968h0M4241 5050h0M4292 4872h0M4263 4919h0M4322 4940h0M4242 4950h0M4404 4909h0M4311 4968h0M4293 4835h0M4341 4874h0M4352 4975h0M4414 4954h0M4236 4828h0M4298 4842h0M4240 4842h0M4335 4744h0M4156 4850h0M4243 4951h0M4384 4961h0M4294 5000h0M4322 4937h0M4372 4972h0M4284 4853h0M4365 4918h0M4406 5012h0M4201 4866h0M4423 4902h0M4268 4864h0M4330 4917h0M4302 4787h0M4427 4847h0M4411 4966h0M4271 4790h0M4266 4883h0M4299 4869h0M4293 4888h0M4302 4934h0M4303 4876h0M4298 4898h0M4210 4947h0M4362 4817h0M4221 4948h0M4404 4958h0M4331 4926h0M4386 4841h0M4321 4949h0M4252 4875h0M4304 4788h0M4298 5048h0M4322 4846h0M4359 4817h0M4297 4872h0M4281 4893h0M4365 4980h0M4366 4817h0M4340 4884h0M4297 4858h0M4212 4914h0M4354 5017h0M4422 4936h0M4298 4857h0M4308 4792h0M4387 4805h0M4380 4958h0M4317 4953h0M4303 4815h0M4281 4785h0M4279 4930h0M4339 4890h0M4359 4939h0M4432 4885h0M4375 4811h0M4373 4838h0M4293 5013h0M4351 4941h0M4301 4837h0M4242 4940h0M4337 4882h0M4277 4863h0M4210 5012h0M4301 4830h0M4209 4830h0M4195 4945h0M4307 4885h0M4258 4933h0M4248 4922h0M4393 4853h0M4355 4893h0M4341 4899h0M4324 4939h0M4294 4873h0M4313 4900h0M4391 4902h0M4409 4874h0M4282 4862h0M4198 4853h0M4315 4923h0M4382 4904h0M4231 5012h0M4352 4813h0M4245 4925h0M4420 4872h0M4424 4948h0M4331 4915h0M4397 4911h0M4340 4799h0M4314 4750h0M4290 4904h0M4315 4789h0M4260 4893h0M4236 4878h0M4437 4795h0M4313 4849h0M4276 4879h0M4329 4912h0M4340 4943h0M4374 4745h0M4257 4842h0M4270 4901h0M4344 4912h0M4375 4886h0M4281 4846h0M4228 4952h0M4288 4866h0M4320 4955h0M4390 4893h0M4407 4969h0M4345 4932h0M4259 4942h0M4293 4896h0M4371 4814h0M4315 4951h0M4303 4843h0M4349 4851h0M4352 5006h0M4303 4910h0M4396 4769h0M4237 4826h0M4352 4905h0M4373 4973h0M4296 4871h0M4282 4926h0M4317 4963h0M4320 4919h0M4200 4837h0M4323 4896h0M4361 4912h0M4244 4862h0M4252 4782h0M4341 4883h0M4290 4782h0M4411 4786h0M4339 4928h0M4350 4983h0M4328 4910h0M4368 4879h0M4299 4893h0M4284 4869h0M4272 4875h0M4272 4915h0M4260 4852h0M4376 4836h0M4278 4879h0M4344 4849h0M4337 4884h0M4290 4894h0M4308 4946h0M4323 4887h0M4289 4887h0M4270 4897h0M4339 4889h0M4264 4798h0M4333 4994h0M4318 4888h0M4377 4816h0M4331 4996h0M4295 5003h0M4374 4813h0M4259 4878h0M4240 4787h0M4344 4865h0M4304 4840h0M4354 4976h0M4349 4970h0M4349 4906h0M4298 4814h0M4278 4899h0M4364 4779h0M4233 4782h0M4376 4958h0M4348 4898h0M4356 4938h0M4393 4863h0M4263 4892h0M4442 4861h0M4314 4882h0M4345 4938h0M4326 4997h0M4238 4892h0M4362 4910h0M4222 4902h0M4365 4887h0M4298 4754h0M4306 4929h0M4243 4887h0M4358 4944h0M4223 4933h0M4266 5064h0M4311 4839h0M4302 4781h0M4241 4772h0M4313 4946h0M4328 4919h0M4298 4867h0M4326 4829h0M4266 4710h0M4189 4875h0M4385 4779h0M4237 4880h0M4312 4801h0M4326 5012h0M4234 4838h0M4252 4808h0M4261 4889h0M4361 4925h0M4152 4848h0M4370 4888h0M4410 4857h0M4345 4860h0M4260 4932h0M4378 4828h0M4157 4844h0M4186 4903h0M4259 4834h0M4302 4806h0M4280 4968h0M4268 4847h0M4315 4937h0M4288 4960h0M4236 4890h0M4312 4879h0M4339 4771h0M4301 4993h0M4257 4771h0M4456 4881h0M4265 4988h0M4463 4928h0M4196 4920h0M4394 5039h0M4324 4843h0M4419 4990h0M4266 4801h0M4281 4842h0M4448 4932h0M4416 4853h0M4227 4949h0M4318 4886h0M4325 4951h0M4364 4860h0M4407 4979h0M4318 5025h0M4071 4861h0M4130 4837h0M4087 5060h0M4193 4922h0M4215 4991h0M4368 5144h0M4369 4661h0M4198 4796h0M4082 4883h0M4208 5090h0M4026 4652h0M4492 4919h0M4389 4760h0M4172 4999h0M4250 4804h0M4122 4828h0M4346 4929h0M4525 4788h0M4407 4829h0M4192 4677h0M4391 4969h0M4107 4809h0M4227 4909h0M4224 4874h0M4290 4825h0M4495 4836h0M4313 5023h0M4265 4869h0M4213 4959h0M4476 4775h0M4160 4875h0M4146 4763h0M4271 4685h0M4192 4927h0M4180 4840h0M4383 4975h0M4565 4921h0M4497 4874h0M4314 4951h0M4219 4958h0M4136 4804h0M4456 5050h0M4270 4731h0M4153 4890h0M4149 4843h0M4214 5003h0M4394 4978h0M4462 4759h0M4108 5107h0M4232 4987h0M4399 5029h0M4079 4918h0M4257 4795h0" stroke="#333" stroke-width="7" stroke-linecap="square" fill="none" stroke-opacity="0.6"/>
<rect x="381.4" y="397.85" width="118.35" height="117.25" fill="none" stroke="#000" stroke-width="1.45"/>
<path d="M395.00 515.53v2.6M406.80 515.53v2.6M435.00 515.53v2.6M461.80 515.53v2.6M487.80 515.53v2.6M380.97 501.50h-3.4M380.97 489.70h-2.7M380.97 461.50h-2.7M380.97 434.70h-2.7M380.97 408.70h-2.7" stroke="#000" stroke-width="1.15" fill="none"/>
<path d="M415.29 515.53v1.8M420.25 515.53v1.8M423.78 515.53v1.8M426.51 515.53v1.8M428.74 515.53v1.8M430.63 515.53v1.8M432.27 515.53v1.8M433.71 515.53v1.8M443.07 515.53v1.8M447.79 515.53v1.8M451.14 515.53v1.8M453.73 515.53v1.8M455.85 515.53v1.8M457.65 515.53v1.8M459.20 515.53v1.8M460.57 515.53v1.8M469.63 515.53v1.8M474.21 515.53v1.8M477.45 515.53v1.8M479.97 515.53v1.8M482.03 515.53v1.8M483.77 515.53v1.8M485.28 515.53v1.8M486.61 515.53v1.8M397.36 515.53v1.8M392.64 515.53v1.8M399.72 515.53v1.8M390.28 515.53v1.8M402.08 515.53v1.8M387.92 515.53v1.8M404.44 515.53v1.8M385.56 515.53v1.8M495.63 515.53v1.8M380.97 481.21h-1.7M380.97 476.25h-1.7M380.97 472.72h-1.7M380.97 469.99h-1.7M380.97 467.76h-1.7M380.97 465.87h-1.7M380.97 464.23h-1.7M380.97 462.79h-1.7M380.97 453.43h-1.7M380.97 448.71h-1.7M380.97 445.36h-1.7M380.97 442.77h-1.7M380.97 440.65h-1.7M380.97 438.85h-1.7M380.97 437.30h-1.7M380.97 435.93h-1.7M380.97 426.87h-1.7M380.97 422.29h-1.7M380.97 419.05h-1.7M380.97 416.53h-1.7M380.97 414.47h-1.7M380.97 412.73h-1.7M380.97 411.22h-1.7M380.97 409.89h-1.7M380.97 499.14h-1.7M380.97 503.86h-1.7M380.97 496.78h-1.7M380.97 506.22h-1.7M380.97 494.42h-1.7M380.97 508.58h-1.7M380.97 492.06h-1.7M380.97 510.94h-1.7M380.97 400.87h-1.7" stroke="#000" stroke-width="1.05" fill="none"/>
<text x="394.6" y="525.5" font-size="7.6" fill="#5a5a5a" text-anchor="middle">0</text>
<text x="406.1" y="525.5" font-size="7.6" fill="#5a5a5a" text-anchor="middle">10</text>
<text x="410.7" y="522.6" font-size="6.2" fill="#5a5a5a">2</text>
<text x="434.3" y="525.5" font-size="7.6" fill="#5a5a5a" text-anchor="middle">10</text>
<text x="438.9" y="522.6" font-size="6.2" fill="#5a5a5a">3</text>
<text x="461.1" y="525.5" font-size="7.6" fill="#5a5a5a" text-anchor="middle">10</text>
<text x="465.7" y="522.6" font-size="6.2" fill="#5a5a5a">4</text>
<text x="487.1" y="525.5" font-size="7.6" fill="#5a5a5a" text-anchor="middle">10</text>
<text x="491.7" y="522.6" font-size="6.2" fill="#5a5a5a">5</text>
<text x="377.0" y="504.0" font-size="7.6" fill="#5a5a5a" text-anchor="end">0</text>
<text x="375.4" y="493.0" font-size="7.6" fill="#5a5a5a" text-anchor="end">10</text>
<text x="376.2" y="489.0" font-size="6.2" fill="#5a5a5a">2</text>
<text x="375.4" y="464.0" font-size="7.6" fill="#5a5a5a" text-anchor="end">10</text>
<text x="376.2" y="460.0" font-size="6.2" fill="#5a5a5a">3</text>
<text x="375.4" y="437.2" font-size="7.6" fill="#5a5a5a" text-anchor="end">10</text>
<text x="376.2" y="433.2" font-size="6.2" fill="#5a5a5a">4</text>
<text x="375.4" y="411.2" font-size="7.6" fill="#5a5a5a" text-anchor="end">10</text>
<text x="376.2" y="407.2" font-size="6.2" fill="#5a5a5a">5</text>
<path d="M412.9 397.85V515.1M381.4 483.1H499.75" stroke="#000" stroke-width="1.25" fill="none"/>
<text x="383.82" y="411.1" font-size="11.9" stroke="#000" stroke-width="0.1" textLength="16.54" lengthAdjust="spacingAndGlyphs">0.9</text>
<text x="475.78" y="411.1" font-size="11.9" stroke="#000" stroke-width="0.1" textLength="23.16" lengthAdjust="spacingAndGlyphs">19.5</text>
<text x="383.7" y="514.0" font-size="11.9" stroke="#000" stroke-width="0.1" textLength="16.54" lengthAdjust="spacingAndGlyphs">6.9</text>
<text x="475.84" y="514.0" font-size="11.9" stroke="#000" stroke-width="0.1" textLength="23.16" lengthAdjust="spacingAndGlyphs">72.6</text>
<text x="365.2" y="477.46" font-size="21.13" stroke="#000" stroke-width="0.35" textLength="65.77" lengthAdjust="spacingAndGlyphs" transform="rotate(-90 365.2 477.46)">CD123</text>
<text x="411.93" y="545.7" font-size="21.34" stroke="#000" stroke-width="0.35" textLength="54.56" lengthAdjust="spacingAndGlyphs">CD13</text>
</g>
<g id="panelD">
<text x="-1.11" y="576.9" font-size="29.4" stroke="#000" stroke-width="0.35" textLength="21.23" lengthAdjust="spacingAndGlyphs" font-weight="bold">D</text>
<clipPath id="c3"><rect x="50.3" y="567.3" width="118.75" height="117.20"/></clipPath>
<rect x="50.3" y="567.3" width="118.75" height="117.20" fill="#fdfdfd"/>
<g clip-path="url(#c3)">
<path d="M113.1 657.0L112.8 659.5L112.0 661.6L110.9 663.0L109.5 663.5L108.1 663.0L107.0 661.6L106.2 659.5L105.9 657.0L106.2 654.5L107.0 652.4L108.1 651.0L109.5 650.5L110.9 651.0L112.0 652.4L112.8 654.5Z" fill="#000" fill-opacity="0.55" filter="url(#b2)"/>
<path transform="scale(.1)" d="M676 6618h0M677 6458h0M709 6509h0M698 6300h0M605 6585h0M642 6414h0M747 6376h0M633 6636h0M719 6286h0M643 6572h0M725 6660h0M633 6491h0M595 6510h0M628 6582h0M601 6394h0M615 6507h0M533 6446h0M676 6516h0M678 6573h0M665 6648h0M633 6573h0M727 6527h0M609 6552h0M617 6440h0M612 6480h0M664 6516h0M547 6442h0M661 6567h0M705 6312h0M640 6262h0M642 6429h0M756 6424h0M739 6454h0M673 6478h0M694 6421h0M661 6353h0M649 6414h0M666 6396h0M684 6490h0M681 6551h0M657 6536h0M613 6459h0M624 6332h0M589 6631h0M629 6421h0M616 6286h0M653 6479h0M721 6513h0M660 6538h0M622 6442h0M694 6509h0M677 6570h0M653 6428h0M613 6548h0M570 6442h0M680 6344h0M668 6630h0M630 6446h0M733 6313h0M600 6534h0M594 6618h0M622 6511h0M726 6510h0M774 6669h0M572 6419h0M591 6327h0M620 6293h0M666 6244h0M730 6561h0M559 6536h0M612 6543h0M652 6399h0M653 6309h0M622 6512h0M651 6436h0M560 6355h0M646 6608h0M711 6563h0M711 6593h0M698 6597h0M603 6484h0M633 6344h0M730 6457h0M553 6529h0M699 6712h0M670 6467h0M599 6268h0M699 6587h0M675 6284h0M559 6554h0M622 6346h0M578 6592h0M644 6569h0M650 6436h0M671 6586h0M633 6405h0M583 6545h0M568 6620h0M634 6403h0M637 6690h0M646 6398h0M681 6242h0M644 6469h0M659 6369h0M686 6398h0M632 6480h0M618 6492h0M626 6602h0M609 6547h0M684 6394h0M690 6340h0M625 6406h0M633 6457h0M688 6714h0M661 6453h0M629 6624h0M698 6267h0M599 6299h0M715 6565h0M597 6420h0M590 6249h0M715 6466h0M715 6750h0M722 6507h0M646 6315h0M613 6543h0M678 6554h0M657 6586h0M609 6395h0M689 6522h0M621 6609h0M689 6399h0M649 6525h0M668 6502h0M654 6461h0M561 6430h0M551 6497h0M638 6446h0M601 6531h0M587 6581h0M699 6521h0M598 6463h0M596 6620h0M539 6315h0M707 6588h0M687 6626h0M624 6577h0M627 6216h0M621 6633h0M696 6429h0M712 6402h0M577 6512h0M691 6354h0M706 6777h0M752 6611h0M691 6579h0M703 6493h0M676 6428h0M616 6653h0M639 6369h0M623 6246h0M672 6479h0M642 6458h0M677 6482h0M563 6663h0M564 6552h0M717 6504h0M613 6543h0M640 6564h0M695 6283h0M658 6489h0M588 6450h0M707 6716h0M614 6484h0M653 6540h0M690 6458h0M567 6503h0M669 6616h0M761 6575h0M685 6563h0M687 6521h0M668 6440h0M583 6750h0M656 6427h0M667 6438h0M690 6428h0M654 6418h0M650 6596h0M700 6596h0M796 6464h0M649 6595h0M642 6531h0M619 6408h0M637 6426h0M675 6509h0M647 6444h0M597 6535h0M608 6685h0M624 6321h0M649 6624h0M616 6653h0M578 6593h0M644 6507h0M600 6467h0M614 6576h0M618 6379h0M660 6245h0M676 6384h0M655 6717h0M658 6527h0M610 6521h0M675 6333h0M613 6306h0M653 6381h0M743 6585h0M654 6409h0M719 6577h0M661 6342h0M662 6589h0M697 6606h0M641 6649h0M632 6624h0M704 6354h0M658 6636h0M659 6393h0M602 6570h0M630 6604h0M649 6584h0M642 6417h0M618 6595h0M665 6481h0M652 6444h0M680 6259h0M716 6609h0M657 6480h0M600 6510h0M678 6616h0M686 6385h0M565 6257h0M644 6462h0M639 6208h0M677 6685h0M718 6647h0M619 6439h0M574 6550h0M711 6453h0M606 6802h0M632 6519h0M612 6376h0M542 6416h0M634 6537h0M621 6385h0M683 6562h0M619 6268h0M740 6451h0M678 6349h0M642 6176h0M702 6476h0M665 6548h0M665 6491h0M592 6469h0M582 6425h0M612 6606h0M688 6681h0M549 6478h0M686 6630h0M587 6773h0M601 6596h0M587 6607h0M625 6563h0M639 6710h0M668 6400h0M563 6362h0M564 6510h0M696 6532h0M639 6470h0M663 6542h0M634 6447h0M739 6540h0M674 6336h0M708 6509h0M679 6463h0M696 6489h0M588 6698h0M654 6603h0M663 6437h0M602 6182h0M637 6574h0M727 6574h0M693 6400h0M697 6346h0M655 6410h0M605 6376h0M709 6586h0M648 6328h0M623 6279h0M602 6534h0M622 6203h0M821 6575h0M649 6761h0M582 6517h0M637 6539h0M704 6506h0M656 6511h0M675 6601h0M586 6470h0M653 6383h0M758 6612h0M686 6481h0M609 6528h0M656 6499h0M760 6514h0M674 6415h0M645 6463h0M725 6377h0M700 6564h0M653 6466h0M597 6476h0M676 6527h0M674 6487h0M669 6147h0M601 6288h0M634 6352h0M692 6608h0M646 6647h0M733 6600h0M709 6227h0M706 6430h0M688 6478h0M1025 6469h0M1105 6592h0M1134 6533h0M1110 6406h0M1093 6393h0M1219 6432h0M1218 6455h0M1001 6465h0M1125 6446h0M1119 6564h0M1050 6572h0M1000 6402h0M1191 6577h0M1125 6361h0M1111 6614h0M1183 6580h0M1179 6322h0M1080 6336h0M1090 6575h0M1062 6625h0M1181 6526h0M1237 6593h0M1079 6456h0M1168 6748h0M1145 6616h0M1158 6494h0M1180 6521h0M1065 6534h0M1189 6587h0M1152 6559h0M1066 6627h0M1253 6692h0M983 6459h0M1184 6543h0M1049 6603h0M1098 6343h0M1096 6658h0M1019 6480h0M1010 6531h0M1065 6411h0M1126 6423h0M1089 6512h0M999 6665h0M1028 6541h0M1108 6571h0M1119 6634h0M1202 6626h0M1129 6616h0M1068 6651h0M1086 6522h0M1148 6612h0M1183 6618h0M1099 6584h0M1136 6501h0M1056 6445h0M1234 6662h0M1163 6555h0M1081 6447h0M978 6433h0M990 6566h0M1150 6466h0M989 6579h0M1074 6477h0M1167 6446h0M1057 6581h0M1041 6673h0M1122 6513h0M1057 6648h0M1050 6484h0M1082 6566h0M1087 6570h0M982 6631h0M1052 6427h0M1143 6555h0M1019 6443h0M1075 6522h0M1088 6525h0M1027 6485h0M1038 6584h0M1094 6534h0M1077 6532h0M1055 6507h0M1079 6630h0M971 6378h0M1110 6531h0M1024 6620h0M1147 6425h0M946 6647h0M1094 6598h0M998 6451h0M1169 6498h0M1174 6463h0M1116 6511h0M1163 6648h0M1048 6570h0M1032 6617h0M1211 6553h0M1060 6536h0M1114 6431h0M1134 6599h0M954 6418h0M1033 6555h0M1018 6480h0M1093 6670h0M1115 6365h0M1104 6615h0M1133 6557h0M965 6603h0M1052 6404h0M1104 6481h0M1086 6535h0M1070 6555h0M1124 6737h0M1091 6557h0M1011 6506h0M1063 6449h0M1180 6454h0M1187 6599h0M1145 6650h0M1101 6589h0M1120 6545h0M1004 6472h0M1046 6674h0M1007 6542h0M1058 6447h0M1134 6588h0M1062 6498h0M1023 6622h0M1153 6571h0M1007 6529h0M1036 6493h0M1121 6556h0M1213 6706h0M963 6605h0M1059 6614h0M1000 6670h0M1172 6530h0M1117 6487h0M1143 6478h0M1063 6666h0M1070 6581h0M1084 6397h0M1071 6484h0M1043 6400h0M1059 6603h0M1110 6535h0M1041 6674h0M1171 6503h0M1007 6587h0M1020 6684h0M1065 6529h0M1004 6648h0M1121 6463h0M1180 6537h0M1018 6358h0M1021 6396h0M1077 6403h0M1004 6677h0M1172 6324h0M1056 6439h0M1013 6500h0M1019 6444h0M1170 6693h0M1146 6421h0M1035 6638h0M1114 6212h0M1117 6525h0M1165 6566h0M1066 6453h0M1030 6591h0M1105 6401h0M1108 6244h0M1041 6564h0M1132 6606h0M1003 6511h0M1182 6593h0M1129 6454h0M1049 6620h0M1097 6598h0M1178 6631h0M1103 6568h0M1094 6279h0M1087 6627h0M1107 6569h0M1172 6439h0M1128 6453h0M1122 6430h0M1011 6584h0M976 6584h0M1140 6410h0M969 6382h0M1180 6542h0M996 6506h0M1109 6622h0M1064 6659h0M1244 6337h0M913 6342h0M1097 6364h0M1058 6468h0M1124 6553h0M1099 6430h0M1073 6686h0M1151 6750h0M1065 6307h0M1011 6486h0M1136 6538h0M1117 6724h0M1044 6568h0M986 6396h0M1152 6464h0M1172 6491h0M1179 6299h0M1150 6643h0M1107 6624h0M1189 6478h0M1056 6424h0M1015 6667h0M1094 6617h0M1082 6437h0M1200 6494h0M1136 6700h0M1038 6530h0M1115 6505h0M988 6387h0M1147 6470h0M1218 6601h0M1108 6662h0M1194 6551h0M1123 6527h0M1096 6493h0M1101 6623h0M1027 6406h0M1030 6572h0M1156 6599h0M1052 6494h0M979 6305h0M1121 6660h0M918 6424h0M1012 6520h0M1083 6433h0M1045 6463h0M1071 6572h0M1113 6424h0M1058 6614h0M1180 6558h0M1121 6597h0M1148 6484h0M1199 6485h0M1188 6630h0M1092 6557h0M1033 6313h0M1155 6411h0M1027 6554h0M1048 6528h0M1028 6519h0M1044 6738h0M1139 6686h0M1059 6490h0M1054 6509h0M1117 6460h0M1036 6537h0M1127 6527h0M948 6440h0M1124 6618h0M1096 6529h0M989 6519h0M1104 6610h0M1079 6641h0M1003 6505h0M1229 6467h0M1130 6689h0M1170 6611h0M1101 6527h0M1018 6689h0M1056 6520h0M972 6472h0M1019 6496h0M1143 6340h0M1146 6444h0M1100 6568h0M1178 6502h0M1161 6492h0M982 6660h0M1156 6437h0M1018 6555h0M1137 6579h0M1061 6522h0M1117 6566h0M1051 6524h0M1162 6464h0M1001 6374h0M1168 6408h0M1113 6479h0M925 6549h0M1158 6565h0M1150 6521h0M986 6478h0M1144 6469h0M972 6488h0M1147 6504h0M1108 6531h0M1091 6307h0M1009 6509h0M1012 6473h0M1242 6642h0M1208 6508h0M1124 6314h0M1097 6433h0M1072 6669h0M1096 6508h0M1086 6602h0M1112 6682h0M1108 6480h0M1060 6673h0M1000 6504h0M1121 6471h0M1040 6576h0M1122 6350h0M1197 6575h0M1120 6485h0M1047 6634h0M1056 6506h0M966 6576h0M1173 6616h0M1064 6490h0M1058 6428h0M1070 6568h0M1020 6459h0M1071 6738h0M1037 6572h0M1158 6536h0M1077 6536h0M1117 6529h0M1018 6524h0M1100 6477h0M1146 6428h0M1193 6556h0M1051 6477h0M1100 6568h0M1161 6445h0M1058 6616h0M1134 6439h0M1172 6689h0M1120 6517h0M1031 6451h0M1106 6499h0M1035 6635h0M857 6473h0M1094 6392h0M1123 6569h0M1049 6638h0M1120 6529h0M1094 6564h0M1096 6591h0M1118 6523h0M1066 6435h0M1069 6625h0M1174 6495h0M1083 6383h0M1104 6595h0M977 6544h0M1137 6551h0M1080 6464h0M1068 6508h0M1117 6378h0M1084 6643h0M1070 6388h0M1052 6419h0M995 6431h0M1177 6459h0M1008 6545h0M1203 6575h0M1079 6591h0M1150 6566h0M1044 6498h0M1037 6531h0M1108 6613h0M1120 6437h0M1174 6424h0M1115 6506h0M1075 6458h0M1056 6597h0M1063 6716h0M1048 6331h0M1029 6431h0M947 6510h0M1048 6658h0M1088 6483h0M984 6402h0M1064 6256h0M1027 6702h0M1100 6559h0M1034 6463h0M1051 6635h0M1090 6378h0M1052 6571h0M961 6551h0M1257 6495h0M1084 6427h0M1113 6697h0M1079 6508h0M1110 6506h0M1035 6421h0M1154 6505h0M1084 6675h0M1179 6720h0M848 6550h0M1048 6426h0M1105 6517h0M1115 6504h0M1118 6495h0M1142 6490h0M1035 6636h0M1101 6547h0M1162 6662h0M1170 6396h0M1108 6640h0M960 6513h0M983 6400h0M1080 6495h0M1085 6215h0M1151 6591h0M1073 6409h0M1116 6663h0M1187 6667h0M1037 6570h0M1153 6459h0M1066 6540h0M1063 6534h0M1023 6442h0M1087 6490h0M1112 6638h0M1197 6481h0M1018 6345h0M1019 6463h0M1120 6769h0M1116 6484h0M1015 6517h0M1108 6369h0M1019 6481h0M1191 6516h0M1178 6584h0M978 6631h0M1040 6657h0M1128 6703h0M1113 6588h0M1071 6438h0M1001 6594h0M1026 6657h0M1160 6487h0M1138 6591h0M1117 6473h0M1066 6541h0M1119 6510h0M1123 6646h0M1135 6473h0M1045 6582h0M1045 6595h0M1154 6500h0M1080 6620h0M1118 6418h0M1182 6353h0M1022 6664h0M946 6659h0M1068 6560h0M1092 6558h0M1033 6523h0M1173 6614h0M996 6288h0M1123 6657h0M1078 6491h0M1083 6622h0M977 6379h0M1107 6618h0M1158 6498h0M1182 6530h0M1127 6614h0M1236 6643h0M1067 6597h0M1150 6444h0M1118 6480h0M1123 6571h0M1131 6547h0M1072 6492h0M1092 6479h0M1031 6443h0M1206 6684h0M1183 6473h0M1112 6546h0M1063 6544h0M1104 6422h0M1109 6430h0M1209 6662h0M1017 6541h0M1081 6318h0M1090 6646h0M1099 6598h0M1048 6486h0M1183 6390h0M1015 6547h0M1093 6420h0M1105 6540h0M1175 6549h0M1113 6581h0M1111 6581h0M1124 6517h0M1014 6474h0M1167 6477h0M1115 6397h0M1087 6485h0M1128 6540h0M1106 6433h0M1246 6580h0M1095 6626h0M1026 6377h0M1068 6423h0M1191 6467h0M1205 6691h0M1120 6619h0M1122 6447h0M1042 6604h0M1112 6628h0M1114 6558h0M1159 6577h0M1090 6504h0M1179 6452h0M1170 6572h0M1129 6440h0M1053 6500h0M1139 6546h0M1106 6332h0M989 6498h0M1177 6623h0M1109 6627h0M1161 6491h0M975 6474h0M1136 6506h0M1098 6557h0M1136 6358h0M1109 6624h0M1103 6586h0M1045 6530h0M1105 6648h0M1063 6423h0M1042 6601h0M1052 6621h0M1061 6615h0M1134 6532h0M1016 6625h0M1125 6541h0M1156 6466h0M1125 6627h0M1019 6606h0M1105 6399h0M1036 6580h0M1099 6605h0M1060 6459h0M1132 6540h0M1136 6674h0M1154 6493h0M1056 6690h0M1156 6543h0M1073 6556h0M1080 6634h0M1170 6613h0M1138 6473h0M961 6681h0M1005 6490h0M1110 6542h0M1134 6560h0M1099 6472h0M1091 6608h0M1008 6550h0M1183 6711h0M1131 6305h0M1104 6617h0M1131 6537h0M1036 6657h0M1115 6452h0M1073 6456h0M1078 6451h0M1095 6475h0M1129 6644h0M1087 6422h0M1020 6526h0M1145 6432h0M1190 6525h0M1174 6525h0M1112 6577h0M1058 6652h0M1003 6319h0M1101 6438h0M1071 6497h0M1068 6626h0M968 6504h0M1038 6688h0M1050 6617h0M1211 6376h0M1162 6523h0M1060 6660h0M537 6250h0M1012 6570h0M987 6513h0M1162 6558h0M857 6392h0M1262 6337h0M1233 6266h0M737 6641h0M1071 6402h0M760 6405h0M1165 6590h0M1086 6642h0M689 6398h0M1165 6694h0M828 6671h0M770 6524h0M576 6360h0M672 6391h0M1181 6667h0M935 6636h0M708 6556h0M1185 6453h0M1202 6707h0M853 6407h0M714 6688h0M582 6572h0M759 6288h0M552 6492h0M1065 6402h0M857 6685h0M1159 6659h0M627 6654h0M894 6625h0M1000 6352h0M827 6321h0M993 6242h0M1275 6704h0M648 6531h0M972 6568h0M1258 6429h0M1091 6386h0M983 6425h0M646 6274h0M1011 6711h0M622 6616h0M852 6726h0M1142 6247h0M778 6560h0M1078 6400h0M932 6299h0M697 6686h0M854 6418h0M800 6561h0M523 6528h0M1170 6584h0M1139 6367h0M751 6482h0M709 6371h0M736 6669h0M1170 6566h0M543 6291h0M1120 6459h0M1175 6256h0M557 6420h0M1051 6662h0M1170 6346h0M1228 6386h0M554 6718h0M833 6628h0M887 6360h0M547 6421h0M643 6566h0M886 6697h0M926 6694h0M980 6267h0M1089 6684h0M1248 6620h0M1040 6488h0M708 6524h0M879 6411h0M903 6628h0M1018 6591h0M899 6408h0M1057 6331h0M790 6593h0M793 6657h0M885 6564h0M815 6622h0M552 6666h0M1263 6373h0M734 6506h0M900 6630h0M628 6382h0M1116 6483h0M820 6571h0M544 6452h0M877 6441h0M911 6305h0M1101 6498h0M1047 6514h0M1143 6433h0M811 6399h0M743 6662h0M853 6308h0M1071 6647h0M765 6701h0M683 6645h0M1071 6404h0M1111 6661h0M724 6507h0M1037 6516h0M547 6407h0M1262 6366h0M1100 6273h0M1235 6312h0M1104 6556h0M631 6558h0M1121 6740h0M538 6696h0M946 6383h0M667 6388h0M840 6317h0M690 6442h0M759 6384h0M1019 6500h0M1265 6243h0M978 6249h0M1028 6677h0M991 6543h0M1140 6546h0M1113 6642h0M635 6645h0M1078 6570h0M1173 6652h0M793 6307h0M1197 6390h0M862 6547h0M1174 6732h0M764 6393h0M1106 6248h0M628 6393h0M969 6476h0M602 6504h0M923 6428h0M740 6276h0M676 6349h0M904 6544h0M606 6260h0M1045 6635h0M654 6673h0M962 6517h0M1230 6420h0M927 6594h0M693 6399h0M905 6698h0M674 6454h0M1109 6291h0M856 6459h0M543 6282h0M530 6492h0M648 6496h0M1048 6683h0M598 6585h0M937 6693h0M755 6614h0M1043 6555h0M936 6637h0M644 6432h0M1205 6324h0M671 6503h0M859 6662h0M1224 6342h0M539 6422h0M1172 6521h0M1161 6507h0M799 6666h0M1188 6315h0M734 6403h0M1253 6594h0M775 6641h0M850 6433h0M889 6435h0M850 6670h0M1013 6523h0M1247 6696h0M741 6660h0M1203 6730h0M994 6264h0M823 6669h0M961 6466h0M1053 6619h0M1070 6350h0M624 6287h0M999 6637h0M1095 6530h0M904 6516h0M1162 6375h0M797 6594h0M666 6634h0M792 6512h0M799 6375h0M1008 6634h0M651 6291h0M946 6655h0M695 6274h0M692 6253h0M630 6451h0M612 6340h0M591 6633h0M1134 6423h0M778 6479h0M659 6316h0M1230 6272h0M1089 6278h0M816 6242h0M1179 6527h0M1156 6578h0M1210 6621h0M892 6326h0M1008 6448h0M1145 6681h0M1056 6419h0M1243 6377h0M540 6723h0M630 6483h0M848 6736h0M1155 6727h0M987 6640h0M591 6419h0M1179 6456h0M884 6496h0M1137 6563h0M546 6438h0M591 6458h0M1152 6461h0M533 6530h0M752 6379h0M716 6241h0M805 6381h0M586 6614h0M555 6644h0M1265 6358h0M794 6626h0M1118 6661h0M978 6723h0M1047 6647h0M1222 6424h0M554 6527h0M950 6588h0M620 6514h0M1141 6292h0M627 6410h0M1183 6500h0M722 6629h0M585 6629h0M1031 6329h0M1215 6452h0M1195 6583h0M619 6686h0M561 6323h0M952 6616h0M867 6535h0M1030 6477h0M605 6576h0M1085 6352h0M771 6575h0M614 6243h0M800 6324h0M773 6600h0M1011 6408h0M1019 6246h0M866 6432h0M612 6581h0M1130 6282h0M527 6241h0M963 6322h0M1024 6553h0M1258 6576h0M640 6734h0M1182 6670h0M1139 6477h0M710 6680h0M1048 6383h0M1132 6280h0M1006 6392h0M577 6597h0M1131 6302h0M1103 6522h0M1207 6441h0M581 6739h0M1136 6616h0M801 6330h0M643 6433h0M882 6390h0M522 6398h0M1039 6527h0M1135 6698h0M1209 6285h0M532 6467h0M901 6612h0M987 6323h0M770 6405h0M722 6361h0M1187 6739h0M731 6445h0M1130 6674h0M787 6509h0M1018 6342h0M866 6250h0M1028 6401h0M816 6246h0M709 6401h0M589 6328h0M1259 6438h0M799 6571h0M833 6464h0M611 6472h0M1142 6642h0M841 6263h0M908 6267h0M566 6341h0M1110 6375h0M1057 6403h0M640 6331h0M749 6518h0M1224 6270h0M768 6667h0M741 6677h0M616 6635h0M1243 6437h0M546 6393h0M708 6432h0M591 6247h0M1239 6610h0M1210 6154h0M623 6719h0M929 6807h0M689 6621h0M824 6603h0M1375 6334h0M905 6312h0M1277 6357h0M1064 6164h0M692 6721h0M1330 6672h0M758 6415h0M567 6705h0M1112 6438h0M1313 6755h0M720 6423h0M594 6294h0M899 6552h0M1126 6595h0M710 6249h0M1177 6224h0M1220 6609h0M664 6501h0M1256 6493h0M1324 6617h0M659 6188h0" stroke="#000" stroke-width="8" stroke-linecap="square" fill="none" stroke-opacity="0.5"/>
<path transform="scale(.1)" d="M663 6735h0M662 6709h0M657 6671h0M656 6654h0M592 6663h0M616 6686h0M641 6611h0M643 6701h0M660 6653h0M622 6637h0M612 6705h0M576 6684h0M610 6693h0M561 6654h0M632 6665h0M650 6743h0M599 6677h0M628 6704h0M643 6662h0M667 6718h0M640 6719h0M599 6705h0M625 6641h0M633 6655h0M611 6683h0M656 6728h0M643 6669h0M649 6723h0M634 6652h0M639 6682h0M655 6643h0M646 6708h0M641 6644h0M650 6675h0M627 6654h0M659 6680h0M603 6657h0M619 6710h0M671 6667h0M627 6669h0M652 6684h0M623 6638h0M612 6672h0M628 6638h0M646 6643h0M636 6647h0M617 6655h0M602 6610h0M605 6683h0M587 6710h0M656 6717h0M623 6617h0M601 6662h0M658 6709h0M629 6712h0M637 6696h0M629 6666h0M653 6702h0M608 6674h0M575 6713h0M571 6621h0M627 6719h0M654 6660h0M637 6664h0M660 6648h0M673 6693h0M631 6686h0M658 6663h0M626 6647h0M624 6664h0M651 6724h0M600 6671h0M645 6627h0M626 6659h0M635 6742h0M604 6656h0M619 6646h0M615 6724h0M640 6688h0M646 6620h0M638 6644h0M654 6625h0M584 6639h0M659 6640h0M624 6724h0M667 6726h0M648 6682h0M594 6703h0M656 6604h0M583 6684h0M633 6665h0M647 6671h0M624 6640h0M656 6691h0M673 6727h0M646 6637h0M663 6660h0M629 6711h0M649 6670h0M636 6664h0M631 6662h0M630 6680h0M662 6676h0M639 6656h0M635 6621h0M650 6671h0M623 6664h0M625 6675h0M649 6709h0M638 6690h0M647 6692h0M654 6622h0M626 6657h0M660 6663h0M618 6771h0M651 6679h0M623 6655h0M621 6671h0M618 6734h0M606 6631h0M651 6667h0M632 6671h0M635 6695h0M671 6655h0M626 6666h0M634 6699h0M598 6677h0M669 6687h0M665 6712h0M620 6704h0M600 6710h0M663 6669h0M615 6683h0M624 6693h0M682 6702h0M655 6674h0M661 6632h0M603 6684h0M648 6672h0M639 6609h0M636 6705h0M641 6690h0M661 6661h0M652 6675h0M621 6693h0M624 6698h0M603 6621h0M664 6661h0M657 6657h0M593 6680h0M625 6707h0M605 6676h0M600 6688h0M604 6640h0M636 6640h0M655 6685h0M664 6639h0M657 6636h0M603 6666h0M601 6640h0M656 6704h0M654 6655h0M611 6696h0M690 6637h0M640 6721h0M663 6642h0M647 6707h0M655 6629h0M609 6646h0M617 6604h0M645 6666h0M642 6662h0M648 6635h0M607 6675h0M630 6686h0M628 6670h0M636 6679h0M646 6665h0M690 6716h0M670 6704h0M599 6673h0M615 6732h0M640 6695h0M637 6695h0M632 6644h0M671 6710h0M622 6746h0M678 6689h0M615 6656h0M624 6723h0M633 6665h0M665 6711h0M655 6684h0M629 6700h0M626 6702h0M644 6703h0M622 6643h0M637 6684h0M669 6683h0M630 6626h0M637 6637h0M651 6649h0M651 6724h0M649 6699h0M631 6691h0M680 6711h0M601 6716h0M643 6674h0M661 6682h0M644 6657h0M635 6630h0M620 6702h0M639 6707h0M620 6668h0M636 6681h0M615 6656h0M624 6642h0M609 6696h0M603 6629h0M639 6710h0M672 6706h0M627 6733h0M647 6679h0M660 6639h0M626 6698h0M643 6666h0M641 6631h0M631 6694h0M650 6642h0M647 6658h0M582 6669h0M637 6729h0M665 6697h0M625 6692h0M630 6680h0M644 6635h0M634 6720h0M663 6711h0M652 6631h0M641 6683h0M647 6623h0M639 6711h0M623 6664h0M616 6647h0M625 6671h0M643 6705h0M627 6645h0M654 6672h0M628 6682h0M612 6671h0M616 6677h0M643 6749h0M615 6693h0M599 6656h0M600 6680h0M675 6709h0M604 6671h0M622 6676h0M639 6695h0M625 6718h0M608 6531h0M648 6549h0M661 6484h0M684 6569h0M729 6463h0M650 6541h0M598 6375h0M616 6401h0M704 6617h0M648 6432h0M632 6798h0M636 6560h0M643 6538h0M622 6589h0M605 6577h0M636 6618h0M679 6418h0M620 6643h0M656 6599h0M732 6540h0M652 6572h0M606 6513h0M609 6603h0M612 6557h0M676 6452h0M683 6338h0M678 6666h0M675 6480h0M740 6562h0M633 6646h0M623 6403h0M667 6649h0M604 6489h0M574 6397h0M679 6571h0M663 6546h0M647 6423h0M654 6560h0M586 6730h0M682 6488h0M684 6626h0M632 6607h0M636 6660h0M717 6549h0M551 6547h0M669 6403h0M618 6477h0M707 6544h0M679 6449h0M662 6475h0M717 6471h0M595 6701h0M606 6319h0M685 6495h0M657 6615h0M694 6677h0M702 6579h0M666 6506h0M691 6567h0M621 6722h0M660 6369h0M641 6349h0M635 6380h0M623 6521h0M645 6676h0M667 6276h0M609 6617h0M631 6553h0M651 6627h0M636 6405h0M653 6619h0M703 6504h0M608 6529h0M658 6515h0M679 6626h0M621 6486h0M689 6495h0M645 6621h0M576 6508h0M670 6520h0M677 6555h0M637 6738h0M625 6567h0M616 6494h0M666 6483h0M617 6466h0M606 6407h0M610 6513h0M718 6488h0M611 6513h0M711 6371h0M685 6412h0M625 6366h0M644 6506h0M710 6474h0M655 6467h0M570 6473h0M604 6590h0M635 6358h0M658 6519h0M637 6559h0M645 6436h0M623 6507h0M642 6320h0M644 6476h0M667 6685h0M636 6509h0M647 6506h0M613 6420h0M630 6510h0M670 6621h0M682 6549h0M646 6554h0M630 6613h0M684 6690h0M687 6746h0M592 6530h0M658 6571h0M658 6512h0M693 6597h0M682 6432h0M654 6677h0M625 6521h0M725 6545h0M607 6506h0M614 6421h0M699 6481h0M685 6539h0M689 6682h0M677 6576h0M630 6556h0M637 6490h0M649 6697h0M629 6547h0M660 6524h0M650 6567h0M641 6745h0M679 6546h0M637 6721h0M653 6469h0M634 6346h0M634 6529h0M661 6452h0M648 6637h0M678 6552h0M653 6553h0M711 6676h0M596 6577h0M647 6453h0M676 6592h0M622 6527h0M680 6676h0M607 6531h0M709 6672h0M585 6423h0M695 6424h0M651 6536h0M670 6532h0M661 6691h0M644 6545h0M1053 6566h0M1111 6496h0M1073 6588h0M1193 6629h0M1122 6565h0M1159 6505h0M1160 6650h0M1157 6445h0M1127 6680h0M1041 6634h0M1133 6496h0M1058 6539h0M1132 6504h0M1082 6467h0M995 6614h0M1114 6575h0M1051 6455h0M1060 6604h0M1071 6523h0M1183 6510h0M1156 6491h0M1087 6614h0M1096 6642h0M1076 6645h0M1024 6660h0M1096 6617h0M1070 6452h0M1013 6595h0M1108 6622h0M1023 6537h0M1005 6679h0M1015 6616h0M1018 6515h0M1028 6548h0M1121 6643h0M1063 6641h0M1062 6589h0M1135 6520h0M1167 6589h0M1158 6482h0M1098 6558h0M1167 6605h0M1047 6738h0M1116 6521h0M1145 6643h0M1133 6723h0M1099 6473h0M1140 6626h0M1067 6469h0M1035 6562h0M1224 6550h0M1100 6597h0M1107 6486h0M1068 6533h0M1171 6518h0M1065 6560h0M1076 6520h0M1147 6645h0M1125 6600h0M1147 6549h0M1146 6653h0M1091 6584h0M1119 6570h0M1023 6519h0M1091 6604h0M1077 6664h0M1035 6474h0M1098 6504h0M1111 6617h0M1075 6583h0M1052 6596h0M1064 6493h0M1050 6599h0M1079 6632h0M1079 6688h0M1133 6613h0M1080 6574h0M1105 6485h0M1131 6556h0M1001 6580h0M1024 6537h0M999 6535h0M1048 6695h0M1060 6437h0M1194 6602h0M1055 6589h0M1136 6603h0M1088 6585h0M996 6693h0M1036 6609h0M1115 6526h0M1026 6629h0M1042 6504h0M1114 6667h0M1079 6565h0M1162 6333h0M1061 6665h0M1100 6571h0M1156 6458h0M1099 6444h0M1106 6438h0M1114 6501h0M1068 6689h0M1074 6596h0M1065 6616h0M1106 6586h0M1064 6543h0M1039 6534h0M1091 6625h0M1125 6580h0M1154 6595h0M1142 6513h0M996 6525h0M1117 6633h0M1088 6507h0M1070 6566h0M1039 6484h0M1002 6551h0M1054 6633h0M1077 6560h0M1061 6597h0M1064 6492h0M1075 6527h0M1101 6568h0M1169 6510h0M1141 6717h0M1184 6594h0M1091 6516h0M1136 6562h0M1136 6512h0M1129 6509h0M1088 6641h0M1075 6543h0M1050 6582h0M983 6533h0M1115 6650h0M1102 6611h0M1051 6511h0M1046 6499h0M1066 6646h0M1125 6395h0M1013 6740h0M1061 6406h0M1153 6572h0M1086 6557h0M1128 6550h0M1104 6579h0M1088 6520h0M1032 6521h0M1135 6524h0M1044 6666h0M1124 6510h0M1058 6576h0M1141 6616h0M1156 6575h0M1099 6482h0M1081 6619h0M1048 6605h0M1142 6561h0M1133 6502h0M1038 6553h0M1104 6459h0M1146 6535h0M1068 6511h0M1078 6502h0M1056 6524h0M1026 6650h0M1110 6606h0M1137 6756h0M1073 6562h0M1119 6644h0M1065 6616h0M1104 6560h0M1112 6420h0M1072 6652h0M1071 6538h0M1031 6564h0M1164 6463h0M1026 6506h0M1098 6607h0M1050 6525h0M1068 6577h0M1163 6679h0M1101 6499h0M1030 6460h0M1079 6446h0M1104 6539h0M1092 6623h0M1129 6676h0M1155 6556h0M1055 6574h0M1059 6667h0M1086 6449h0M1066 6556h0M1101 6571h0M1135 6528h0M1125 6560h0M1096 6639h0M1067 6613h0M1173 6586h0M1134 6514h0M1105 6653h0M1191 6531h0M1131 6517h0M1072 6668h0M1043 6502h0M1135 6520h0M1030 6600h0M1015 6570h0M1050 6606h0M1010 6592h0M1063 6561h0M1070 6514h0M1127 6538h0M1040 6564h0M1030 6603h0M1074 6534h0M1139 6659h0M1129 6547h0M999 6646h0M1132 6638h0M1088 6620h0M1042 6457h0M1012 6606h0M1135 6402h0M1135 6576h0M1092 6412h0M1099 6603h0M1029 6608h0M1010 6558h0M1120 6511h0M1131 6550h0M1105 6514h0M1062 6515h0M1113 6469h0M1095 6528h0M1069 6619h0M1108 6498h0M999 6533h0M1049 6520h0M1099 6477h0M1149 6549h0M1149 6541h0M1036 6550h0M1101 6568h0M1172 6669h0M1041 6488h0M1025 6571h0M1069 6509h0M1088 6555h0M1045 6596h0M1085 6600h0M1081 6565h0M1031 6468h0M1029 6578h0M1123 6597h0M1049 6582h0M1155 6620h0M1117 6576h0M1096 6695h0M1141 6619h0M1165 6538h0M1042 6617h0M1052 6674h0M1063 6531h0M1171 6441h0M1118 6513h0M1124 6496h0M1159 6486h0M1051 6641h0M1096 6506h0M1007 6656h0M1187 6518h0M1109 6711h0M1126 6542h0M1139 6604h0M1091 6457h0M1044 6422h0M1127 6546h0M1152 6599h0M1087 6570h0M1112 6565h0M1001 6544h0M1175 6617h0M1150 6691h0M1134 6537h0M1107 6603h0M1154 6589h0M1091 6632h0M1017 6527h0M1101 6518h0M1133 6606h0M1184 6476h0M1135 6540h0M1057 6488h0M1088 6672h0M1087 6611h0M1035 6594h0M1166 6617h0M1105 6461h0M1089 6575h0M1079 6599h0M1026 6491h0M1000 6776h0M1043 6491h0M1089 6434h0M1052 6598h0M1144 6529h0M1077 6683h0M1058 6485h0M1091 6489h0M1058 6521h0M1054 6660h0M1097 6501h0M1068 6491h0M1156 6649h0M1119 6603h0M1147 6694h0M992 6600h0M1042 6547h0M1102 6473h0M1102 6611h0M1068 6611h0M1126 6615h0M1124 6559h0M1079 6550h0M1063 6467h0M1151 6513h0M1043 6656h0M973 6625h0M1091 6619h0M1092 6384h0M1139 6523h0M1056 6561h0M1136 6529h0M1121 6488h0M1029 6615h0M1081 6553h0M1163 6592h0M1109 6641h0M1160 6527h0M1090 6637h0M1055 6581h0M1071 6639h0M1123 6468h0M1136 6702h0M1054 6384h0M1061 6536h0M1140 6592h0M1048 6610h0M1169 6571h0M1144 6571h0M1012 6512h0M1142 6681h0M1033 6645h0M1121 6665h0M1079 6560h0M1045 6714h0M1157 6529h0M1101 6581h0M1086 6643h0M1029 6554h0M1121 6476h0M1101 6572h0M1079 6666h0M1057 6473h0M1174 6483h0M1097 6477h0M1136 6567h0M1100 6587h0M1114 6610h0M1057 6486h0M1117 6483h0M1061 6604h0M1109 6495h0M1136 6557h0M1110 6452h0M1063 6651h0M1082 6501h0M1140 6578h0M1119 6561h0M1111 6733h0M1081 6596h0M1120 6659h0M1136 6516h0M1082 6527h0M1185 6422h0M1059 6619h0M1084 6391h0M1080 6663h0M1087 6599h0M1179 6600h0M1134 6600h0M1119 6557h0M1133 6487h0M1156 6701h0M1102 6546h0M1134 6491h0M1147 6517h0M1133 6546h0M1121 6681h0M1199 6565h0M1069 6521h0M1106 6557h0M1229 6491h0M1153 6500h0M1161 6436h0M1103 6662h0M1053 6584h0M1104 6425h0M1094 6556h0M1117 6611h0M1140 6483h0M1060 6516h0M1118 6609h0M1057 6604h0M1130 6507h0M1034 6540h0M1184 6600h0M1144 6406h0M1027 6529h0M1165 6484h0M1176 6607h0M1088 6575h0M1089 6560h0M1159 6524h0M992 6567h0M1023 6617h0M993 6746h0M1145 6490h0M1031 6596h0M1133 6570h0M1190 6573h0M1104 6494h0M1092 6838h0M1083 6567h0M1048 6656h0M1083 6432h0M1076 6677h0M1206 6551h0M1167 6510h0M1037 6588h0M1139 6578h0M1056 6517h0M1131 6628h0M1066 6512h0M1101 6697h0M1076 6584h0M1101 6537h0M1051 6573h0M1157 6492h0M1060 6657h0M1106 6684h0M1101 6562h0M1039 6612h0M1107 6547h0M1047 6473h0M1112 6592h0M1122 6632h0M1072 6544h0M1038 6593h0M1028 6501h0M1035 6548h0M1095 6723h0M1051 6522h0M1010 6552h0M1085 6608h0M1076 6506h0M1192 6711h0M1139 6488h0M1096 6583h0M1106 6442h0M1078 6623h0M1113 6496h0M1147 6508h0M1141 6625h0M1071 6562h0M1135 6597h0M1074 6477h0M1100 6560h0M1063 6436h0M1131 6593h0M1112 6528h0M1058 6582h0M1000 6682h0M1073 6581h0M1057 6467h0M1165 6595h0M1099 6566h0M1092 6407h0M1157 6568h0M1112 6575h0M1122 6540h0M1103 6557h0M1178 6623h0M1102 6445h0M1103 6639h0M1065 6612h0M1102 6662h0M1126 6582h0M1035 6525h0M1055 6515h0M1092 6403h0M1158 6533h0M1102 6505h0M1032 6561h0M1020 6382h0M1165 6698h0M1110 6648h0M1123 6571h0M1092 6693h0M1116 6578h0M1058 6610h0M1136 6728h0M1030 6590h0M1098 6558h0M1110 6629h0M1096 6483h0M1042 6603h0M1081 6486h0M1147 6554h0M1044 6502h0M1115 6608h0M1095 6523h0M1134 6620h0M1003 6599h0M1071 6529h0M1025 6551h0M1081 6410h0M1046 6684h0M969 6526h0M1143 6561h0M1116 6592h0M1049 6425h0M1047 6473h0M1080 6507h0M1063 6547h0M1123 6410h0M1056 6563h0M1091 6747h0M1084 6573h0M1137 6478h0M1155 6507h0M1116 6501h0M1060 6575h0M1126 6568h0M1111 6639h0M1113 6632h0M1102 6570h0M1150 6641h0M1097 6575h0M1170 6535h0M1087 6515h0M1164 6628h0M1164 6681h0M986 6445h0M1047 6566h0M1127 6527h0M1158 6419h0M1087 6451h0M1097 6629h0M1002 6630h0M1102 6478h0M1167 6575h0M1052 6477h0M1062 6613h0M1092 6687h0M1105 6609h0M1138 6504h0M1180 6404h0M1100 6600h0M1120 6575h0M1086 6446h0M1080 6591h0M1004 6531h0M1143 6520h0M1120 6547h0M1055 6495h0M1110 6654h0M1094 6675h0M1091 6533h0M1145 6578h0M1078 6397h0M1081 6459h0M1150 6657h0M1111 6673h0M1037 6396h0M1044 6624h0M1051 6545h0M1037 6534h0M1144 6656h0M1115 6606h0M1066 6493h0M1125 6583h0M1049 6657h0M1133 6504h0M1120 6598h0M1074 6527h0M1140 6489h0M1137 6519h0M1165 6612h0M1065 6518h0M1065 6538h0M1104 6416h0M1084 6451h0M1114 6484h0M1036 6618h0M1147 6612h0M1070 6553h0M1053 6648h0M1012 6519h0M1141 6689h0M1093 6526h0M1171 6612h0M1169 6660h0M1024 6655h0M1097 6775h0M1094 6519h0M1057 6661h0M1037 6496h0M1049 6567h0M1128 6392h0M1099 6635h0M1034 6493h0M1074 6344h0M1083 6471h0M1122 6628h0M1055 6577h0M1053 6443h0M1080 6651h0M1061 6586h0M1110 6647h0M1085 6668h0M1102 6588h0M1154 6528h0M1063 6618h0M1056 6588h0M1109 6562h0M1093 6531h0M1069 6454h0M1136 6745h0M1153 6758h0M1108 6638h0M1130 6607h0M1156 6562h0M1101 6515h0M1146 6559h0M1089 6609h0M1135 6551h0M1165 6366h0M1063 6618h0M1082 6576h0M1151 6706h0M1125 6575h0M1152 6539h0M1077 6561h0M1075 6728h0M1039 6594h0M1072 6634h0M1091 6411h0M1079 6480h0M1029 6496h0M1064 6638h0M1022 6549h0M1117 6641h0M1121 6471h0M1125 6562h0M1022 6574h0M1124 6654h0M1033 6531h0M1163 6531h0M1132 6548h0M1081 6560h0M1110 6571h0M1166 6476h0M1117 6688h0M1072 6530h0M997 6539h0M1020 6642h0M1128 6583h0M1125 6458h0M1090 6631h0M1011 6558h0M1051 6565h0M1149 6579h0M1150 6669h0M1151 6515h0M1085 6536h0M1091 6681h0M1102 6526h0M1056 6648h0M1083 6470h0M1056 6631h0M1114 6482h0M1147 6604h0M1178 6525h0M1107 6677h0M1118 6335h0M1052 6484h0M1133 6597h0M1085 6492h0M1136 6696h0M1159 6500h0M1057 6500h0M1081 6566h0M1061 6466h0M1081 6582h0M1142 6496h0M1124 6527h0M1082 6593h0M1043 6532h0M1078 6626h0M1129 6709h0M1114 6447h0M1058 6536h0M1021 6573h0M1100 6554h0M1215 6590h0M1085 6642h0M1143 6447h0M1111 6655h0M1135 6598h0M1064 6674h0M1154 6616h0M1045 6609h0M1118 6653h0M1146 6533h0M1104 6644h0M1115 6663h0M986 6740h0M1157 6570h0M1071 6591h0M1100 6753h0M1030 6646h0M1040 6597h0M1117 6558h0M1087 6483h0M1084 6543h0M1093 6521h0M1003 6539h0M1082 6517h0M1032 6556h0M1169 6587h0M1109 6541h0M1071 6535h0M1150 6528h0M1072 6475h0M1025 6604h0M1144 6576h0M1131 6560h0M1012 6560h0M1089 6496h0M1143 6562h0M1068 6665h0M1067 6469h0M1082 6578h0M1061 6516h0M1153 6629h0M1093 6545h0M1118 6465h0M1117 6540h0M1080 6667h0M1021 6596h0M1091 6447h0M1133 6626h0M1169 6521h0M1108 6571h0M1119 6629h0M1140 6491h0M1139 6520h0M1159 6635h0M1106 6669h0M1100 6579h0M1056 6609h0M1124 6495h0M1090 6454h0M1085 6522h0M1078 6753h0M1157 6539h0M1086 6525h0M1193 6519h0M1083 6555h0M1113 6518h0M1094 6509h0M1075 6516h0M1061 6578h0M1100 6501h0M1148 6407h0M1149 6420h0M1048 6666h0M1140 6552h0M974 6404h0M1043 6486h0M1094 6640h0M1135 6498h0M1185 6564h0M1097 6530h0M1118 6515h0M1203 6647h0M1085 6532h0M1110 6628h0M1143 6477h0M1079 6594h0M1018 6633h0M1037 6543h0M1206 6538h0M1105 6487h0M1107 6635h0M1150 6525h0M1090 6632h0M1086 6611h0M1108 6441h0M1104 6573h0M1065 6549h0M1178 6682h0M1162 6643h0M1069 6522h0M1058 6544h0M1077 6606h0M1178 6620h0M1053 6574h0M1162 6502h0M1256 6363h0M1095 6599h0M1067 6545h0M1032 6504h0M1123 6426h0M1109 6594h0M1062 6606h0M1072 6600h0M1069 6653h0M1074 6664h0M1061 6600h0M1047 6590h0M1071 6603h0M1135 6599h0M1141 6591h0M1045 6474h0M1075 6617h0M1108 6579h0M1125 6668h0M1018 6608h0M1007 6636h0M1198 6601h0M1088 6589h0M1056 6540h0M1094 6681h0M1155 6573h0M1028 6479h0M1129 6583h0M1116 6581h0M1063 6638h0M1092 6533h0M994 6515h0M1090 6352h0M1096 6523h0M1048 6466h0M1018 6716h0M1026 6601h0M1083 6634h0M1133 6482h0M1121 6559h0M1090 6673h0M1022 6627h0M1012 6589h0M999 6701h0M1088 6538h0M1123 6368h0M1091 6567h0M1143 6438h0M1055 6594h0M1136 6514h0M1118 6520h0M1018 6485h0M1168 6636h0M1086 6602h0M1068 6762h0M1034 6542h0M1118 6492h0M1047 6568h0M1198 6505h0M1024 6484h0M1080 6502h0M1121 6564h0M1035 6483h0M1156 6493h0M1139 6455h0M1147 6492h0M1096 6676h0M1038 6609h0M1028 6455h0M1112 6453h0M1076 6456h0M1092 6412h0M1061 6501h0M1093 6522h0M1055 6636h0M1043 6532h0M1130 6495h0M1123 6494h0M1092 6610h0M1066 6497h0M1137 6563h0M1111 6520h0M1077 6379h0M1119 6499h0M1136 6653h0M1124 6451h0M1098 6554h0M1004 6494h0M1113 6660h0M1086 6570h0M1131 6536h0M1127 6610h0M1169 6560h0M1060 6535h0M1105 6487h0M1078 6685h0M921 6483h0M1111 6518h0M1076 6577h0M1133 6727h0M1080 6519h0M1073 6585h0M1105 6686h0M1113 6474h0M1010 6540h0M1112 6525h0M1072 6477h0M1195 6774h0M1020 6513h0M1097 6538h0M1076 6433h0M1036 6471h0M1041 6485h0M1100 6530h0M1033 6698h0M1121 6560h0M1082 6531h0M1122 6595h0M1060 6516h0M1062 6483h0M1139 6443h0M1183 6805h0M1042 6526h0M1053 6546h0M1055 6543h0M1123 6502h0M1069 6524h0M1070 6519h0M1036 6770h0M1063 6533h0M1090 6434h0M1099 6567h0M1061 6656h0M1096 6448h0M1058 6639h0M1054 6713h0M1110 6657h0M1136 6682h0M1082 6562h0M1140 6545h0M1112 6546h0M1127 6522h0M1134 6547h0M1073 6444h0M1143 6647h0M1185 6459h0M1094 6416h0M1101 6575h0M1131 6453h0M1048 6583h0M1162 6583h0M1133 6662h0M1093 6603h0M1118 6544h0M1085 6536h0M1083 6647h0M1173 6459h0M1001 6569h0M1089 6467h0M1063 6545h0M1173 6609h0M1230 6696h0M1084 6434h0M1038 6640h0M1098 6611h0M1032 6438h0M1117 6523h0M1120 6591h0M1125 6641h0M1038 6553h0M1098 6629h0M1125 6527h0M1059 6592h0M1078 6689h0M1101 6606h0M1127 6573h0M1060 6606h0M1130 6658h0M671 6726h0M812 6446h0M803 6707h0M852 6354h0M1016 6545h0M535 6311h0M536 6706h0M633 6295h0M752 6683h0M1201 6629h0M592 6585h0M845 6582h0M540 6342h0M926 6462h0M898 6375h0M765 6625h0M966 6480h0M1182 6450h0M994 6733h0M1145 6737h0M1218 6459h0M577 6426h0M938 6690h0M559 6565h0M751 6630h0M1006 6616h0M1095 6508h0M1268 6351h0M1178 6285h0M1272 6689h0M678 6524h0M868 6616h0M578 6710h0M1129 6733h0M852 6649h0M1036 6598h0M605 6278h0M1013 6624h0M1145 6566h0" stroke="#000" stroke-width="8.5" stroke-linecap="square" fill="none"/>
</g>
<rect x="50.3" y="567.3" width="118.75" height="117.20" fill="none" stroke="#000" stroke-width="1.45"/>
<path d="M63.90 684.93v2.6M75.70 684.93v2.6M103.90 684.93v2.6M130.70 684.93v2.6M156.70 684.93v2.6M49.87 670.90h-3.4M49.87 659.10h-2.7M49.87 630.90h-2.7M49.87 604.10h-2.7M49.87 578.10h-2.7" stroke="#000" stroke-width="1.15" fill="none"/>
<path d="M84.19 684.93v1.8M89.15 684.93v1.8M92.68 684.93v1.8M95.41 684.93v1.8M97.64 684.93v1.8M99.53 684.93v1.8M101.17 684.93v1.8M102.61 684.93v1.8M111.97 684.93v1.8M116.69 684.93v1.8M120.04 684.93v1.8M122.63 684.93v1.8M124.75 684.93v1.8M126.55 684.93v1.8M128.10 684.93v1.8M129.47 684.93v1.8M138.53 684.93v1.8M143.11 684.93v1.8M146.35 684.93v1.8M148.87 684.93v1.8M150.93 684.93v1.8M152.67 684.93v1.8M154.18 684.93v1.8M155.51 684.93v1.8M66.26 684.93v1.8M61.54 684.93v1.8M68.62 684.93v1.8M59.18 684.93v1.8M70.98 684.93v1.8M56.82 684.93v1.8M73.34 684.93v1.8M54.46 684.93v1.8M164.53 684.93v1.8M49.87 650.61h-1.7M49.87 645.65h-1.7M49.87 642.12h-1.7M49.87 639.39h-1.7M49.87 637.16h-1.7M49.87 635.27h-1.7M49.87 633.63h-1.7M49.87 632.19h-1.7M49.87 622.83h-1.7M49.87 618.11h-1.7M49.87 614.76h-1.7M49.87 612.17h-1.7M49.87 610.05h-1.7M49.87 608.25h-1.7M49.87 606.70h-1.7M49.87 605.33h-1.7M49.87 596.27h-1.7M49.87 591.69h-1.7M49.87 588.45h-1.7M49.87 585.93h-1.7M49.87 583.87h-1.7M49.87 582.13h-1.7M49.87 580.62h-1.7M49.87 579.29h-1.7M49.87 668.54h-1.7M49.87 673.26h-1.7M49.87 666.18h-1.7M49.87 675.62h-1.7M49.87 663.82h-1.7M49.87 677.98h-1.7M49.87 661.46h-1.7M49.87 680.34h-1.7M49.87 570.27h-1.7" stroke="#000" stroke-width="1.05" fill="none"/>
<text x="63.5" y="694.9" font-size="7.6" fill="#5a5a5a" text-anchor="middle">0</text>
<text x="75.0" y="694.9" font-size="7.6" fill="#5a5a5a" text-anchor="middle">10</text>
<text x="79.6" y="692.0" font-size="6.2" fill="#5a5a5a">2</text>
<text x="103.2" y="694.9" font-size="7.6" fill="#5a5a5a" text-anchor="middle">10</text>
<text x="107.8" y="692.0" font-size="6.2" fill="#5a5a5a">3</text>
<text x="130.0" y="694.9" font-size="7.6" fill="#5a5a5a" text-anchor="middle">10</text>
<text x="134.6" y="692.0" font-size="6.2" fill="#5a5a5a">4</text>
<text x="156.0" y="694.9" font-size="7.6" fill="#5a5a5a" text-anchor="middle">10</text>
<text x="160.6" y="692.0" font-size="6.2" fill="#5a5a5a">5</text>
<text x="45.9" y="673.4" font-size="7.6" fill="#5a5a5a" text-anchor="end">0</text>
<text x="44.3" y="662.4" font-size="7.6" fill="#5a5a5a" text-anchor="end">10</text>
<text x="45.1" y="658.4" font-size="6.2" fill="#5a5a5a">2</text>
<text x="44.3" y="633.4" font-size="7.6" fill="#5a5a5a" text-anchor="end">10</text>
<text x="45.1" y="629.4" font-size="6.2" fill="#5a5a5a">3</text>
<text x="44.3" y="606.6" font-size="7.6" fill="#5a5a5a" text-anchor="end">10</text>
<text x="45.1" y="602.6" font-size="6.2" fill="#5a5a5a">4</text>
<text x="44.3" y="580.6" font-size="7.6" fill="#5a5a5a" text-anchor="end">10</text>
<text x="45.1" y="576.6" font-size="6.2" fill="#5a5a5a">5</text>
<rect x="96.1" y="671.2" width="28.9" height="14.0" fill="none" stroke="#000" stroke-width="1.55"/>
<text x="129.68" y="680.8" font-size="13.97" stroke="#000" stroke-width="0.22" textLength="17.86" lengthAdjust="spacingAndGlyphs">R1</text>
<text x="35.2" y="644.89" font-size="21.83" stroke="#000" stroke-width="0.35" textLength="55.80" lengthAdjust="spacingAndGlyphs" transform="rotate(-90 35.2 644.89)">CD38</text>
<text x="80.41" y="713" font-size="21.82" stroke="#000" stroke-width="0.35" textLength="55.78" lengthAdjust="spacingAndGlyphs">CD34</text>
<rect x="218.4" y="567.3" width="118.50" height="117.20" fill="#fff"/>
<path d="M264.0 684.0L264.6 683.9L265.1 683.7L265.7 683.6L266.3 683.4L266.9 683.3L267.4 683.2L268.0 683.0L268.6 682.6L269.3 682.2L269.9 681.8L270.6 681.5L271.2 681.0L271.9 680.3L272.5 679.6L273.1 678.8L273.8 678.1L274.4 677.2L275.0 676.5L275.6 675.9L276.2 675.0L276.9 673.5L277.5 671.9L278.1 669.9L278.8 668.3L279.4 666.6L280.0 665.0L280.6 660.5L281.2 656.2L281.9 651.7L282.5 647.5L283.1 640.5L283.8 634.4L284.4 626.7L285.0 620.0L285.6 613.6L286.2 606.2L286.9 599.7L287.5 592.5L288.1 589.1L288.7 585.2L289.2 580.0L290.0 577.8L290.8 573.8L291.3 577.9L291.9 581.4L292.5 582.5L293.2 593.1L293.8 604.0L294.5 615.0L295.1 625.4L295.7 636.7L296.2 647.5L296.9 655.1L297.6 662.5L298.2 670.0L298.8 672.9L299.4 675.5L299.9 678.3L300.5 681.0L301.1 681.7L301.8 682.3L302.4 682.9L303.1 683.6L303.8 684.2L303.8 684.6L264.0 684.6Z" fill="#000" stroke="#000" stroke-width="0.8" stroke-linejoin="round"/>
<path d="M219.3 673.9L220.0 671.5L220.8 669.0L221.5 666.7L222.2 664.0L223.0 657.8L223.8 652.0L224.5 645.6L225.3 639.3L226.1 633.9L226.9 629.3L227.6 623.6L228.4 618.2L229.2 613.7L229.9 609.8L230.7 604.8L231.5 599.7L232.3 595.6L233.1 591.8L233.9 587.3L234.6 578.0L235.3 588.0L236.0 575.5L236.7 587.0L237.3 574.5L238.0 573.7L238.7 586.0L239.4 575.5L240.1 588.5L240.8 579.0L241.5 590.0L242.1 589.9L242.6 589.8L243.3 596.0L243.9 596.8L244.5 596.7L245.1 596.0L245.7 603.0L246.3 608.6L246.9 614.5L247.5 620.5L248.2 627.0L248.8 633.0L249.4 639.3L250.2 645.1L250.9 650.4L251.7 656.2L252.5 661.5L253.1 664.7L253.8 667.7L254.4 670.8L255.0 673.9L255.8 675.6L256.6 677.4L257.3 679.0L258.1 680.7L258.8 681.0L259.5 681.3L260.2 681.5L260.9 681.8L261.6 682.0L262.3 682.3L263.0 682.6L263.7 682.6L264.4 682.5L265.1 682.5L265.8 682.4L266.4 682.4L267.1 682.3L267.8 682.3L268.5 682.2L269.2 682.2L269.9 682.4L270.6 682.5L271.3 682.6L271.9 682.8L272.6 682.9L273.3 683.1L274.0 683.2L274.7 683.2L275.4 683.2L276.1 683.2L276.8 683.2L277.5 683.2L278.2 683.2L278.9 683.3L279.6 683.3L280.3 683.3L281.0 683.3L281.7 683.3L282.4 683.3L283.1 683.3L283.8 683.3L284.5 683.3L285.2 683.3L285.9 683.3L286.6 683.3L287.3 683.3L288.0 683.3L288.7 683.4L289.4 683.3L290.1 683.3L290.8 683.4L291.5 683.4L292.2 683.4L292.9 683.4L293.6 683.4L294.3 683.4L295.0 683.4L295.7 683.4L296.4 683.4L297.1 683.4L297.8 683.4L298.5 683.4L299.2 683.4L299.9 683.4L300.6 683.5L301.3 683.5L302.0 683.5L302.7 683.5L303.4 683.5L304.1 683.5L304.8 683.5L305.5 683.5L306.2 683.5L306.9 683.5L307.6 683.5L308.3 683.5L309.0 683.5L309.7 683.5L310.4 683.5L311.1 683.6L311.8 683.6L312.5 683.6L313.2 683.6L313.9 683.6L314.6 683.6L315.3 683.6L316.0 683.6L316.7 683.6L317.4 683.6L318.1 683.6L318.8 683.6L319.5 683.6L320.2 683.6L320.9 683.7L321.6 683.7L322.3 683.7L323.0 683.7L323.7 683.7L324.4 683.7L325.1 683.7L325.8 683.7L326.5 683.7L327.2 683.7L327.9 683.7L328.6 683.7L329.3 683.7L330.0 683.7L330.7 683.7L331.4 683.7L332.1 683.8L332.8 683.8L333.5 683.8L334.2 683.8L334.9 683.8L335.6 683.8L336.3 683.8L337.0 683.8" fill="none" stroke="#000" stroke-width="2.4" stroke-linejoin="round"/>
<rect x="218.4" y="567.3" width="118.50" height="117.20" fill="none" stroke="#000" stroke-width="1.45"/>
<path d="M232.00 684.93v2.6M243.80 684.93v2.6M272.00 684.93v2.6M298.80 684.93v2.6M324.80 684.93v2.6M217.98 684.50h-2.9M217.98 661.06h-2.9M217.98 637.62h-2.9M217.98 614.18h-2.9M217.98 590.74h-2.9M217.98 567.30h-2.9" stroke="#000" stroke-width="1.15" fill="none"/>
<path d="M252.29 684.93v1.8M257.25 684.93v1.8M260.78 684.93v1.8M263.51 684.93v1.8M265.74 684.93v1.8M267.63 684.93v1.8M269.27 684.93v1.8M270.71 684.93v1.8M280.07 684.93v1.8M284.79 684.93v1.8M288.14 684.93v1.8M290.73 684.93v1.8M292.85 684.93v1.8M294.65 684.93v1.8M296.20 684.93v1.8M297.57 684.93v1.8M306.63 684.93v1.8M311.21 684.93v1.8M314.45 684.93v1.8M316.97 684.93v1.8M319.03 684.93v1.8M320.77 684.93v1.8M322.28 684.93v1.8M323.61 684.93v1.8M234.36 684.93v1.8M229.64 684.93v1.8M236.72 684.93v1.8M227.28 684.93v1.8M239.08 684.93v1.8M224.92 684.93v1.8M241.44 684.93v1.8M222.56 684.93v1.8M332.63 684.93v1.8M217.98 678.64h-1.7M217.98 672.78h-1.7M217.98 666.92h-1.7M217.98 655.20h-1.7M217.98 649.34h-1.7M217.98 643.48h-1.7M217.98 631.76h-1.7M217.98 625.90h-1.7M217.98 620.04h-1.7M217.98 608.32h-1.7M217.98 602.46h-1.7M217.98 596.60h-1.7M217.98 584.88h-1.7M217.98 579.02h-1.7M217.98 573.16h-1.7" stroke="#000" stroke-width="1.05" fill="none"/>
<text x="231.6" y="694.9" font-size="7.6" fill="#5a5a5a" text-anchor="middle">0</text>
<text x="243.1" y="694.9" font-size="7.6" fill="#5a5a5a" text-anchor="middle">10</text>
<text x="247.7" y="692.0" font-size="6.2" fill="#5a5a5a">2</text>
<text x="271.3" y="694.9" font-size="7.6" fill="#5a5a5a" text-anchor="middle">10</text>
<text x="275.9" y="692.0" font-size="6.2" fill="#5a5a5a">3</text>
<text x="298.1" y="694.9" font-size="7.6" fill="#5a5a5a" text-anchor="middle">10</text>
<text x="302.7" y="692.0" font-size="6.2" fill="#5a5a5a">4</text>
<text x="324.1" y="694.9" font-size="7.6" fill="#5a5a5a" text-anchor="middle">10</text>
<text x="328.7" y="692.0" font-size="6.2" fill="#5a5a5a">5</text>
<text x="215.4" y="686.8" font-size="7.3" fill="#5a5a5a" text-anchor="end">0</text>
<text x="215.4" y="663.7" font-size="7.3" fill="#5a5a5a" text-anchor="end">20</text>
<text x="215.4" y="640.2" font-size="7.3" fill="#5a5a5a" text-anchor="end">40</text>
<text x="215.4" y="616.8" font-size="7.3" fill="#5a5a5a" text-anchor="end">60</text>
<text x="215.4" y="593.3" font-size="7.3" fill="#5a5a5a" text-anchor="end">80</text>
<text x="215.4" y="570.8" font-size="7.3" fill="#5a5a5a" text-anchor="end">100</text>
<text x="203.3" y="679.04" font-size="21.14" stroke="#000" stroke-width="0.35" textLength="88.11" lengthAdjust="spacingAndGlyphs" transform="rotate(-90 203.3 679.04)">% of Max</text>
<text x="248.84" y="713.6" font-size="21.22" stroke="#000" stroke-width="0.35" textLength="54.25" lengthAdjust="spacingAndGlyphs">CD33</text>
<rect x="381.4" y="567.3" width="118.35" height="117.20" fill="#fdfdfd"/>
<path transform="scale(.1)" d="M4447 6339h0M4384 6279h0M4439 6317h0M4485 6354h0M4440 6313h0M4437 6317h0M4565 6292h0M4460 6381h0M4513 6454h0M4497 6409h0M4542 6380h0M4488 6428h0M4505 6468h0M4459 6339h0M4436 6299h0M4418 6291h0M4470 6370h0M4539 6265h0M4451 6310h0M4441 6360h0M4424 6384h0M4480 6341h0M4524 6353h0M4333 6330h0M4482 6282h0M4416 6388h0M4496 6330h0M4443 6374h0M4423 6356h0M4485 6381h0M4439 6378h0M4422 6350h0M4478 6311h0M4509 6315h0M4410 6376h0M4538 6281h0M4415 6425h0M4441 6253h0M4515 6425h0M4528 6359h0M4420 6432h0M4505 6347h0M4427 6365h0M4399 6385h0M4460 6372h0M4479 6354h0M4507 6341h0M4471 6404h0M4542 6406h0M4550 6327h0M4388 6288h0M4600 6396h0M4572 6302h0M4479 6429h0M4488 6391h0M4457 6328h0M4428 6316h0M4403 6369h0M4462 6357h0M4367 6337h0M4422 6298h0M4408 6367h0M4417 6347h0M4559 6308h0M4524 6351h0M4424 6381h0M4437 6398h0M4465 6364h0M4465 6360h0M4440 6369h0M4496 6373h0M4382 6422h0M4436 6298h0M4403 6325h0M4400 6408h0M4503 6434h0M4388 6394h0M4471 6369h0M4497 6425h0M4404 6291h0M4517 6418h0M4497 6394h0M4467 6349h0M4481 6355h0M4475 6427h0M4514 6350h0M4534 6305h0M4478 6384h0M4376 6363h0M4404 6417h0M4456 6386h0M4490 6368h0M4434 6335h0M4479 6301h0M4469 6388h0M4479 6380h0M4458 6292h0M4508 6344h0M4399 6409h0M4449 6399h0M4524 6340h0M4534 6367h0M4494 6348h0M4420 6375h0M4468 6334h0M4452 6291h0M4420 6415h0M4478 6352h0M4445 6406h0M4402 6408h0M4456 6449h0M4449 6391h0M4566 6389h0M4455 6332h0M4361 6363h0M4422 6398h0M4410 6352h0M4471 6404h0M4407 6379h0M4348 6360h0M4434 6306h0M4456 6334h0M4439 6448h0M4350 6310h0M4561 6402h0M4434 6449h0M4463 6399h0M4470 6403h0M4470 6260h0M4546 6398h0M4441 6414h0M4484 6380h0M4450 6419h0M4363 6339h0M4442 6422h0M4493 6408h0M4460 6379h0M4387 6347h0M4404 6391h0M4458 6415h0M4571 6325h0M4466 6379h0M4469 6410h0M4418 6376h0M4490 6360h0M4519 6429h0M4467 6413h0M4456 6420h0M4573 6416h0M4445 6463h0M4544 6361h0M4464 6433h0M4478 6308h0M4389 6351h0M4485 6494h0M4553 6409h0M4450 6330h0M4391 6276h0M4510 6330h0M4513 6337h0M4417 6408h0M4474 6394h0M4453 6291h0M4396 6438h0M4372 6278h0M4484 6407h0M4448 6242h0M4512 6485h0M4458 6403h0M4478 6402h0M4551 6340h0M4422 6387h0M4491 6257h0M4343 6432h0M4444 6255h0M4515 6333h0M4560 6351h0M4507 6369h0M4530 6379h0M4450 6257h0M4459 6354h0M4462 6466h0M4437 6424h0M4458 6383h0M4505 6348h0M4401 6283h0M4463 6412h0M4399 6395h0M4488 6278h0M4510 6418h0M4443 6308h0M4425 6409h0M4534 6363h0M4424 6389h0M4594 6292h0M4473 6392h0M4432 6325h0M4477 6398h0M4544 6352h0M4443 6301h0M4446 6336h0M4540 6277h0M4389 6363h0M4394 6373h0M4470 6345h0M4419 6347h0M4497 6363h0M4507 6357h0M4483 6432h0M4454 6330h0M4481 6402h0M4525 6351h0M4511 6507h0M4452 6339h0M4514 6425h0M4518 6406h0M4550 6360h0M4488 6401h0M4475 6370h0M4510 6383h0M4515 6389h0M4430 6312h0M4494 6398h0M4449 6417h0M4450 6376h0M4563 6445h0M4519 6317h0M4475 6337h0M4457 6375h0M4531 6278h0M4492 6345h0M4466 6408h0M4491 6316h0M4465 6388h0M4358 6323h0M4573 6357h0M4439 6454h0M4428 6325h0M4495 6261h0M4392 6307h0M4422 6305h0M4510 6353h0M4434 6474h0M4452 6415h0M4486 6411h0M4529 6388h0M4510 6343h0M4504 6350h0M4492 6468h0M4463 6351h0M4535 6388h0M4523 6407h0M4545 6429h0M4573 6308h0M4422 6331h0M4433 6339h0M4398 6373h0M4414 6379h0M4443 6373h0M4366 6258h0M4406 6370h0M4511 6437h0M4426 6285h0M4452 6293h0M4520 6402h0M4535 6347h0M4459 6329h0M4387 6474h0M4430 6393h0M4492 6376h0M4461 6348h0M4444 6418h0M4466 6294h0M4434 6353h0M4365 6398h0M4489 6313h0M4417 6270h0M4535 6441h0M4423 6404h0M4494 6410h0M4493 6356h0M4417 6399h0M4415 6320h0M4532 6297h0M4421 6362h0M4492 6418h0M4500 6420h0M4453 6395h0M4413 6398h0M4510 6409h0M4481 6466h0M4526 6329h0M4572 6392h0M4584 6377h0M4418 6266h0M4462 6336h0M4472 6292h0M4447 6384h0M4398 6410h0M4508 6373h0M4529 6336h0M4414 6471h0M4475 6357h0M4480 6425h0M4450 6362h0M4415 6310h0M4419 6439h0M4459 6397h0M4450 6404h0M4359 6408h0M4468 6401h0M4462 6360h0M4469 6358h0M4401 6360h0M4537 6431h0M4470 6345h0M4455 6479h0M4454 6373h0M4464 6389h0M4433 6430h0M4455 6351h0M4424 6422h0M4431 6317h0M4428 6420h0M4552 6423h0M4580 6340h0M4455 6310h0M4435 6364h0M4408 6412h0M4556 6248h0M4450 6432h0M4401 6303h0M4453 6389h0M4452 6417h0M4499 6339h0M4546 6451h0M4510 6395h0M4504 6312h0M4458 6343h0M4455 6341h0M4448 6390h0M4440 6388h0M4496 6296h0M4458 6401h0M4451 6414h0M4486 6338h0M4424 6338h0M4499 6315h0M4493 6326h0M4371 6337h0M4502 6349h0M4496 6363h0M4378 6365h0M4525 6335h0M4403 6424h0M4528 6325h0M4466 6396h0M4492 6294h0M4512 6329h0M4513 6378h0M4402 6300h0M4529 6348h0M4512 6315h0M4486 6414h0M4452 6394h0M4455 6387h0M4493 6375h0M4492 6359h0M4443 6296h0M4464 6417h0M4495 6409h0M4482 6358h0M4536 6378h0M4333 6405h0M4390 6320h0M4435 6373h0M4465 6424h0M4448 6387h0M4357 6325h0M4435 6297h0M4523 6597h0M4382 6485h0M4422 6581h0M4431 6546h0M4396 6620h0M4481 6603h0M4460 6567h0M4434 6599h0M4421 6596h0M4444 6626h0M4427 6619h0M4431 6566h0M4436 6568h0M4512 6609h0M4397 6525h0M4428 6683h0M4457 6554h0M4489 6621h0M4565 6656h0M4485 6557h0M4486 6696h0M4447 6615h0M4378 6508h0M4432 6607h0M4457 6601h0M4552 6256h0M4592 6643h0M4622 6313h0M4598 6276h0M4440 6435h0M4458 6445h0M4488 6321h0M4452 6341h0M4442 6361h0M4221 6399h0M4579 6418h0M4537 6445h0M4224 6389h0M4744 6161h0M4478 6341h0M4268 6423h0M4305 6395h0M4564 6470h0M4608 6396h0M4412 6457h0M4317 6252h0M4509 6356h0M4487 6461h0M4356 6368h0M4381 6398h0M4505 6452h0M4505 6432h0M4451 6328h0M4489 6244h0M4474 6595h0" stroke="#333" stroke-width="7" stroke-linecap="square" fill="none" stroke-opacity="0.6"/>
<rect x="381.4" y="567.3" width="118.35" height="117.20" fill="none" stroke="#000" stroke-width="1.45"/>
<path d="M395.00 684.93v2.6M406.80 684.93v2.6M435.00 684.93v2.6M461.80 684.93v2.6M487.80 684.93v2.6M380.97 670.90h-3.4M380.97 659.10h-2.7M380.97 630.90h-2.7M380.97 604.10h-2.7M380.97 578.10h-2.7" stroke="#000" stroke-width="1.15" fill="none"/>
<path d="M415.29 684.93v1.8M420.25 684.93v1.8M423.78 684.93v1.8M426.51 684.93v1.8M428.74 684.93v1.8M430.63 684.93v1.8M432.27 684.93v1.8M433.71 684.93v1.8M443.07 684.93v1.8M447.79 684.93v1.8M451.14 684.93v1.8M453.73 684.93v1.8M455.85 684.93v1.8M457.65 684.93v1.8M459.20 684.93v1.8M460.57 684.93v1.8M469.63 684.93v1.8M474.21 684.93v1.8M477.45 684.93v1.8M479.97 684.93v1.8M482.03 684.93v1.8M483.77 684.93v1.8M485.28 684.93v1.8M486.61 684.93v1.8M397.36 684.93v1.8M392.64 684.93v1.8M399.72 684.93v1.8M390.28 684.93v1.8M402.08 684.93v1.8M387.92 684.93v1.8M404.44 684.93v1.8M385.56 684.93v1.8M495.63 684.93v1.8M380.97 650.61h-1.7M380.97 645.65h-1.7M380.97 642.12h-1.7M380.97 639.39h-1.7M380.97 637.16h-1.7M380.97 635.27h-1.7M380.97 633.63h-1.7M380.97 632.19h-1.7M380.97 622.83h-1.7M380.97 618.11h-1.7M380.97 614.76h-1.7M380.97 612.17h-1.7M380.97 610.05h-1.7M380.97 608.25h-1.7M380.97 606.70h-1.7M380.97 605.33h-1.7M380.97 596.27h-1.7M380.97 591.69h-1.7M380.97 588.45h-1.7M380.97 585.93h-1.7M380.97 583.87h-1.7M380.97 582.13h-1.7M380.97 580.62h-1.7M380.97 579.29h-1.7M380.97 668.54h-1.7M380.97 673.26h-1.7M380.97 666.18h-1.7M380.97 675.62h-1.7M380.97 663.82h-1.7M380.97 677.98h-1.7M380.97 661.46h-1.7M380.97 680.34h-1.7M380.97 570.27h-1.7" stroke="#000" stroke-width="1.05" fill="none"/>
<text x="394.6" y="694.9" font-size="7.6" fill="#5a5a5a" text-anchor="middle">0</text>
<text x="406.1" y="694.9" font-size="7.6" fill="#5a5a5a" text-anchor="middle">10</text>
<text x="410.7" y="692.0" font-size="6.2" fill="#5a5a5a">2</text>
<text x="434.3" y="694.9" font-size="7.6" fill="#5a5a5a" text-anchor="middle">10</text>
<text x="438.9" y="692.0" font-size="6.2" fill="#5a5a5a">3</text>
<text x="461.1" y="694.9" font-size="7.6" fill="#5a5a5a" text-anchor="middle">10</text>
<text x="465.7" y="692.0" font-size="6.2" fill="#5a5a5a">4</text>
<text x="487.1" y="694.9" font-size="7.6" fill="#5a5a5a" text-anchor="middle">10</text>
<text x="491.7" y="692.0" font-size="6.2" fill="#5a5a5a">5</text>
<text x="377.0" y="673.4" font-size="7.6" fill="#5a5a5a" text-anchor="end">0</text>
<text x="375.4" y="662.4" font-size="7.6" fill="#5a5a5a" text-anchor="end">10</text>
<text x="376.2" y="658.4" font-size="6.2" fill="#5a5a5a">2</text>
<text x="375.4" y="633.4" font-size="7.6" fill="#5a5a5a" text-anchor="end">10</text>
<text x="376.2" y="629.4" font-size="6.2" fill="#5a5a5a">3</text>
<text x="375.4" y="606.6" font-size="7.6" fill="#5a5a5a" text-anchor="end">10</text>
<text x="376.2" y="602.6" font-size="6.2" fill="#5a5a5a">4</text>
<text x="375.4" y="580.6" font-size="7.6" fill="#5a5a5a" text-anchor="end">10</text>
<text x="376.2" y="576.6" font-size="6.2" fill="#5a5a5a">5</text>
<path d="M409.85 567.3V684.5M381.4 651.35H499.75" stroke="#000" stroke-width="1.25" fill="none"/>
<text x="383.82" y="579.8" font-size="11.9" stroke="#000" stroke-width="0.1" textLength="23.16" lengthAdjust="spacingAndGlyphs">0.01</text>
<text x="475.9" y="579.8" font-size="11.9" stroke="#000" stroke-width="0.1" textLength="23.16" lengthAdjust="spacingAndGlyphs">93.1</text>
<text x="383.82" y="681.7" font-size="11.9" stroke="#000" stroke-width="0.1" textLength="23.16" lengthAdjust="spacingAndGlyphs">0.01</text>
<text x="482.44" y="681.7" font-size="11.9" stroke="#000" stroke-width="0.1" textLength="16.54" lengthAdjust="spacingAndGlyphs">6.9</text>
<text x="365.2" y="646.86" font-size="21.13" stroke="#000" stroke-width="0.35" textLength="65.77" lengthAdjust="spacingAndGlyphs" transform="rotate(-90 365.2 646.86)">CD123</text>
<text x="411.93" y="715.1" font-size="21.34" stroke="#000" stroke-width="0.35" textLength="54.56" lengthAdjust="spacingAndGlyphs">CD13</text>
</g>
<g id="panelE">
<text x="-0.01" y="736.5" font-size="29.4" stroke="#000" stroke-width="0.35" textLength="19.61" lengthAdjust="spacingAndGlyphs" font-weight="bold">E</text>
<text x="13.39" y="751.2" font-size="12.6" stroke="#000" stroke-width="0.22" textLength="31.52" lengthAdjust="spacingAndGlyphs">Mean</text>
<text x="13.39" y="765.9" font-size="12.6" stroke="#000" stroke-width="0.22" textLength="75.64" lengthAdjust="spacingAndGlyphs">Fluorescence</text>
<text x="13.27" y="780.6" font-size="12.6" stroke="#000" stroke-width="0.22" textLength="60.93" lengthAdjust="spacingAndGlyphs">Intensity of</text>
<text x="13.77" y="795.3" font-size="12.6" stroke="#000" stroke-width="0.22" textLength="71.43" lengthAdjust="spacingAndGlyphs">CD13, CD33</text>
<text x="13.83" y="810.0" font-size="12.6" stroke="#000" stroke-width="0.22" textLength="63.75" lengthAdjust="spacingAndGlyphs">and CD123</text>
<text x="13.9" y="824.7" font-size="12.6" stroke="#000" stroke-width="0.22" textLength="46.92" lengthAdjust="spacingAndGlyphs">on (Lin-)</text>
<text x="13.77" y="839.4" font-size="12.6" stroke="#000" stroke-width="0.22" textLength="79.48" lengthAdjust="spacingAndGlyphs">CD34+ CD38-</text>
<text x="13.83" y="854.1" font-size="12.6" stroke="#000" stroke-width="0.22" textLength="25.21" lengthAdjust="spacingAndGlyphs">cells</text>
<path d="M146.3 756.8V970.6H436" stroke="#777" stroke-width="1" fill="none"/>
<path d="M143.8 970.60H146.3M143.8 949.27H146.3M143.8 927.94H146.3M143.8 906.61H146.3M143.8 885.28H146.3M143.8 863.95H146.3M143.8 842.62H146.3M143.8 821.29H146.3M143.8 799.96H146.3M143.8 778.63H146.3M143.8 757.30H146.3" stroke="#777" stroke-width="1"/>
<text x="131.58" y="974.8" font-size="17.5" stroke="#000" stroke-width="0.35" textLength="9.95" lengthAdjust="spacingAndGlyphs">0</text>
<text x="100.31" y="953.3" font-size="17.5" stroke="#000" stroke-width="0.35" textLength="41.23" lengthAdjust="spacingAndGlyphs">1000</text>
<text x="99.04" y="931.7" font-size="17.5" stroke="#000" stroke-width="0.35" textLength="42.51" lengthAdjust="spacingAndGlyphs">2000</text>
<text x="99.24" y="909.5" font-size="17.5" stroke="#000" stroke-width="0.35" textLength="42.32" lengthAdjust="spacingAndGlyphs">3000</text>
<text x="99.53" y="888.1" font-size="17.5" stroke="#000" stroke-width="0.35" textLength="42.02" lengthAdjust="spacingAndGlyphs">4000</text>
<text x="99.24" y="866.7" font-size="17.5" stroke="#000" stroke-width="0.35" textLength="42.32" lengthAdjust="spacingAndGlyphs">5000</text>
<text x="99.04" y="845.9" font-size="17.5" stroke="#000" stroke-width="0.35" textLength="42.51" lengthAdjust="spacingAndGlyphs">6000</text>
<text x="99.04" y="824.3" font-size="17.5" stroke="#000" stroke-width="0.35" textLength="42.51" lengthAdjust="spacingAndGlyphs">7000</text>
<text x="99.14" y="804.7" font-size="17.5" stroke="#000" stroke-width="0.35" textLength="42.41" lengthAdjust="spacingAndGlyphs">8000</text>
<text x="99.14" y="785.1" font-size="17.5" stroke="#000" stroke-width="0.35" textLength="42.41" lengthAdjust="spacingAndGlyphs">9000</text>
<text x="89.91" y="764.9" font-size="17.5" stroke="#000" stroke-width="0.35" textLength="51.65" lengthAdjust="spacingAndGlyphs">10000</text>
<path d="M177.00 955.50V946.75M174.00 947.35H180.00" stroke="#000" stroke-width="1.7" fill="none"/>
<path d="M201.75 956.50V949.50M198.75 950.10H204.75" stroke="#000" stroke-width="1.7" fill="none"/>
<path d="M226.75 876.75V776.25M223.75 776.85H229.75" stroke="#000" stroke-width="1.7" fill="none"/>
<path d="M275.20 946.00V927.50M272.20 928.10H278.20" stroke="#000" stroke-width="1.7" fill="none"/>
<path d="M300.50 947.75V942.00M297.50 942.60H303.50" stroke="#000" stroke-width="1.7" fill="none"/>
<path d="M324.25 936.50V891.25M321.25 891.85H327.25" stroke="#000" stroke-width="1.7" fill="none"/>
<path d="M373.75 968.80V966.50M370.75 967.10H376.75" stroke="#000" stroke-width="1.7" fill="none"/>
<path d="M398.75 964.00V958.75M395.75 959.35H401.75" stroke="#000" stroke-width="1.7" fill="none"/>
<path d="M422.50 943.50V920.00M419.50 920.60H425.50" stroke="#000" stroke-width="1.7" fill="none"/>
<rect x="165.25" y="955.50" width="23.00" height="14.60" fill="#fff" stroke="#000" stroke-width="2"/>
<rect x="189.25" y="956.50" width="24.00" height="13.60" fill="#fff" stroke="#000" stroke-width="2"/>
<path d="M189.25 961.37H213.25M189.25 966.23H213.25" stroke="#000" stroke-width="1.9" fill="none"/>
<rect x="213.25" y="875.75" width="24.75" height="95.35" fill="#000"/>
<rect x="264.75" y="946.00" width="22.75" height="24.10" fill="#fff" stroke="#000" stroke-width="2"/>
<rect x="288.50" y="947.75" width="23.50" height="22.35" fill="#fff" stroke="#000" stroke-width="2"/>
<path d="M288.50 953.59H312.00M288.50 959.42H312.00M288.50 965.26H312.00" stroke="#000" stroke-width="1.9" fill="none"/>
<rect x="312.00" y="935.50" width="24.75" height="35.60" fill="#000"/>
<rect x="361.75" y="967.8" width="25.0" height="3.30" fill="#000"/>
<rect x="386.75" y="964.00" width="23.50" height="6.10" fill="#fff" stroke="#000" stroke-width="2"/>
<rect x="410.25" y="942.50" width="25.25" height="28.60" fill="#000"/>
<text x="168.92" y="990" font-size="21.54" stroke="#000" stroke-width="0.35" textLength="55.08" lengthAdjust="spacingAndGlyphs">CD13</text>
<text x="271.13" y="989.8" font-size="21.46" stroke="#000" stroke-width="0.35" textLength="54.88" lengthAdjust="spacingAndGlyphs">CD33</text>
<text x="364.61" y="991.2" font-size="21.72" stroke="#000" stroke-width="0.35" textLength="67.63" lengthAdjust="spacingAndGlyphs">CD123</text>
<rect x="341.40" y="765.30" width="12.70" height="12.70" fill="#fff" stroke="#000" stroke-width="1.8"/>
<rect x="341.40" y="785.20" width="12.70" height="12.80" fill="#fff" stroke="#000" stroke-width="1.8"/>
<path d="M341 789.7H354M341 793.3H354" stroke="#000" stroke-width="1.8"/>
<rect x="340.00" y="804.00" width="15.00" height="14.00" fill="#000"/>
<text x="358.53" y="779" font-size="20.87" stroke="#000" stroke-width="0.35" textLength="124.11" lengthAdjust="spacingAndGlyphs">Bone marrow</text>
<text x="359.15" y="798" font-size="21.01" stroke="#000" stroke-width="0.35" textLength="102.76" lengthAdjust="spacingAndGlyphs">Cord blood</text>
<text x="358.9" y="818" font-size="20.4" stroke="#000" stroke-width="0.35" textLength="41.94" lengthAdjust="spacingAndGlyphs">AML</text>
</g>
</svg></body></html>
